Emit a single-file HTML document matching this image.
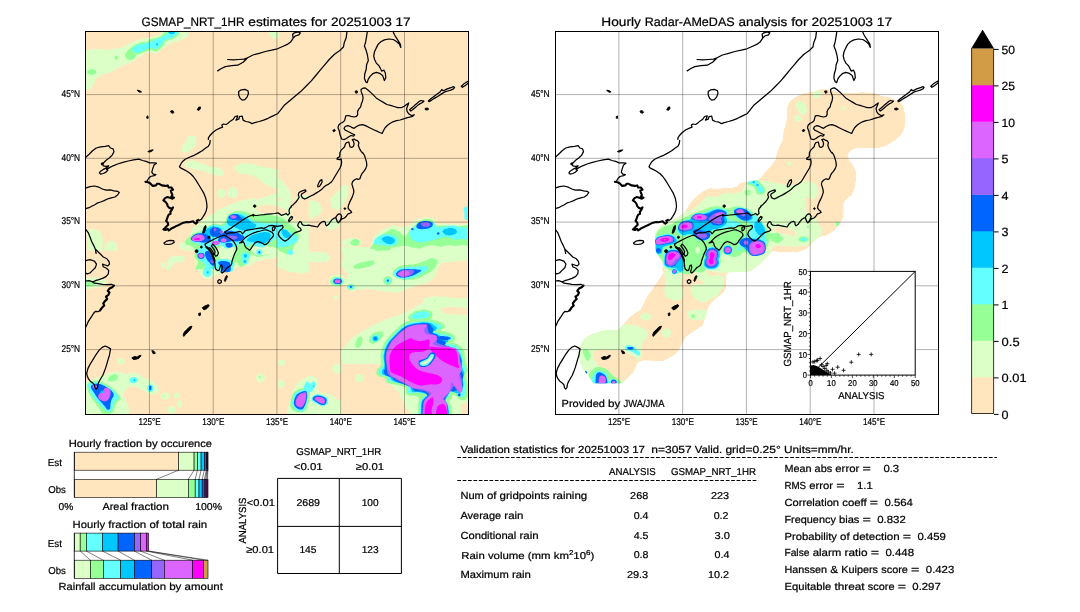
<!DOCTYPE html>
<html><head><meta charset="utf-8"><title>GSMAP validation</title>
<style>html,body{margin:0;padding:0;background:#fff;overflow:hidden}svg{display:block;will-change:transform}text{font-family:"Liberation Sans",sans-serif;fill:#000;stroke:#000;stroke-width:0.22px;text-rendering:geometricPrecision}</style></head><body>
<svg width="1080" height="612" viewBox="0 0 1080 612">
<rect width="1080" height="612" fill="#fff"/>
<defs><clipPath id="cl"><rect x="85.5" y="31.5" width="383" height="383"/></clipPath><clipPath id="cr"><rect x="555.5" y="31.5" width="383" height="383"/></clipPath></defs>
<g clip-path="url(#cl)">
<rect x="85" y="30" width="385" height="386" fill="#ffe6be"/>
<path d="M85.0,50.6C85.9,49.5 88.6,50.0 90.3,49.7C92.1,49.4 94.1,48.9 95.7,48.8C97.3,48.7 98.5,49.0 99.8,49.1C101.2,49.2 102.6,49.3 104.0,49.4C105.4,49.5 106.8,49.8 108.2,49.7C109.5,49.7 110.9,49.3 112.3,49.1C113.7,48.9 115.1,48.7 116.5,48.5C117.9,48.3 118.7,48.6 120.6,47.9C122.5,47.2 125.7,45.3 127.7,44.4C129.8,43.4 131.3,42.9 133.1,42.1C134.9,41.4 136.8,40.4 138.4,39.9C140.0,39.4 141.2,39.3 142.6,39.0C144.0,38.7 145.4,38.4 146.7,38.1C148.1,37.8 149.5,37.6 150.9,37.2C152.3,36.9 153.9,36.3 155.4,35.9C156.8,35.5 158.2,35.4 159.8,34.6C161.4,33.7 163.4,31.6 165.1,31.0C166.9,30.4 168.7,31.0 170.5,31.0C172.3,31.0 174.1,31.0 175.8,31.0C177.6,31.0 179.4,31.0 181.2,31.0C183.0,31.0 185.5,30.1 186.5,31.0C187.6,31.9 188.3,34.9 187.4,36.3C186.5,37.8 183.1,39.0 181.2,39.9C179.2,40.8 177.6,41.1 175.8,41.7C174.1,42.3 172.6,42.4 170.5,43.5C168.4,44.5 165.7,46.3 163.4,47.9C161.0,49.6 158.9,52.5 156.2,53.3C153.6,54.0 149.6,52.1 147.3,52.4C145.1,52.7 144.4,54.2 142.9,55.0C141.4,55.9 140.4,56.5 138.4,57.7C136.5,58.9 133.4,61.1 131.3,62.2C129.2,63.3 127.7,63.7 126.0,64.4C124.2,65.1 122.3,65.8 120.6,66.6C119.0,67.4 117.7,68.4 116.2,69.3C114.7,70.2 113.2,71.3 111.7,72.0C110.2,72.6 108.7,72.9 107.3,73.3C105.8,73.7 104.7,73.7 102.8,74.6C100.9,75.6 97.2,77.5 95.7,79.1C94.2,80.7 95.1,82.7 93.9,84.4C92.7,86.2 90.0,88.9 88.6,89.8C87.1,90.7 85.6,90.7 85.0,89.8C84.4,88.8 85.0,86.0 85.0,84.2C85.0,82.3 85.0,80.4 85.0,78.6C85.0,76.7 85.0,74.8 85.0,73.0C85.0,71.1 85.0,69.3 85.0,67.4C85.0,65.5 85.0,63.7 85.0,61.8C85.0,59.9 85.0,58.1 85.0,56.2C85.0,54.3 84.1,51.7 85.0,50.6Z" fill="#dcffc8"/>
<path d="M270.2,31.0C271.6,30.3 276.9,29.8 278.2,31.0C279.6,32.2 279.1,36.9 278.2,38.1C277.4,39.4 274.3,38.9 272.9,38.5C271.5,38.0 270.3,36.7 269.9,35.5C269.4,34.2 268.8,31.7 270.2,31.0Z" fill="#dcffc8"/>
<path d="M182.1,150.7C181.5,149.5 182.2,147.0 183.0,145.3C183.7,143.7 185.6,142.4 186.5,140.9C187.4,139.4 186.8,137.2 188.3,136.4C189.8,135.7 194.2,135.1 195.4,136.4C196.7,137.8 196.4,142.4 195.8,144.5C195.2,146.5 193.4,147.6 191.9,148.9C190.3,150.2 188.2,152.2 186.5,152.5C184.9,152.8 182.7,151.9 182.1,150.7Z" fill="#dcffc8"/>
<path d="M184.7,163.2C185.8,162.1 189.9,160.7 191.9,160.5C193.8,160.3 194.8,161.4 196.3,161.8C197.8,162.3 199.3,162.6 200.8,163.2C202.3,163.7 203.7,164.3 205.2,164.9C206.7,165.5 207.7,166.3 209.7,166.7C211.6,167.2 214.4,166.9 216.8,167.6C219.2,168.3 223.0,169.8 223.9,171.2C224.8,172.5 223.6,175.0 222.1,175.6C220.7,176.2 217.4,175.2 215.0,174.7C212.6,174.3 210.3,173.7 207.9,172.9C205.5,172.2 202.7,170.9 200.8,170.3C198.8,169.7 197.8,169.7 196.3,169.4C194.8,169.1 193.6,168.9 191.9,168.5C190.1,168.1 186.8,167.6 185.6,166.7C184.4,165.8 183.7,164.2 184.7,163.2Z" fill="#dcffc8"/>
<path d="M234.6,166.7C235.5,165.4 239.7,163.7 241.7,163.2C243.8,162.6 245.3,163.5 247.1,163.6C248.9,163.7 250.6,163.7 252.4,164.0C254.2,164.3 256.0,164.9 257.8,165.4C259.5,165.8 261.4,166.3 263.1,166.7C264.8,167.1 266.5,167.5 268.2,167.9C269.8,168.3 271.5,168.7 273.2,169.1C274.9,169.5 277.4,169.3 278.2,170.3C279.1,171.3 278.2,173.4 278.2,175.0C278.2,176.5 278.2,178.1 278.2,179.6C278.2,181.2 278.2,182.7 278.2,184.3C278.2,185.9 279.6,188.6 278.2,189.0C276.9,189.4 272.8,187.7 270.2,186.7C267.7,185.6 265.5,184.3 263.1,182.7C260.7,181.2 258.4,178.7 256.0,177.4C253.6,176.1 251.2,175.3 248.9,174.7C246.5,174.1 243.8,174.4 241.7,173.8C239.7,173.2 237.6,172.4 236.4,171.2C235.2,170.0 233.7,168.1 234.6,166.7Z" fill="#dcffc8"/>
<ellipse cx="221.3" cy="193.4" rx="4.5" ry="4.5" fill="#dcffc8" transform="rotate(0 221.3 193.4)"/>
<ellipse cx="232.8" cy="192.5" rx="5.3" ry="5.3" fill="#dcffc8" transform="rotate(0 232.8 192.5)"/>
<path d="M184.7,250.4C183.9,248.9 184.7,243.9 185.6,241.5C186.5,239.1 189.0,238.3 190.1,236.2C191.1,234.1 190.4,231.1 191.9,229.1C193.3,227.0 197.1,225.2 199.0,223.7C200.9,222.2 202.0,221.3 203.4,220.1C204.9,219.0 206.4,217.6 207.9,216.6C209.4,215.5 210.9,214.8 212.3,213.9C213.8,213.0 214.9,212.3 216.8,211.2C218.7,210.2 222.0,208.4 223.9,207.7C225.9,206.9 226.9,207.1 228.4,206.8C229.9,206.5 230.6,206.2 232.8,205.9C235.1,205.6 239.5,205.4 241.7,205.0C244.0,204.6 244.7,204.1 246.2,203.7C247.7,203.2 249.2,202.9 250.6,202.3C252.1,201.8 253.6,201.2 255.1,200.6C256.6,200.0 257.9,199.4 259.5,198.8C261.2,198.2 263.1,197.6 264.9,197.0C266.7,196.4 268.0,195.8 270.2,195.2C272.5,194.6 276.9,192.8 278.2,193.4C279.6,194.1 278.2,197.2 278.2,199.1C278.2,201.0 278.2,202.9 278.2,204.8C278.2,206.7 278.2,208.6 278.2,210.5C278.2,212.4 278.2,214.3 278.2,216.2C278.2,218.1 278.2,220.0 278.2,221.9C278.2,223.8 278.2,225.7 278.2,227.6C278.2,229.5 278.2,231.4 278.2,233.3C278.2,235.2 278.2,237.1 278.2,239.0C278.2,240.9 278.2,242.8 278.2,244.7C278.2,246.6 279.2,249.5 278.2,250.4C277.3,251.4 274.4,250.4 272.4,250.4C270.5,250.4 268.5,250.4 266.6,250.4C264.6,250.4 262.7,250.4 260.7,250.4C258.8,250.4 256.8,250.4 254.9,250.4C252.9,250.4 251.0,250.4 249.0,250.4C247.1,250.4 245.1,250.4 243.2,250.4C241.2,250.4 239.3,250.4 237.3,250.4C235.4,250.4 233.4,250.4 231.5,250.4C229.5,250.4 227.6,250.4 225.6,250.4C223.7,250.4 221.8,250.4 219.8,250.4C217.9,250.4 215.9,250.4 214.0,250.4C212.0,250.4 210.1,250.4 208.1,250.4C206.2,250.4 204.2,250.4 202.3,250.4C200.3,250.4 198.4,250.4 196.4,250.4C194.5,250.4 192.5,250.4 190.6,250.4C188.6,250.4 185.6,251.9 184.7,250.4Z" fill="#dcffc8"/>
<path d="M86.8,232.6C87.6,231.0 90.2,229.4 92.1,229.1C94.1,228.8 96.7,229.6 98.4,230.8C100.0,232.0 101.2,234.1 101.9,236.2C102.7,238.3 103.0,240.9 102.8,243.3C102.7,245.7 102.0,249.2 101.0,250.4C100.0,251.6 98.3,250.4 96.9,250.4C95.5,250.4 94.1,250.4 92.7,250.4C91.3,250.4 89.4,251.4 88.6,250.4C87.8,249.4 88.2,246.5 88.0,244.5C87.8,242.5 87.6,240.5 87.4,238.6C87.2,236.6 86.0,234.2 86.8,232.6Z" fill="#dcffc8"/>
<path d="M104.6,246.9C105.3,245.4 107.3,242.3 109.0,241.5C110.8,240.8 113.9,240.9 115.3,242.4C116.6,243.9 117.5,249.1 117.1,250.4C116.7,251.8 114.3,250.4 112.9,250.4C111.5,250.4 110.1,250.4 108.7,250.4C107.4,250.4 105.3,251.0 104.6,250.4C103.9,249.8 103.8,248.3 104.6,246.9Z" fill="#dcffc8"/>
<path d="M213.4,222.4C214.4,220.6 213.6,216.3 214.6,214.1C215.6,211.9 217.9,210.4 219.4,209.3C220.9,208.2 222.1,208.1 223.5,207.5C224.9,206.9 226.3,206.3 227.7,205.7C229.1,205.1 230.5,204.5 231.9,203.9C233.3,203.4 234.0,202.9 236.1,202.2C238.2,201.5 241.8,200.4 244.4,199.8C247.0,199.2 249.6,198.7 251.6,198.6C253.6,198.5 254.8,199.0 256.3,199.2C257.9,199.4 259.1,199.3 261.1,199.8C263.1,200.3 265.9,201.8 268.3,202.2C270.7,202.6 272.8,202.6 275.4,202.2C278.0,201.8 281.0,200.4 283.8,199.8C286.6,199.2 289.5,199.2 292.1,198.6C294.7,198.0 297.3,196.7 299.3,196.2C301.3,195.7 302.5,195.8 304.1,195.6C305.7,195.4 308.0,194.1 308.8,195.0C309.6,195.9 308.8,199.0 308.8,200.9C308.8,202.9 308.8,204.9 308.8,206.9C308.8,208.8 308.8,210.8 308.8,212.8C308.8,214.8 308.8,216.7 308.8,218.7C308.8,220.7 308.8,222.7 308.8,224.6C308.8,226.6 308.8,228.6 308.8,230.6C308.8,232.5 308.8,234.5 308.8,236.5C308.8,238.5 308.8,240.5 308.8,242.4C308.8,244.4 308.8,246.4 308.8,248.4C308.8,250.3 309.6,253.2 308.8,254.3C308.0,255.4 305.7,254.7 304.1,254.9C302.5,255.1 301.3,255.2 299.3,255.5C297.3,255.8 294.1,256.3 292.1,256.7C290.1,257.1 289.2,258.1 287.4,257.9C285.6,257.7 283.4,255.5 281.4,255.5C279.4,255.5 277.6,257.3 275.4,257.9C273.2,258.5 270.7,258.7 268.3,259.1C265.9,259.5 263.5,259.7 261.1,260.3C258.7,260.8 255.9,261.7 254.0,262.6C252.0,263.5 251.2,265.0 249.2,265.6C247.2,266.2 244.2,265.9 242.0,266.2C239.8,266.5 237.9,266.8 236.1,267.4C234.3,268.0 233.1,269.0 231.3,269.8C229.5,270.6 227.3,271.6 225.3,272.2C223.3,272.8 221.2,272.8 219.4,273.4C217.6,274.0 216.2,274.8 214.6,275.8C213.0,276.8 211.6,278.9 209.8,279.3C208.0,279.7 205.3,278.9 203.9,278.1C202.5,277.4 202.5,276.0 201.5,274.6C200.5,273.2 198.8,271.1 197.9,269.8C197.0,268.5 196.6,267.9 196.1,266.6C195.6,265.2 195.0,263.8 194.9,261.8C194.8,259.8 195.8,256.6 195.5,254.6C195.2,252.7 194.5,251.0 193.1,249.9C191.7,248.8 189.3,248.2 187.2,248.1C185.0,248.0 181.2,250.2 180.0,249.3C178.8,248.4 179.4,243.8 180.0,242.7C180.6,241.6 182.4,243.1 183.6,242.7C184.8,242.3 185.8,241.5 187.2,240.3C188.5,239.1 190.1,237.1 191.9,235.6C193.7,234.0 195.9,232.5 197.9,230.8C199.9,229.1 202.1,226.4 203.9,225.4C205.6,224.4 207.0,225.3 208.6,224.8C210.2,224.3 212.4,224.2 213.4,222.4Z" fill="#dcffc8"/>
<path d="M282.6,262.7C282.3,264.1 284.7,264.4 285.8,265.3C286.8,266.1 287.9,267.0 289.0,267.8C290.0,268.7 290.4,269.5 292.1,270.4C293.9,271.3 297.3,273.0 299.3,273.4C301.3,273.8 302.5,273.0 304.1,272.8C305.7,272.6 308.0,273.1 308.8,272.2C309.6,271.3 308.8,269.0 308.8,267.4C308.8,265.8 308.8,264.3 308.8,262.7C308.8,261.1 308.8,259.5 308.8,257.9C308.8,256.3 309.7,253.8 308.8,253.1C307.9,252.5 305.3,253.7 303.5,254.0C301.7,254.3 299.9,254.6 298.1,254.9C296.3,255.2 294.5,255.5 292.7,255.8C290.9,256.1 289.1,255.6 287.4,256.7C285.7,257.8 282.9,261.2 282.6,262.7Z" fill="#dcffc8"/>
<path d="M277.0,177.4C277.9,177.2 280.6,179.2 282.3,181.0C284.1,182.7 286.2,185.7 287.7,188.1C289.2,190.5 291.2,193.1 291.2,195.2C291.2,197.3 289.5,200.0 287.7,200.6C285.9,201.2 282.3,199.4 280.6,198.8C278.8,198.2 277.6,198.1 277.0,197.0C276.4,195.9 277.0,193.7 277.0,192.1C277.0,190.5 277.0,188.8 277.0,187.2C277.0,185.6 277.0,183.9 277.0,182.3C277.0,180.7 276.1,177.6 277.0,177.4Z" fill="#dcffc8"/>
<path d="M301.0,207.7C301.5,205.6 303.6,203.5 305.5,202.3C307.4,201.2 310.2,200.3 312.6,200.6C315.0,200.9 318.3,202.3 319.7,204.1C321.2,205.9 322.1,209.2 321.5,211.2C320.9,213.3 318.3,215.4 316.2,216.6C314.1,217.8 311.3,218.7 309.1,218.4C306.8,218.1 304.2,216.6 302.8,214.8C301.5,213.0 300.6,209.8 301.0,207.7Z" fill="#dcffc8"/>
<path d="M330.4,198.8C331.2,197.1 334.4,194.9 335.8,193.4C337.2,191.9 337.9,191.1 338.9,189.9C339.9,188.7 340.6,187.1 342.0,186.3C343.4,185.6 346.3,184.2 347.4,185.4C348.4,186.6 348.4,191.4 348.2,193.4C348.1,195.5 347.1,196.4 346.5,197.9C345.9,199.4 345.9,200.4 344.7,202.3C343.5,204.3 341.4,208.6 339.3,209.5C337.3,210.4 333.5,208.7 332.2,207.7C330.9,206.6 331.6,204.7 331.3,203.2C331.0,201.7 329.7,200.4 330.4,198.8Z" fill="#dcffc8"/>
<path d="M325.1,223.7C325.5,222.2 328.4,219.9 330.4,219.3C332.5,218.7 336.1,219.1 337.6,220.1C339.0,221.2 339.9,224.0 339.3,225.5C338.7,227.0 335.9,228.6 334.0,229.1C332.1,229.5 329.2,229.1 327.8,228.2C326.3,227.3 324.6,225.2 325.1,223.7Z" fill="#dcffc8"/>
<path d="M277.0,218.4C277.7,217.6 280.0,219.0 281.5,219.3C282.9,219.6 284.7,219.5 285.9,220.1C287.1,220.8 287.9,222.1 288.9,223.1C289.9,224.1 290.9,225.1 291.8,226.1C292.8,227.1 293.7,228.0 294.8,229.1C295.9,230.1 297.2,231.4 298.4,232.6C299.6,233.8 300.2,235.1 301.9,236.2C303.7,237.2 308.2,237.7 309.1,238.8C309.9,240.0 308.3,242.4 307.3,243.3C306.2,244.2 304.3,243.9 302.8,244.2C301.3,244.5 300.3,244.0 298.4,245.1C296.4,246.1 293.2,249.5 291.2,250.4C289.3,251.3 288.1,250.4 286.5,250.4C284.9,250.4 283.3,250.4 281.7,250.4C280.2,250.4 277.8,251.3 277.0,250.4C276.2,249.5 277.0,246.9 277.0,245.1C277.0,243.3 277.0,241.5 277.0,239.7C277.0,238.0 277.0,236.2 277.0,234.4C277.0,232.6 277.0,230.8 277.0,229.1C277.0,227.3 277.0,225.5 277.0,223.7C277.0,221.9 276.3,219.1 277.0,218.4Z" fill="#dcffc8"/>
<path d="M342.0,241.5C342.6,240.5 344.5,239.4 346.5,238.8C348.4,238.3 351.4,237.8 353.6,238.0C355.8,238.1 358.6,238.7 359.8,239.7C361.0,240.8 361.5,243.1 360.7,244.2C360.0,245.3 357.4,246.1 355.4,246.5C353.3,246.9 350.3,246.7 348.2,246.5C346.2,246.3 343.9,245.9 342.9,245.1C341.9,244.3 341.4,242.6 342.0,241.5Z" fill="#dcffc8"/>
<path d="M371.4,250.4C370.6,248.9 371.4,244.2 372.3,241.5C373.2,238.8 374.8,236.5 376.7,234.4C378.7,232.3 381.9,230.2 383.9,229.1C385.8,227.9 386.8,227.9 388.3,227.3C389.8,226.7 391.3,225.6 392.8,225.5C394.3,225.3 395.7,226.1 397.2,226.4C398.7,226.7 399.7,227.4 401.7,227.3C403.6,227.1 406.4,226.7 408.8,225.5C411.2,224.3 414.0,221.3 415.9,220.1C417.9,219.0 418.9,219.3 420.4,218.8C421.9,218.4 422.6,217.6 424.8,217.5C427.1,217.4 431.7,217.3 433.7,218.4C435.8,219.4 435.8,222.8 437.3,223.7C438.8,224.6 440.9,223.7 442.6,223.7C444.4,223.7 446.2,223.6 448.0,223.7C449.8,223.8 451.5,224.0 453.3,224.2C455.1,224.3 456.8,224.6 458.7,224.6C460.5,224.6 462.5,224.3 464.5,224.2C466.4,224.0 469.3,222.9 470.2,223.7C471.2,224.5 470.2,227.3 470.2,229.1C470.2,230.8 470.2,232.6 470.2,234.4C470.2,236.2 470.2,238.0 470.2,239.7C470.2,241.5 470.2,243.3 470.2,245.1C470.2,246.9 471.2,249.5 470.2,250.4C469.3,251.3 466.4,250.4 464.4,250.4C462.5,250.4 460.6,250.4 458.6,250.4C456.7,250.4 454.7,250.4 452.8,250.4C450.9,250.4 448.9,250.4 447.0,250.4C445.0,250.4 443.1,250.4 441.2,250.4C439.2,250.4 437.3,250.4 435.4,250.4C433.4,250.4 431.5,250.4 429.5,250.4C427.6,250.4 425.7,250.4 423.7,250.4C421.8,250.4 419.9,250.4 417.9,250.4C416.0,250.4 414.0,250.4 412.1,250.4C410.2,250.4 408.2,250.4 406.3,250.4C404.3,250.4 402.4,250.4 400.5,250.4C398.5,250.4 396.6,250.4 394.7,250.4C392.7,250.4 390.8,250.4 388.8,250.4C386.9,250.4 385.0,250.4 383.0,250.4C381.1,250.4 379.1,250.4 377.2,250.4C375.3,250.4 372.2,251.9 371.4,250.4Z" fill="#dcffc8"/>
<path d="M85.0,279.3C86.2,278.2 89.5,277.6 92.1,277.5C94.8,277.3 98.7,277.6 101.0,278.4C103.4,279.1 106.1,280.6 106.4,281.9C106.7,283.3 104.1,285.5 102.8,286.4C101.5,287.3 99.8,287.0 98.4,287.3C96.9,287.6 96.1,287.9 93.9,288.2C91.7,288.5 86.5,289.7 85.0,289.1C83.5,288.4 85.0,285.8 85.0,284.2C85.0,282.5 83.8,280.4 85.0,279.3Z" fill="#dcffc8"/>
<ellipse cx="163.4" cy="265.0" rx="2.7" ry="2.7" fill="#dcffc8" transform="rotate(0 163.4 265.0)"/>
<path d="M168.7,258.8C170.1,257.5 173.2,256.4 175.8,256.1C178.5,255.8 183.6,256.1 184.7,257.0C185.9,257.9 184.0,260.6 183.0,261.5C181.9,262.4 180.0,262.1 178.5,262.4C177.0,262.7 175.5,262.1 174.1,263.2C172.6,264.4 170.9,268.6 169.6,269.5C168.3,270.4 166.4,269.6 166.0,268.6C165.7,267.6 166.9,265.3 167.4,263.7C167.8,262.1 167.3,260.1 168.7,258.8Z" fill="#dcffc8"/>
<path d="M277.0,249.0C277.8,248.0 280.3,249.0 281.9,249.0C283.5,249.0 285.2,249.0 286.8,249.0C288.4,249.0 290.1,249.0 291.7,249.0C293.3,249.0 294.9,248.1 296.6,249.0C298.3,249.9 300.7,252.3 301.9,254.3C303.1,256.4 304.0,259.1 303.7,261.5C303.4,263.8 301.9,266.8 300.2,268.6C298.4,270.4 295.4,271.9 293.0,272.2C290.7,272.5 287.8,271.0 285.9,270.4C284.0,269.8 282.9,269.2 281.5,268.6C280.0,268.0 277.7,268.1 277.0,266.8C276.3,265.5 277.0,262.9 277.0,260.9C277.0,258.9 277.0,256.9 277.0,254.9C277.0,253.0 276.2,250.0 277.0,249.0Z" fill="#dcffc8"/>
<path d="M303.7,254.3C304.2,253.1 306.7,253.5 308.2,253.0C309.7,252.6 311.2,251.8 312.6,251.7C314.1,251.5 315.4,251.9 316.8,252.0C318.2,252.1 319.5,252.2 320.9,252.3C322.3,252.4 323.5,251.8 325.1,252.6C326.7,253.4 330.1,255.5 330.4,257.0C330.7,258.5 328.4,260.7 326.9,261.5C325.4,262.3 323.3,261.8 321.5,261.9C319.7,262.1 318.0,262.4 316.2,262.4C314.4,262.3 312.6,261.8 310.8,261.5C309.1,261.2 306.7,261.8 305.5,260.6C304.3,259.4 303.3,255.6 303.7,254.3Z" fill="#dcffc8"/>
<path d="M341.1,247.2C341.9,246.3 345.0,247.2 347.0,247.2C348.9,247.2 350.9,247.2 352.9,247.2C354.8,247.2 356.8,247.2 358.7,247.2C360.7,247.2 362.6,247.2 364.6,247.2C366.6,247.2 368.5,247.2 370.5,247.2C372.4,247.2 374.4,247.2 376.3,247.2C378.3,247.2 380.2,247.2 382.2,247.2C384.2,247.2 386.1,247.2 388.1,247.2C390.0,247.2 392.0,247.2 393.9,247.2C395.9,247.2 397.9,247.2 399.8,247.2C401.8,247.2 403.7,247.2 405.7,247.2C407.6,247.2 409.6,247.2 411.6,247.2C413.5,247.2 415.5,247.2 417.4,247.2C419.4,247.2 421.3,247.2 423.3,247.2C425.2,247.2 427.2,247.2 429.2,247.2C431.1,247.2 433.1,247.2 435.0,247.2C437.0,247.2 438.9,247.2 440.9,247.2C442.9,247.2 444.8,247.2 446.8,247.2C448.7,247.2 450.7,247.2 452.6,247.2C454.6,247.2 456.6,247.2 458.5,247.2C460.5,247.2 462.4,247.2 464.4,247.2C466.3,247.2 469.3,246.5 470.2,247.2C471.2,247.9 470.2,250.0 470.2,251.4C470.2,252.8 470.2,254.1 470.2,255.5C470.2,256.9 471.1,258.9 470.2,259.7C469.4,260.5 466.9,260.1 465.2,260.3C463.5,260.5 461.8,260.7 460.2,260.9C458.5,261.1 456.7,261.3 455.1,261.5C453.5,261.7 451.9,261.9 450.4,262.1C448.8,262.3 447.2,262.5 445.6,262.7C444.0,262.9 442.2,262.0 440.9,263.2C439.5,264.5 438.5,268.0 437.3,270.4C436.1,272.7 435.5,275.4 433.7,277.5C432.0,279.6 429.0,281.7 426.6,282.8C424.2,284.0 421.9,283.9 419.5,284.6C417.1,285.4 414.7,286.4 412.4,287.3C410.0,288.2 407.6,289.1 405.2,290.0C402.9,290.9 400.2,292.3 398.1,292.6C396.0,293.0 394.6,292.3 392.8,292.2C391.0,292.0 389.2,292.0 387.4,291.7C385.6,291.5 383.9,291.2 382.1,290.9C380.3,290.6 378.5,290.2 376.7,290.0C375.0,289.7 373.2,289.7 371.4,289.5C369.6,289.4 368.1,289.0 366.1,289.1C364.0,289.1 361.3,289.7 358.9,290.0C356.6,290.3 353.9,291.3 351.8,290.9C349.7,290.4 347.6,288.9 346.5,287.3C345.3,285.7 344.4,283.0 344.7,281.1C345.0,279.1 348.2,277.5 348.2,275.7C348.2,273.9 345.9,272.2 344.7,270.4C343.5,268.6 341.4,267.1 341.1,265.0C340.8,263.0 342.8,260.0 342.9,257.9C343.0,255.8 342.3,254.3 342.0,252.6C341.7,250.8 340.3,248.1 341.1,247.2Z" fill="#dcffc8"/>
<path d="M328.7,281.1C328.9,279.4 330.3,276.8 332.2,275.7C334.1,274.7 338.0,274.2 340.2,274.8C342.5,275.4 345.0,277.5 345.6,279.3C346.2,281.1 345.4,284.2 343.8,285.5C342.2,286.8 338.0,287.3 335.8,287.3C333.5,287.3 331.6,286.6 330.4,285.5C329.2,284.5 328.4,282.7 328.7,281.1Z" fill="#dcffc8"/>
<path d="M423.0,298.9C423.9,298.1 426.6,298.0 428.4,297.5C430.2,297.1 432.1,296.4 433.7,296.2C435.4,296.0 436.9,296.4 438.5,296.5C440.1,296.6 441.7,296.7 443.2,296.8C444.8,296.9 446.4,296.8 448.0,297.1C449.6,297.3 451.1,297.9 452.7,298.3C454.3,298.7 455.9,299.1 457.5,299.5C459.1,299.9 460.1,300.2 462.2,300.7C464.4,301.1 468.9,301.1 470.2,302.4C471.6,303.7 470.2,306.4 470.2,308.4C470.2,310.3 470.2,312.3 470.2,314.3C470.2,316.3 471.6,319.8 470.2,320.2C468.9,320.6 464.8,318.2 462.2,316.7C459.7,315.2 457.0,312.4 455.1,311.3C453.2,310.3 452.1,310.7 450.7,310.4C449.2,310.2 447.7,309.9 446.2,309.6C444.7,309.3 443.2,309.0 441.7,308.7C440.3,308.4 438.8,308.1 437.3,307.8C435.8,307.5 434.3,307.2 432.8,306.9C431.4,306.6 430.0,306.7 428.4,306.0C426.8,305.3 423.9,303.6 423.0,302.4C422.2,301.2 422.2,299.7 423.0,298.9Z" fill="#dcffc8"/>
<path d="M348.2,359.4C347.4,358.5 348.8,355.9 349.1,354.1C349.4,352.3 349.4,350.4 350.0,348.7C350.6,347.1 351.8,345.8 352.7,344.3C353.6,342.8 354.3,341.2 355.4,339.8C356.4,338.5 357.7,337.5 358.9,336.3C360.1,335.1 361.3,333.7 362.5,332.7C363.7,331.7 364.9,331.1 366.1,330.3C367.2,329.5 368.4,328.8 369.6,328.0C370.8,327.2 371.7,326.4 373.2,325.6C374.7,324.7 376.7,323.8 378.5,322.9C380.3,322.0 382.1,321.0 383.9,320.2C385.6,319.5 387.4,319.1 389.2,318.5C391.0,317.9 392.8,317.3 394.6,316.7C396.3,316.1 398.1,315.5 399.9,314.9C401.7,314.3 403.5,313.7 405.2,313.1C407.0,312.5 408.8,311.9 410.6,311.3C412.4,310.7 414.1,309.9 415.9,309.6C417.7,309.3 419.5,309.6 421.3,309.6C423.0,309.6 424.8,309.4 426.6,309.6C428.4,309.7 430.2,310.2 432.0,310.4C433.7,310.7 435.5,310.9 437.3,311.3C439.1,311.8 440.9,312.5 442.6,313.1C444.4,313.7 446.2,314.2 448.0,314.9C449.8,315.6 451.5,316.7 453.3,317.6C455.1,318.5 457.1,319.6 458.7,320.2C460.2,320.9 461.2,321.0 462.5,321.4C463.8,321.8 465.1,322.2 466.4,322.6C467.7,323.0 469.6,322.6 470.2,323.8C470.9,325.0 470.2,327.8 470.2,329.7C470.2,331.7 470.2,333.7 470.2,335.7C470.2,337.7 470.2,339.6 470.2,341.6C470.2,343.6 470.2,345.6 470.2,347.6C470.2,349.5 470.2,351.5 470.2,353.5C470.2,355.5 471.2,358.4 470.2,359.4C469.3,360.4 466.4,359.4 464.4,359.4C462.5,359.4 460.6,359.4 458.6,359.4C456.7,359.4 454.8,359.4 452.8,359.4C450.9,359.4 448.9,359.4 447.0,359.4C445.1,359.4 443.1,359.4 441.2,359.4C439.3,359.4 437.3,359.4 435.4,359.4C433.5,359.4 431.5,359.4 429.6,359.4C427.6,359.4 425.7,359.4 423.8,359.4C421.8,359.4 419.9,359.4 418.0,359.4C416.0,359.4 414.1,359.4 412.1,359.4C410.2,359.4 408.3,359.4 406.3,359.4C404.4,359.4 402.5,359.4 400.5,359.4C398.6,359.4 396.7,359.4 394.7,359.4C392.8,359.4 390.8,359.4 388.9,359.4C387.0,359.4 385.0,359.4 383.1,359.4C381.2,359.4 379.2,359.4 377.3,359.4C375.4,359.4 373.4,359.4 371.5,359.4C369.5,359.4 367.6,359.4 365.7,359.4C363.7,359.4 361.8,359.4 359.9,359.4C357.9,359.4 356.0,359.4 354.1,359.4C352.1,359.4 349.1,360.3 348.2,359.4Z" fill="#dcffc8"/>
<ellipse cx="335.8" cy="297.1" rx="2.1" ry="2.1" fill="#dcffc8" transform="rotate(0 335.8 297.1)"/>
<path d="M341.0,350.5C341.8,348.9 344.2,347.1 345.8,345.3C347.4,343.5 348.9,341.3 350.6,339.5C352.4,337.8 354.7,335.9 356.4,334.7C358.1,333.5 359.3,333.1 360.8,332.3C362.2,331.5 363.6,330.7 365.1,329.9C366.6,329.1 368.3,328.3 369.9,327.5C371.5,326.7 373.1,325.9 374.7,325.1C376.3,324.3 377.9,323.5 379.6,322.7C381.2,321.8 382.8,320.9 384.4,320.2C386.0,319.6 387.6,319.1 389.2,318.6C390.8,318.1 392.4,317.6 394.0,317.0C395.6,316.4 397.2,315.7 398.8,315.0C400.4,314.4 402.1,313.8 403.7,313.1C405.2,312.4 406.5,311.6 408.0,310.9C409.4,310.2 410.8,309.5 412.3,308.7C413.9,307.9 415.5,306.9 417.1,306.1C418.8,305.2 420.5,304.4 422.0,303.5C423.4,302.6 424.5,301.7 425.8,300.8C427.1,299.9 428.1,298.5 429.7,298.1C431.3,297.6 433.5,298.1 435.5,298.1C437.4,298.1 439.3,298.1 441.2,298.1C443.2,298.1 445.1,298.1 447.0,298.1C449.0,298.1 450.9,298.1 452.8,298.1C454.7,298.1 456.7,298.1 458.6,298.1C460.5,298.1 462.4,298.1 464.4,298.1C466.3,298.1 468.2,298.1 470.2,298.1C472.1,298.1 475.0,297.1 475.9,298.1C476.9,299.1 475.9,302.1 475.9,304.0C475.9,306.0 475.9,308.0 475.9,310.0C475.9,312.0 475.9,314.0 475.9,316.0C475.9,318.0 475.9,320.0 475.9,321.9C475.9,323.9 475.9,325.9 475.9,327.9C475.9,329.9 475.9,331.9 475.9,333.9C475.9,335.9 475.9,337.9 475.9,339.8C475.9,341.8 475.9,343.8 475.9,345.8C475.9,347.8 475.9,349.8 475.9,351.8C475.9,353.8 475.9,355.8 475.9,357.7C475.9,359.7 475.9,361.7 475.9,363.7C475.9,365.7 475.9,367.7 475.9,369.7C475.9,371.7 475.9,373.7 475.9,375.6C475.9,377.6 475.9,379.6 475.9,381.6C475.9,383.6 475.9,385.6 475.9,387.6C475.9,389.6 475.9,391.6 475.9,393.5C475.9,395.5 475.9,397.5 475.9,399.5C475.9,401.5 475.9,403.5 475.9,405.5C475.9,407.5 475.9,409.5 475.9,411.4C475.9,413.4 475.9,415.4 475.9,417.4C475.9,419.4 476.9,422.4 475.9,423.4C475.0,424.4 472.1,423.4 470.2,423.4C468.2,423.4 466.3,423.4 464.4,423.4C462.4,423.4 460.5,423.4 458.6,423.4C456.7,423.4 454.7,423.4 452.8,423.4C450.9,423.4 449.0,423.4 447.0,423.4C445.1,423.4 443.2,423.4 441.2,423.4C439.3,423.4 437.4,423.4 435.5,423.4C433.5,423.4 431.6,423.4 429.7,423.4C427.7,423.4 425.8,423.4 423.9,423.4C422.0,423.4 419.6,424.0 418.1,423.4C416.7,422.7 416.2,420.8 415.2,419.5C414.3,418.2 413.3,416.9 412.3,415.7C411.4,414.4 410.4,413.1 409.4,411.8C408.5,410.5 407.5,409.5 406.5,408.0C405.6,406.5 404.8,404.5 404.0,402.8C403.1,401.1 402.3,399.4 401.4,397.7C400.5,396.0 399.8,393.9 398.8,392.5C397.9,391.1 396.7,390.4 395.6,389.3C394.5,388.2 393.5,387.2 392.4,386.1C391.3,385.0 390.0,384.2 389.2,382.9C388.4,381.6 388.1,379.8 387.5,378.3C386.9,376.8 386.4,375.3 385.8,373.7C385.3,372.2 384.7,370.7 384.1,369.2C383.6,367.6 383.4,365.4 382.4,364.6C381.5,363.8 379.7,364.4 378.3,364.3C376.9,364.1 375.5,364.0 374.1,363.9C372.7,363.8 371.4,363.6 369.9,363.6C368.5,363.6 366.9,363.7 365.4,363.7C363.9,363.8 362.4,363.8 360.9,363.9C359.4,363.9 358.0,364.0 356.4,364.0C354.8,364.0 353.0,363.9 351.3,363.9C349.6,363.8 347.9,363.8 346.1,363.7C344.4,363.7 341.9,364.4 341.0,363.6C340.1,362.9 341.0,360.7 341.0,359.2C341.0,357.8 341.0,356.3 341.0,354.9C341.0,353.4 340.2,352.1 341.0,350.5Z" fill="#dcffc8"/>
<ellipse cx="359.3" cy="378.1" rx="3.9" ry="3.9" fill="#dcffc8" transform="rotate(0 359.3 378.1)"/>
<ellipse cx="376.7" cy="360.7" rx="6.7" ry="3.1" fill="#dcffc8" transform="rotate(0 376.7 360.7)"/>
<path d="M86.2,381.8C87.2,380.5 90.0,380.2 92.2,379.4C94.3,378.6 96.9,377.9 99.3,377.0C101.7,376.1 104.1,374.9 106.5,374.0C108.9,373.1 111.2,371.9 113.6,371.6C116.0,371.3 118.6,371.8 120.8,372.2C123.0,372.6 124.8,374.0 126.8,374.0C128.7,374.0 130.7,372.1 132.7,372.2C134.7,372.3 136.7,373.6 138.7,374.6C140.7,375.6 142.5,377.2 144.6,378.2C146.8,379.2 149.8,379.4 151.8,380.6C153.8,381.8 155.4,383.7 156.6,385.3C157.8,386.9 159.0,388.7 159.0,390.1C159.0,391.5 157.8,392.9 156.6,393.7C155.4,394.5 153.4,395.1 151.8,394.9C150.2,394.7 148.6,393.3 147.0,392.5C145.4,391.7 143.9,390.9 142.3,390.1C140.7,389.3 139.1,388.3 137.5,387.7C135.9,387.1 134.3,386.5 132.7,386.5C131.1,386.5 129.3,386.9 127.9,387.7C126.6,388.5 125.2,389.9 124.4,391.3C123.6,392.7 123.0,394.5 123.2,396.1C123.4,397.7 124.8,399.2 125.6,400.8C126.4,402.4 127.3,404.0 127.9,405.6C128.5,407.2 129.1,409.0 129.1,410.4C129.1,411.8 129.1,413.4 127.9,414.0C126.8,414.6 124.0,414.0 122.0,414.0C120.0,414.0 118.0,414.0 116.0,414.0C114.0,414.0 112.0,414.0 110.1,414.0C108.1,414.0 106.1,414.0 104.1,414.0C102.1,414.0 100.1,414.0 98.1,414.0C96.1,414.0 94.1,414.0 92.2,414.0C90.2,414.0 87.2,414.9 86.2,414.0C85.2,413.1 86.2,410.4 86.2,408.6C86.2,406.8 86.2,405.0 86.2,403.2C86.2,401.4 86.2,399.6 86.2,397.9C86.2,396.1 86.2,394.3 86.2,392.5C86.2,390.7 86.2,388.9 86.2,387.1C86.2,385.3 85.2,383.0 86.2,381.8Z" fill="#dcffc8"/>
<ellipse cx="120.8" cy="361.2" rx="3.6" ry="3.2" fill="#dcffc8" transform="rotate(0 120.8 361.2)"/>
<ellipse cx="165.2" cy="396.1" rx="4.5" ry="3.3" fill="#dcffc8" transform="rotate(0 165.2 396.1)"/>
<ellipse cx="176.6" cy="395.5" rx="2.6" ry="3.0" fill="#dcffc8" transform="rotate(0 176.6 395.5)"/>
<ellipse cx="179.5" cy="404.1" rx="2.6" ry="3.8" fill="#dcffc8" transform="rotate(0 179.5 404.1)"/>
<ellipse cx="171.5" cy="409.8" rx="4.2" ry="3.6" fill="#dcffc8" transform="rotate(0 171.5 409.8)"/>
<path d="M287.0,414.0C286.2,412.8 287.6,409.2 288.2,406.8C288.8,404.4 289.7,402.0 290.5,399.6C291.3,397.3 292.1,394.7 292.9,392.5C293.7,390.3 294.3,388.3 295.3,386.5C296.3,384.7 297.3,383.1 298.9,381.8C300.5,380.4 302.7,379.2 304.9,378.2C307.0,377.2 310.0,375.6 312.0,375.8C314.0,376.0 315.7,378.0 316.8,379.4C317.9,380.8 318.6,382.5 318.6,384.1C318.6,385.7 316.5,387.5 316.8,388.9C317.1,390.3 318.8,391.7 320.4,392.5C322.0,393.3 324.3,393.1 326.3,393.7C328.3,394.3 330.5,395.1 332.3,396.1C334.1,397.1 335.5,398.7 337.1,399.6C338.7,400.6 341.0,400.6 341.8,402.0C342.6,403.4 341.8,406.0 341.8,408.0C341.8,410.0 342.7,413.0 341.8,414.0C340.9,415.0 338.2,414.0 336.3,414.0C334.5,414.0 332.7,414.0 330.9,414.0C329.0,414.0 327.2,414.0 325.4,414.0C323.5,414.0 321.7,414.0 319.9,414.0C318.1,414.0 316.2,414.0 314.4,414.0C312.6,414.0 310.7,414.0 308.9,414.0C307.1,414.0 305.3,414.0 303.4,414.0C301.6,414.0 299.8,414.0 297.9,414.0C296.1,414.0 294.3,414.0 292.4,414.0C290.6,414.0 287.7,415.2 287.0,414.0Z" fill="#dcffc8"/>
<ellipse cx="281.6" cy="362.9" rx="3.3" ry="3.3" fill="#dcffc8" transform="rotate(0 281.6 362.9)"/>
<ellipse cx="260.5" cy="377.9" rx="4.5" ry="4.5" fill="#dcffc8" transform="rotate(0 260.5 377.9)"/>
<ellipse cx="281.2" cy="383.9" rx="3.6" ry="3.6" fill="#dcffc8" transform="rotate(0 281.2 383.9)"/>
<ellipse cx="337.1" cy="368.6" rx="4.8" ry="4.8" fill="#dcffc8" transform="rotate(0 337.1 368.6)"/>
<path d="M257.5,206.9C258.9,205.7 263.7,204.8 265.9,204.5C268.1,204.2 269.1,204.9 270.7,205.1C272.3,205.3 273.4,205.2 275.4,205.7C277.4,206.2 280.6,207.1 282.6,208.1C284.6,209.1 287.6,210.7 287.4,211.7C287.2,212.7 283.8,213.9 281.4,214.1C279.0,214.3 275.2,213.1 273.0,212.9C270.9,212.7 269.9,212.9 268.3,212.9C266.7,212.9 265.3,213.1 263.5,212.9C261.7,212.7 258.5,212.7 257.5,211.7C256.5,210.7 256.1,208.1 257.5,206.9Z" fill="#ffe6be"/>
<path d="M291.5,199.8C292.7,198.9 295.4,199.5 297.3,199.4C299.2,199.2 301.1,199.1 303.1,199.0C305.0,198.8 307.9,197.7 308.8,198.6C309.8,199.5 308.8,202.5 308.8,204.4C308.8,206.3 308.8,208.3 308.8,210.2C308.8,212.1 308.8,214.1 308.8,216.0C308.8,218.0 309.7,220.9 308.8,221.8C307.9,222.8 305.3,221.8 303.5,221.8C301.7,221.8 299.9,222.0 298.1,221.8C296.3,221.6 294.0,221.7 292.7,220.6C291.4,219.6 290.4,217.2 290.3,215.3C290.2,213.4 292.1,211.1 292.1,209.3C292.1,207.5 290.4,206.1 290.3,204.5C290.2,203.0 290.4,200.6 291.5,199.8Z" fill="#ffe6be"/>
<path d="M441.2,308.7C442.4,307.7 446.9,307.0 449.0,306.7C451.0,306.5 452.2,306.9 453.8,307.0C455.4,307.1 456.8,307.2 458.6,307.3C460.4,307.5 462.4,307.8 464.4,308.0C466.3,308.2 469.2,307.5 470.2,308.7C471.1,309.8 471.1,314.0 470.2,315.0C469.2,316.0 466.3,314.8 464.4,314.7C462.4,314.7 460.4,314.6 458.6,314.5C456.8,314.4 455.4,314.3 453.8,314.2C452.2,314.1 450.9,314.2 449.0,313.9C447.0,313.6 443.5,313.4 442.2,312.5C440.9,311.7 440.1,309.6 441.2,308.7Z" fill="#ffe6be"/>
<path d="M125.1,55.9C125.1,54.5 126.4,52.2 127.7,50.6C129.1,49.0 131.0,47.5 133.1,46.1C135.2,44.8 137.8,43.3 140.2,42.6C142.6,41.8 145.6,42.3 147.3,41.7C149.1,41.1 149.4,39.6 150.9,39.0C152.4,38.4 154.5,38.7 156.2,38.1C158.0,37.5 160.1,36.6 161.6,35.5C163.1,34.3 163.9,31.7 165.1,31.0C166.4,30.3 167.9,31.0 169.3,31.0C170.7,31.0 172.1,31.0 173.5,31.0C174.8,31.0 176.6,30.4 177.6,31.0C178.6,31.6 180.3,33.2 179.4,34.6C178.5,35.9 174.6,37.8 172.3,39.0C169.9,40.2 166.6,40.5 165.1,41.7C163.7,42.9 164.9,44.5 163.4,46.1C161.9,47.8 158.3,50.9 156.2,51.5C154.2,52.1 152.7,49.7 150.9,49.7C149.1,49.7 147.2,50.9 145.6,51.5C143.9,52.1 142.6,52.7 141.1,53.3C139.6,53.9 138.0,54.0 136.7,55.0C135.3,56.1 134.6,58.8 133.1,59.5C131.6,60.2 129.1,60.1 127.7,59.5C126.4,58.9 125.1,57.4 125.1,55.9Z" fill="#96ff96"/>
<ellipse cx="116.2" cy="57.7" rx="2.0" ry="2.0" fill="#96ff96" transform="rotate(0 116.2 57.7)"/>
<ellipse cx="91.8" cy="72.0" rx="4.5" ry="2.7" fill="#96ff96" transform="rotate(0 91.8 72.0)"/>
<path d="M184.8,241.5C185.2,240.1 188.0,238.1 189.5,236.8C191.1,235.4 192.3,234.2 194.3,233.2C196.3,232.2 199.5,231.8 201.5,230.8C203.5,229.8 204.7,228.2 206.2,227.2C207.8,226.2 209.4,225.4 211.0,224.8C212.6,224.2 214.2,223.6 215.8,223.6C217.4,223.6 219.0,225.2 220.6,224.8C222.1,224.4 224.1,222.8 225.3,221.2C226.5,219.7 226.3,216.9 227.7,215.3C229.1,213.7 231.3,212.4 233.7,211.7C236.1,211.0 239.6,210.9 242.0,211.1C244.4,211.3 246.0,212.3 248.0,212.9C250.0,213.5 252.2,214.4 254.0,214.7C255.8,214.9 257.1,214.5 258.7,214.4C260.3,214.3 261.5,213.9 263.5,214.1C265.5,214.2 268.3,214.9 270.7,215.3C273.0,215.7 275.6,215.9 277.8,216.5C280.0,217.1 282.2,217.9 283.8,218.9C285.4,219.9 286.0,221.2 287.4,222.4C288.8,223.6 290.5,224.6 292.1,226.0C293.7,227.4 295.7,229.2 296.9,230.8C298.1,232.4 299.1,234.0 299.3,235.6C299.5,237.1 298.9,238.7 298.1,240.3C297.3,241.9 295.5,243.3 294.5,245.1C293.5,246.9 293.3,249.5 292.1,251.1C290.9,252.7 289.0,254.4 287.4,254.6C285.8,254.8 284.2,252.9 282.6,252.3C281.0,251.7 279.4,251.1 277.8,251.1C276.2,251.1 274.6,251.7 273.0,252.3C271.5,252.9 269.9,254.0 268.3,254.6C266.7,255.2 265.3,255.4 263.5,255.8C261.7,256.2 259.5,257.2 257.5,257.0C255.6,256.8 253.0,254.2 251.6,254.6C250.2,255.0 250.4,257.6 249.2,259.4C248.0,261.2 246.0,264.2 244.4,265.4C242.8,266.6 241.0,267.2 239.6,266.6C238.3,266.0 237.3,261.4 236.1,261.8C234.9,262.2 234.0,267.8 232.5,269.0C231.0,270.2 229.0,269.0 227.2,269.0C225.4,269.0 223.7,269.0 221.9,269.0C220.2,269.0 218.4,269.0 216.6,269.0C214.9,269.0 213.1,269.0 211.4,269.0C209.6,269.0 207.8,269.0 206.1,269.0C204.3,269.0 202.6,269.0 200.8,269.0C199.0,269.0 196.0,270.2 195.5,269.0C195.0,267.8 198.1,263.8 197.9,261.8C197.7,259.8 194.7,258.8 194.3,257.0C193.9,255.2 195.9,252.9 195.5,251.1C195.1,249.3 193.3,247.3 191.9,246.3C190.5,245.3 188.4,245.9 187.2,245.1C186.0,244.3 184.4,242.9 184.8,241.5Z" fill="#96ff96"/>
<path d="M219.4,247.5C220.6,246.7 221.2,245.6 222.9,245.1C224.7,244.6 228.2,244.1 230.1,244.5C232.0,244.9 233.5,246.0 234.3,247.5C235.1,249.0 235.1,251.5 234.9,253.5C234.7,255.4 233.9,257.8 233.1,259.4C232.3,261.0 231.4,262.6 230.1,263.0C228.8,263.4 226.9,262.4 225.3,261.8C223.7,261.2 222.0,260.6 220.6,259.4C219.2,258.2 217.8,256.2 217.0,254.6C216.2,253.1 215.4,251.1 215.8,249.9C216.2,248.7 218.2,248.3 219.4,247.5Z" fill="#dcffc8"/>
<path d="M251.6,247.5C252.6,246.4 256.7,245.9 258.7,245.7C260.7,245.5 261.9,245.9 263.5,246.0C265.1,246.1 266.3,246.0 268.3,246.3C270.3,246.5 273.6,246.7 275.4,247.5C277.2,248.3 279.4,250.1 279.0,251.1C278.6,252.1 275.2,252.9 273.0,253.5C270.9,254.0 268.5,254.3 265.9,254.6C263.3,254.9 259.7,255.6 257.5,255.2C255.4,254.8 253.8,253.6 252.8,252.3C251.8,251.0 250.6,248.6 251.6,247.5Z" fill="#dcffc8"/>
<path d="M350.4,242.4C350.5,241.4 352.3,239.8 353.6,239.4C354.9,238.9 357.0,239.1 358.0,239.7C359.1,240.3 360.0,242.0 359.8,242.9C359.7,243.9 358.3,245.0 357.1,245.4C356.0,245.9 353.8,245.9 352.7,245.4C351.6,244.9 350.2,243.4 350.4,242.4Z" fill="#96ff96"/>
<path d="M370.5,248.5C370.1,247.3 372.7,244.3 374.1,242.4C375.4,240.5 376.6,238.7 378.5,237.1C380.5,235.4 383.3,234.0 385.6,232.6C388.0,231.3 390.4,229.1 392.8,229.1C395.1,229.1 397.8,231.4 399.9,232.6C402.0,233.8 403.5,236.8 405.2,236.2C407.0,235.6 409.1,230.8 410.6,229.1C412.1,227.3 413.0,227.0 414.1,225.9C415.3,224.9 415.9,223.9 417.7,222.8C419.5,221.7 422.5,219.7 424.8,219.3C427.2,218.8 430.2,219.1 432.0,220.1C433.7,221.2 433.4,224.6 435.5,225.5C437.6,226.4 442.0,225.4 444.4,225.5C446.8,225.6 448.0,225.8 449.8,225.9C451.5,226.1 452.7,226.5 455.1,226.4C457.5,226.3 461.5,225.6 464.0,225.5C466.5,225.3 469.2,224.6 470.2,225.5C471.3,226.3 470.2,228.9 470.2,230.6C470.2,232.3 470.2,234.0 470.2,235.6C470.2,237.3 470.2,239.0 470.2,240.7C470.2,242.4 471.6,245.1 470.2,245.8C468.9,246.5 464.8,244.9 462.2,244.9C459.7,244.9 457.5,245.8 455.1,245.8C452.7,245.8 450.4,244.8 448.0,244.9C445.6,245.1 442.8,246.5 440.9,246.7C438.9,246.8 437.9,246.1 436.4,245.8C434.9,245.5 433.9,244.8 432.0,244.9C430.0,245.1 426.9,246.1 424.8,246.7C422.8,247.3 421.6,248.3 419.5,248.5C417.4,248.6 414.7,248.0 412.4,247.6C410.0,247.1 407.6,245.9 405.2,245.8C402.9,245.6 400.2,246.4 398.1,246.7C396.0,247.0 394.6,247.3 392.8,247.6C391.0,247.9 389.2,248.2 387.4,248.5C385.6,248.7 383.9,248.8 382.1,248.9C380.3,249.1 378.7,249.4 376.7,249.4C374.8,249.3 371.0,249.6 370.5,248.5Z" fill="#96ff96"/>
<path d="M85.0,282.8C86.2,281.9 90.0,281.1 92.1,281.1C94.2,281.1 97.5,282.1 97.5,282.8C97.5,283.6 94.2,284.9 92.1,285.5C90.0,286.1 86.2,286.8 85.0,286.4C83.8,286.0 83.8,283.7 85.0,282.8Z" fill="#96ff96"/>
<path d="M353.6,265.9C354.2,265.0 356.9,264.0 358.9,263.2C361.0,262.5 363.7,261.9 366.1,261.5C368.4,261.0 371.8,260.1 373.2,260.6C374.5,261.0 375.0,263.1 374.1,264.1C373.2,265.2 370.1,266.1 367.8,266.8C365.6,267.6 362.8,268.3 360.7,268.6C358.6,268.9 356.6,269.0 355.4,268.6C354.2,268.1 353.0,266.8 353.6,265.9Z" fill="#96ff96"/>
<path d="M373.2,248.1C373.6,247.7 377.1,248.1 379.1,248.1C381.1,248.1 383.1,248.1 385.1,248.1C387.0,248.1 390.3,247.7 391.0,248.1C391.7,248.5 390.2,250.0 389.2,250.4C388.2,250.8 386.4,250.5 385.1,250.5C383.7,250.6 382.3,250.6 380.9,250.7C379.5,250.7 378.0,251.2 376.7,250.8C375.5,250.4 372.8,248.6 373.2,248.1Z" fill="#96ff96"/>
<path d="M392.8,272.2C393.5,270.7 396.0,268.0 398.1,266.8C400.2,265.6 403.2,265.4 405.2,265.0C407.3,264.7 408.8,264.7 410.6,264.6C412.4,264.4 413.8,264.7 415.9,264.1C418.0,263.6 421.1,262.2 423.0,261.5C425.0,260.7 426.0,260.3 427.5,259.7C429.0,259.1 430.3,257.8 432.0,257.9C433.6,258.1 436.7,259.1 437.3,260.6C437.9,262.1 436.7,264.9 435.5,266.8C434.3,268.7 432.3,270.7 430.2,272.2C428.1,273.6 425.4,274.5 423.0,275.7C420.7,276.9 418.0,278.6 415.9,279.3C413.8,279.9 412.4,279.6 410.6,279.7C408.8,279.9 407.3,280.4 405.2,280.2C403.2,279.9 400.0,279.1 398.1,278.4C396.2,277.6 394.6,276.8 393.7,275.7C392.8,274.7 392.0,273.6 392.8,272.2Z" fill="#96ff96"/>
<ellipse cx="387.8" cy="280.7" rx="4.5" ry="4.5" fill="#96ff96" transform="rotate(0 387.8 280.7)"/>
<path d="M330.4,281.1C330.9,280.0 332.4,277.7 334.0,277.1C335.6,276.5 338.6,276.8 340.2,277.5C341.9,278.2 343.6,279.8 343.8,281.1C343.9,282.3 342.6,284.4 341.1,285.2C339.6,285.9 336.5,285.7 334.9,285.5C333.3,285.3 332.1,284.5 331.3,283.7C330.6,283.0 330.0,282.2 330.4,281.1Z" fill="#96ff96"/>
<ellipse cx="350.9" cy="286.9" rx="3.7" ry="3.0" fill="#96ff96" transform="rotate(0 350.9 286.9)"/>
<path d="M407.9,317.6C408.2,316.1 412.3,312.9 414.1,311.7C416.0,310.5 417.4,311.0 419.0,310.6C420.7,310.3 421.8,309.3 423.9,309.6C426.1,309.8 430.8,310.7 432.0,312.2C433.1,313.7 432.0,317.2 431.1,318.5C430.2,319.7 428.1,319.2 426.6,319.5C425.1,319.9 423.7,320.4 422.2,320.6C420.6,320.8 418.9,320.6 417.3,320.6C415.6,320.6 413.9,321.1 412.4,320.6C410.8,320.1 407.6,319.1 407.9,317.6Z" fill="#96ff96"/>
<ellipse cx="434.8" cy="301.0" rx="0.7" ry="0.7" fill="#96ff96" transform="rotate(0 434.8 301.0)"/>
<path d="M418.1,415.7C417.2,414.8 418.1,412.1 418.1,410.4C418.1,408.6 417.9,406.7 418.1,405.1C418.3,403.4 419.2,401.7 419.1,400.2C418.9,398.8 418.9,397.2 417.1,396.4C415.4,395.6 410.4,396.1 408.5,395.4C406.5,394.7 406.1,393.4 405.6,392.1C405.1,390.9 406.7,388.9 405.6,387.7C404.5,386.6 401.2,385.8 398.8,385.2C396.5,384.6 393.6,384.6 391.5,384.0C389.4,383.5 387.4,382.9 386.3,381.9C385.2,380.9 385.9,378.9 385.0,378.1C384.0,377.3 382.0,377.8 380.5,377.1C379.1,376.5 376.8,375.7 376.3,374.2C375.8,372.8 376.9,369.8 377.6,368.4C378.3,367.1 380.0,367.1 380.5,365.9C381.1,364.8 380.9,363.4 380.9,361.7C380.9,360.0 380.4,357.9 380.5,355.9C380.6,353.9 381.0,351.6 381.5,349.7C382.0,347.9 382.6,346.4 383.4,344.7C384.2,343.0 385.3,341.1 386.5,339.5C387.7,337.9 388.9,336.6 390.3,335.1C391.8,333.5 393.9,331.7 395.4,330.3C396.8,328.8 397.8,327.6 399.2,326.4C400.6,325.2 402.0,324.1 403.7,323.1C405.3,322.2 407.9,321.6 408.9,320.8C409.8,320.0 408.7,319.3 409.4,318.3C410.2,317.3 411.7,315.9 413.3,315.0C414.9,314.2 417.1,313.7 419.1,313.1C421.0,312.5 423.2,311.7 424.9,311.6C426.5,311.5 427.7,311.9 428.7,312.5C429.7,313.2 430.2,314.3 430.6,315.4C431.1,316.5 430.3,318.3 431.6,319.3C432.9,320.2 436.4,320.4 438.3,321.2C440.3,322.0 442.0,323.1 443.2,324.1C444.3,325.1 445.4,325.9 445.1,327.0C444.8,328.0 441.1,329.7 441.2,330.5C441.4,331.3 444.1,331.2 446.1,331.8C448.0,332.4 451.3,333.3 452.8,334.3C454.3,335.3 455.0,336.4 455.1,337.6C455.3,338.8 454.8,340.6 453.8,341.4C452.7,342.3 448.6,342.5 449.0,342.8C449.3,343.1 453.8,342.8 455.7,343.4C457.6,344.0 459.2,345.1 460.5,346.3C461.8,347.5 462.9,348.9 463.6,350.5C464.3,352.1 464.4,354.0 464.8,355.9C465.1,357.8 465.1,359.9 465.5,361.7C465.9,363.5 466.8,365.2 467.3,366.5C467.7,367.9 468.4,368.5 468.2,369.8C468.1,371.1 466.6,372.4 466.3,374.2C466.0,376.1 466.4,378.9 466.7,381.0C467.0,383.1 468.0,384.8 468.2,386.7C468.5,388.7 468.4,390.8 468.2,392.5C468.1,394.3 467.9,396.1 467.3,397.3C466.6,398.6 465.7,399.9 464.4,400.2C463.1,400.6 460.8,399.9 459.6,399.3C458.3,398.6 457.8,397.2 456.7,396.4C455.5,395.6 453.6,394.1 452.8,394.5C452.0,394.8 452.5,397.2 451.8,398.3C451.2,399.4 449.1,400.1 449.0,401.2C448.8,402.3 450.5,403.5 450.9,405.1C451.3,406.6 451.2,408.6 451.4,410.4C451.5,412.1 452.7,414.8 451.8,415.7C451.0,416.5 448.1,415.7 446.2,415.7C444.3,415.7 442.5,415.7 440.6,415.7C438.7,415.7 436.9,415.7 435.0,415.7C433.1,415.7 431.2,415.7 429.4,415.7C427.5,415.7 425.6,415.7 423.7,415.7C421.9,415.7 419.0,416.5 418.1,415.7Z" fill="#96ff96"/>
<path d="M369.0,339.5C369.1,338.2 370.2,336.0 371.5,334.7C372.7,333.4 374.9,332.4 376.7,331.8C378.4,331.3 381.0,330.8 382.1,331.4C383.1,332.1 383.3,334.2 382.8,335.7C382.3,337.2 380.6,339.2 379.2,340.5C377.8,341.8 375.8,343.2 374.3,343.6C372.9,344.0 371.2,343.5 370.3,342.8C369.4,342.1 368.8,340.9 369.0,339.5Z" fill="#96ff96"/>
<path d="M355.5,344.3C355.7,343.0 356.3,340.2 357.2,338.9C358.1,337.7 359.8,336.5 360.7,336.6C361.6,336.7 362.5,338.2 362.6,339.5C362.7,340.9 361.9,343.3 361.2,344.7C360.5,346.1 359.2,347.4 358.3,347.8C357.5,348.2 356.5,347.8 356.0,347.2C355.6,346.7 355.3,345.7 355.5,344.3Z" fill="#96ff96"/>
<path d="M107.7,380.0C107.5,379.1 108.5,377.3 109.5,376.4C110.4,375.4 112.3,374.6 113.6,374.4C114.9,374.2 116.5,374.6 117.2,375.2C117.9,375.8 118.1,377.3 117.8,378.2C117.5,379.1 116.6,380.0 115.4,380.6C114.2,381.1 111.9,381.6 110.6,381.5C109.4,381.4 107.9,380.8 107.7,380.0Z" fill="#96ff96"/>
<path d="M87.4,384.1C88.2,382.8 90.2,381.7 92.2,381.2C94.1,380.7 97.1,380.8 99.3,381.2C101.5,381.6 103.3,382.5 105.3,383.5C107.3,384.5 109.5,385.8 111.2,387.1C113.0,388.4 114.6,389.8 116.0,391.3C117.4,392.8 118.8,394.7 119.6,396.1C120.4,397.5 121.2,398.7 120.8,399.6C120.4,400.6 118.2,400.8 117.2,402.0C116.2,403.2 115.4,405.2 114.8,406.8C114.2,408.4 114.6,410.4 113.6,411.6C112.6,412.8 110.6,413.6 108.9,414.0C107.1,414.4 104.7,415.2 102.9,414.0C101.1,412.8 99.7,409.0 98.1,406.8C96.5,404.6 94.7,402.8 93.4,400.8C92.0,398.9 90.8,396.9 89.8,394.9C88.8,392.9 87.8,390.7 87.4,388.9C87.0,387.1 86.6,385.4 87.4,384.1Z" fill="#96ff96"/>
<ellipse cx="259.5" cy="376.7" rx="1.0" ry="1.0" fill="#96ff96" transform="rotate(0 259.5 376.7)"/>
<path d="M290.5,406.8C289.8,404.6 290.5,400.9 291.1,398.5C291.7,396.0 292.6,393.5 294.1,391.9C295.6,390.3 297.9,389.5 300.1,388.9C302.3,388.3 305.6,387.7 307.2,388.3C308.8,388.9 309.3,390.6 309.6,392.5C310.0,394.4 309.8,397.3 309.4,399.6C309.0,402.0 308.1,404.8 307.2,406.8C306.4,408.8 306.2,410.8 304.3,411.6C302.3,412.4 297.6,412.4 295.3,411.6C293.0,410.8 291.2,409.0 290.5,406.8Z" fill="#96ff96"/>
<path d="M132.2,48.8C132.6,47.6 134.7,46.1 136.7,45.2C138.6,44.4 141.4,44.1 143.8,43.5C146.2,42.9 148.8,42.4 150.9,41.7C153.0,40.9 154.5,39.8 156.2,39.0C158.0,38.3 159.8,38.1 161.6,37.2C163.4,36.3 164.9,34.6 166.9,33.7C169.0,32.8 172.3,32.0 174.1,31.9C175.8,31.7 177.9,31.7 177.6,32.8C177.3,33.8 174.4,36.9 172.3,38.1C170.2,39.3 166.9,38.9 165.1,39.9C163.4,40.9 163.1,42.9 161.6,44.4C160.1,45.8 158.0,48.2 156.2,48.8C154.5,49.4 152.7,47.8 150.9,47.9C149.1,48.1 147.6,49.0 145.6,49.7C143.5,50.4 140.4,51.9 138.4,52.4C136.5,52.8 135.0,53.0 134.0,52.4C132.9,51.8 131.8,50.0 132.2,48.8Z" fill="#64ffff"/>
<path d="M190.7,240.3C190.7,239.1 191.9,236.8 193.1,235.6C194.3,234.4 196.1,234.2 197.9,233.2C199.7,232.2 201.9,230.8 203.9,229.6C205.8,228.4 207.8,226.8 209.8,226.0C211.8,225.2 213.8,224.8 215.8,224.8C217.8,224.8 220.1,226.2 221.8,226.0C223.4,225.8 224.9,225.0 225.9,223.6C226.9,222.2 226.8,219.3 227.7,217.7C228.6,216.1 229.7,214.9 231.3,214.1C232.9,213.3 235.1,212.9 237.3,212.9C239.4,212.9 242.5,213.4 244.4,214.1C246.3,214.8 247.4,216.1 248.6,217.1C249.8,218.1 250.3,219.3 251.6,220.1C252.9,220.8 254.4,221.3 256.3,221.8C258.3,222.3 261.1,222.7 263.5,223.0C265.9,223.3 268.3,223.6 270.7,223.6C273.0,223.6 275.8,222.8 277.8,223.0C279.8,223.2 281.4,223.7 282.6,224.8C283.8,225.9 283.8,228.4 285.0,229.6C286.2,230.8 288.2,231.2 289.7,232.0C291.3,232.8 293.1,233.4 294.5,234.4C295.9,235.4 297.9,236.6 298.1,237.9C298.3,239.3 296.9,242.1 295.7,242.7C294.5,243.3 292.5,241.5 290.9,241.5C289.4,241.5 287.8,242.7 286.2,242.7C284.6,242.7 283.0,242.1 281.4,241.5C279.8,240.9 278.0,239.3 276.6,239.1C275.2,238.9 274.2,239.7 273.0,240.3C271.9,240.9 270.7,241.9 269.5,242.7C268.3,243.5 267.1,244.3 265.9,245.1C264.7,245.9 263.9,247.3 262.3,247.5C260.7,247.7 258.1,246.9 256.3,246.3C254.6,245.7 253.0,243.9 251.6,243.9C250.2,243.9 249.2,246.1 248.0,246.3C246.8,246.5 245.6,245.7 244.4,245.1C243.2,244.5 242.0,242.7 240.8,242.7C239.6,242.7 238.5,244.3 237.3,245.1C236.1,245.9 234.9,247.3 233.7,247.5C232.5,247.7 231.1,246.1 230.1,246.3C229.1,246.5 228.7,248.5 227.7,248.7C226.7,248.9 225.3,248.1 224.1,247.5C222.9,246.9 222.0,245.3 220.6,245.1C219.2,244.9 217.4,245.9 215.8,246.3C214.2,246.7 212.4,246.9 211.0,247.5C209.6,248.1 207.8,248.7 207.4,249.9C207.0,251.1 208.0,253.1 208.6,254.6C209.2,256.2 210.0,257.8 211.0,259.4C212.0,261.0 213.8,262.6 214.6,264.2C215.4,265.8 216.4,268.2 215.8,269.0C215.2,269.8 212.6,269.0 211.0,269.0C209.4,269.0 207.4,270.0 206.2,269.0C205.1,268.0 205.1,264.6 203.9,263.0C202.7,261.4 200.3,260.8 199.1,259.4C197.9,258.0 196.9,256.2 196.7,254.6C196.5,253.1 197.1,251.3 197.9,249.9C198.7,248.5 201.5,247.3 201.5,246.3C201.5,245.3 199.3,244.5 197.9,243.9C196.5,243.3 194.3,243.3 193.1,242.7C191.9,242.1 190.7,241.5 190.7,240.3Z" fill="#64ffff"/>
<ellipse cx="259.3" cy="252.3" rx="3.0" ry="3.0" fill="#64ffff" transform="rotate(0 259.3 252.3)"/>
<path d="M242.0,254.6C242.4,253.3 243.3,252.5 244.4,252.3C245.5,252.1 247.8,252.7 248.6,253.5C249.4,254.2 249.5,255.9 249.2,257.0C248.9,258.1 247.1,258.9 246.8,260.0C246.5,261.1 247.8,262.9 247.4,263.6C247.0,264.3 245.3,264.7 244.4,264.2C243.5,263.7 242.4,262.2 242.0,260.6C241.6,259.0 241.6,256.0 242.0,254.6Z" fill="#64ffff"/>
<ellipse cx="290.3" cy="252.3" rx="2.6" ry="2.6" fill="#64ffff" transform="rotate(0 290.3 252.3)"/>
<path d="M219.4,261.8C220.4,260.7 223.3,260.2 225.3,260.0C227.3,259.8 230.0,259.7 231.3,260.6C232.6,261.5 232.9,263.6 233.1,265.4C233.3,267.2 233.3,270.4 232.5,271.3C231.7,272.3 229.6,271.3 228.1,271.3C226.7,271.3 225.2,271.3 223.7,271.3C222.3,271.3 220.1,272.1 219.4,271.3C218.6,270.6 219.4,268.2 219.4,266.6C219.4,265.0 218.4,262.9 219.4,261.8Z" fill="#64ffff"/>
<ellipse cx="207.2" cy="272.4" rx="4.5" ry="4.5" fill="#64ffff" transform="rotate(0 207.2 272.4)"/>
<path d="M214.6,263.9C214.6,262.5 215.6,261.1 217.0,260.3C218.4,259.5 220.8,259.1 222.9,259.1C225.1,259.1 228.3,259.5 230.1,260.3C231.9,261.1 233.3,262.7 233.7,263.9C234.1,265.1 233.5,266.4 232.5,267.4C231.5,268.4 229.5,269.3 227.7,269.8C225.9,270.3 223.5,270.6 221.8,270.4C220.0,270.2 218.2,269.7 217.0,268.6C215.8,267.5 214.6,265.3 214.6,263.9Z" fill="#64ffff"/>
<path d="M374.1,240.6C374.7,239.3 376.6,237.3 378.5,236.2C380.5,235.1 383.3,234.2 385.6,234.0C388.0,233.9 390.7,234.5 392.8,235.3C394.8,236.1 397.5,237.4 398.1,238.8C398.7,240.3 397.8,243.0 396.3,244.2C394.8,245.4 391.9,245.8 389.2,246.0C386.5,246.1 382.7,245.4 380.3,245.1C377.9,244.8 376.0,244.9 375.0,244.2C373.9,243.5 373.5,242.0 374.1,240.6Z" fill="#64ffff"/>
<path d="M408.8,232.6C409.1,230.5 412.4,228.9 414.1,227.3C415.9,225.6 417.4,223.9 419.5,222.8C421.6,221.8 424.2,221.0 426.6,221.0C429.0,221.0 432.0,221.8 433.7,222.8C435.5,223.9 435.5,226.7 437.3,227.3C439.1,227.9 441.7,226.7 444.4,226.4C447.1,226.1 451.1,225.5 453.3,225.5C455.6,225.5 456.3,226.1 457.8,226.4C459.3,226.7 460.2,226.8 462.2,227.3C464.3,227.7 468.9,227.9 470.2,229.1C471.6,230.2 470.2,232.6 470.2,234.4C470.2,236.2 471.6,239.0 470.2,239.7C468.9,240.5 464.8,238.8 462.2,238.8C459.7,238.8 457.5,240.0 455.1,239.7C452.7,239.4 450.4,237.4 448.0,237.1C445.6,236.8 443.2,237.5 440.9,238.0C438.5,238.4 436.1,239.1 433.7,239.7C431.4,240.3 429.0,241.1 426.6,241.5C424.2,242.0 421.9,242.7 419.5,242.4C417.1,242.1 414.1,241.4 412.4,239.7C410.6,238.1 408.5,234.7 408.8,232.6Z" fill="#64ffff"/>
<path d="M464.0,207.7C465.0,206.6 469.2,206.2 470.2,206.8C471.3,207.4 470.2,209.8 470.2,211.2C470.2,212.7 470.2,214.2 470.2,215.7C470.2,217.2 471.1,219.6 470.2,220.1C469.4,220.7 465.9,220.4 464.9,219.3C463.9,218.1 464.6,215.4 464.5,213.5C464.3,211.5 463.0,208.8 464.0,207.7Z" fill="#64ffff"/>
<path d="M277.0,227.3C278.2,226.8 281.7,227.9 284.1,229.1C286.5,230.2 289.5,232.6 291.2,234.4C293.0,236.2 294.8,238.0 294.8,239.7C294.8,241.5 293.0,243.9 291.2,245.1C289.5,246.3 286.5,246.6 284.1,246.9C281.7,247.2 278.2,247.7 277.0,246.9C275.8,246.0 277.0,243.6 277.0,242.0C277.0,240.3 277.0,238.7 277.0,237.1C277.0,235.4 277.0,233.8 277.0,232.2C277.0,230.5 275.8,227.8 277.0,227.3Z" fill="#64ffff"/>
<ellipse cx="289.8" cy="251.7" rx="2.5" ry="2.5" fill="#64ffff" transform="rotate(0 289.8 251.7)"/>
<path d="M393.7,273.0C394.3,271.7 396.6,269.5 398.1,268.6C399.6,267.7 401.1,268.0 402.6,267.7C404.1,267.4 405.4,267.0 407.0,266.8C408.7,266.7 410.6,266.8 412.4,266.8C414.1,266.8 415.6,267.0 417.7,266.8C419.8,266.7 423.0,265.6 424.8,265.9C426.6,266.2 428.7,267.4 428.4,268.6C428.1,269.8 425.1,271.7 423.0,273.0C421.0,274.4 417.9,275.8 415.9,276.6C414.0,277.4 413.0,277.5 411.5,277.9C410.0,278.4 408.9,279.2 407.0,279.3C405.1,279.4 402.0,278.8 399.9,278.4C397.8,277.9 395.6,277.5 394.6,276.6C393.5,275.7 393.1,274.4 393.7,273.0Z" fill="#64ffff"/>
<ellipse cx="387.8" cy="280.7" rx="2.8" ry="2.8" fill="#64ffff" transform="rotate(0 387.8 280.7)"/>
<ellipse cx="337.6" cy="281.2" rx="5.3" ry="3.6" fill="#64ffff" transform="rotate(0 337.6 281.2)"/>
<ellipse cx="350.9" cy="286.9" rx="3.2" ry="2.1" fill="#64ffff" transform="rotate(0 350.9 286.9)"/>
<path d="M410.6,316.7C410.9,315.7 413.8,314.0 415.9,313.1C418.0,312.2 420.8,311.3 423.0,311.3C425.3,311.3 428.4,312.2 429.3,313.1C430.2,314.0 429.7,315.8 428.4,316.7C427.1,317.6 423.6,318.1 421.3,318.5C418.9,318.8 415.9,319.1 414.1,318.8C412.4,318.5 410.3,317.6 410.6,316.7Z" fill="#64ffff"/>
<path d="M413.9,317.3C414.2,316.7 416.4,315.7 418.1,315.0C419.8,314.4 422.3,313.7 423.9,313.5C425.5,313.3 427.3,313.3 427.7,313.9C428.2,314.5 427.7,316.2 426.8,317.0C425.8,317.7 423.7,318.0 422.0,318.3C420.2,318.6 417.5,319.1 416.2,318.9C414.8,318.7 413.5,318.0 413.9,317.3Z" fill="#64ffff"/>
<ellipse cx="375.7" cy="338.2" rx="4.2" ry="3.3" fill="#64ffff" transform="rotate(-30 375.7 338.2)"/>
<path d="M420.0,415.7C419.1,414.8 420.0,412.1 420.0,410.4C420.0,408.6 419.9,406.7 420.0,405.1C420.2,403.4 420.4,401.5 421.0,400.2C421.6,399.0 422.9,398.3 423.9,397.3C424.9,396.4 427.1,395.1 426.8,394.5C426.5,393.8 423.9,393.8 422.0,393.5C420.0,393.2 417.3,392.5 415.2,392.5C413.1,392.5 410.7,393.8 409.4,393.5C408.1,393.2 407.7,391.7 407.5,390.6C407.3,389.5 408.8,387.7 408.5,386.7C408.1,385.8 407.2,385.5 405.6,384.8C404.0,384.2 401.1,383.4 398.8,382.9C396.6,382.4 393.9,382.4 392.1,381.9C390.3,381.4 389.0,381.0 388.2,380.0C387.4,379.0 388.2,376.9 387.3,376.1C386.3,375.3 383.9,375.7 382.4,375.2C381.0,374.7 379.1,374.2 378.6,373.3C378.1,372.3 378.9,370.4 379.6,369.4C380.2,368.4 381.9,368.8 382.4,367.5C383.0,366.2 383.0,363.6 383.0,361.7C383.0,359.8 382.4,357.8 382.4,355.9C382.5,354.0 382.9,351.9 383.4,350.1C383.9,348.4 384.5,346.9 385.3,345.3C386.1,343.7 387.1,341.9 388.2,340.5C389.4,339.0 390.6,338.1 392.1,336.6C393.5,335.2 395.5,333.3 396.9,331.8C398.3,330.4 399.5,329.1 400.8,328.0C402.0,326.8 403.2,325.9 404.6,325.1C406.1,324.3 407.7,323.6 409.4,323.1C411.2,322.7 413.3,322.4 415.2,322.2C417.1,321.9 419.1,321.8 421.0,321.6C422.9,321.4 424.9,321.1 426.8,321.2C428.7,321.3 430.6,321.7 432.6,322.2C434.5,322.7 436.7,323.5 438.3,324.1C440.0,324.7 442.0,325.2 442.2,326.0C442.4,326.8 440.4,328.4 439.3,328.9C438.2,329.5 436.7,329.0 435.5,329.3C434.2,329.6 431.4,329.9 431.6,330.5C431.8,331.0 434.7,331.8 436.4,332.4C438.2,332.9 440.3,333.3 442.2,333.7C444.1,334.2 446.3,334.5 448.0,335.1C449.7,335.6 451.9,336.2 452.4,337.0C452.9,337.8 451.9,339.4 450.9,340.1C449.8,340.8 447.8,340.7 446.1,341.1C444.3,341.4 441.9,341.7 440.3,342.0C438.7,342.3 436.1,342.5 436.4,342.8C436.7,343.1 440.3,343.7 442.2,344.0C444.1,344.2 446.1,344.2 448.0,344.3C449.9,344.5 452.1,344.4 453.8,344.9C455.5,345.4 457.0,346.2 458.2,347.2C459.4,348.3 460.3,349.6 460.9,351.1C461.5,352.5 461.7,354.3 462.1,355.9C462.4,357.5 462.5,359.1 462.8,360.7C463.2,362.3 463.5,364.2 464.0,365.5C464.5,366.9 465.9,368.0 465.9,369.0C466.0,370.0 464.9,370.8 464.4,371.7C463.9,372.6 462.9,373.0 462.8,374.2C462.8,375.4 463.6,377.3 464.0,379.0C464.4,380.8 465.1,382.9 465.3,384.8C465.6,386.7 465.5,388.8 465.3,390.6C465.2,392.4 465.0,394.3 464.4,395.4C463.7,396.5 462.5,397.3 461.5,397.3C460.5,397.3 459.3,396.3 458.2,395.4C457.1,394.6 455.8,393.2 454.7,392.1C453.7,391.1 452.6,389.0 451.8,389.1C451.1,389.1 451.0,391.3 450.5,392.5C449.9,393.8 449.5,395.2 448.6,396.4C447.7,397.6 445.3,398.7 445.1,399.9C444.9,401.0 446.8,401.8 447.4,403.1C448.1,404.5 448.7,405.9 449.0,408.0C449.2,410.0 449.9,414.4 449.0,415.7C448.0,416.9 445.1,415.7 443.2,415.7C441.2,415.7 439.3,415.7 437.4,415.7C435.5,415.7 433.5,415.7 431.6,415.7C429.7,415.7 427.7,415.7 425.8,415.7C423.9,415.7 421.0,416.5 420.0,415.7Z" fill="#64ffff"/>
<path d="M129.1,380.0C129.3,379.2 130.5,378.0 131.5,377.6C132.5,377.1 134.1,376.9 135.1,377.2C136.1,377.5 137.3,378.5 137.5,379.4C137.7,380.2 137.0,381.7 136.3,382.3C135.6,383.0 134.3,383.5 133.3,383.5C132.3,383.5 131.0,382.9 130.3,382.3C129.6,381.8 128.9,380.8 129.1,380.0Z" fill="#64ffff"/>
<path d="M88.0,384.7C88.5,383.5 90.5,382.7 92.2,382.3C93.8,382.0 96.1,382.0 98.1,382.3C100.1,382.7 102.1,383.8 104.1,384.7C106.1,385.6 108.4,386.6 110.1,387.7C111.7,388.8 112.9,390.0 114.2,391.3C115.5,392.6 117.1,394.2 117.8,395.5C118.5,396.8 118.8,398.2 118.4,399.0C118.0,399.9 116.3,399.8 115.4,400.8C114.5,401.8 113.6,403.4 113.0,405.0C112.4,406.6 112.7,409.3 111.8,410.4C110.9,411.5 109.0,411.9 107.7,411.6C106.4,411.3 105.5,409.8 104.1,408.6C102.7,407.4 100.8,405.9 99.3,404.4C97.8,402.9 96.4,401.3 95.1,399.6C93.8,398.0 92.6,396.0 91.6,394.3C90.6,392.6 89.8,391.1 89.2,389.5C88.6,387.9 87.5,385.9 88.0,384.7Z" fill="#64ffff"/>
<ellipse cx="150.4" cy="388.3" rx="3.0" ry="3.8" fill="#64ffff" transform="rotate(0 150.4 388.3)"/>
<path d="M303.7,390.1C303.1,388.7 304.3,385.6 304.9,384.1C305.5,382.6 306.3,381.3 307.2,381.2C308.1,381.1 309.2,383.5 310.2,383.5C311.2,383.5 312.3,381.1 313.2,381.2C314.1,381.3 315.4,383.0 315.6,384.1C315.8,385.2 315.0,386.5 314.4,387.7C313.8,388.9 313.0,390.5 312.0,391.3C311.0,392.1 309.8,392.7 308.4,392.5C307.0,392.3 304.3,391.5 303.7,390.1Z" fill="#64ffff"/>
<path d="M292.3,404.4C291.8,402.5 292.4,400.3 292.9,398.5C293.4,396.6 294.1,394.4 295.3,393.1C296.5,391.8 298.3,391.2 300.1,390.7C301.9,390.2 304.7,389.6 306.0,390.1C307.4,390.6 308.1,392.1 308.4,393.7C308.7,395.3 308.2,397.7 307.8,399.6C307.4,401.6 306.7,403.8 306.0,405.6C305.4,407.4 304.7,409.4 303.7,410.4C302.7,411.4 301.4,411.7 300.1,411.6C298.8,411.5 297.2,411.0 295.9,409.8C294.6,408.6 292.8,406.3 292.3,404.4Z" fill="#64ffff"/>
<path d="M311.4,399.0C311.5,398.0 312.7,396.3 313.8,395.5C314.9,394.7 316.3,394.2 318.0,394.3C319.7,394.4 322.4,395.4 323.9,396.1C325.5,396.8 326.8,397.5 327.5,398.5C328.2,399.4 328.4,400.8 328.1,402.0C327.8,403.2 326.8,404.9 325.7,405.6C324.6,406.3 323.0,406.5 321.6,406.2C320.1,405.9 318.2,404.5 316.8,403.8C315.4,403.1 314.1,402.8 313.2,402.0C312.3,401.2 311.3,400.1 311.4,399.0Z" fill="#64ffff"/>
<ellipse cx="157.1" cy="44.4" rx="1.1" ry="1.1" fill="#00c8ff" transform="rotate(0 157.1 44.4)"/>
<path d="M168.4,31.0C169.2,30.5 174.0,30.6 174.9,31.0C175.9,31.4 174.9,33.0 174.1,33.5C173.2,34.0 170.6,34.3 169.6,33.8C168.7,33.4 167.5,31.5 168.4,31.0Z" fill="#00c8ff"/>
<path d="M243.8,254.6C244.2,254.1 246.3,254.2 246.8,254.6C247.3,255.0 247.2,256.5 246.8,257.0C246.4,257.5 244.9,258.0 244.4,257.6C243.9,257.2 243.4,255.1 243.8,254.6Z" fill="#00c8ff"/>
<path d="M243.8,260.0C244.2,259.7 245.9,260.1 246.2,260.6C246.5,261.1 246.0,262.7 245.6,263.0C245.2,263.3 244.1,262.9 243.8,262.4C243.5,261.9 243.4,260.3 243.8,260.0Z" fill="#00c8ff"/>
<path d="M202.7,234.4C202.9,233.2 204.7,230.9 206.2,229.6C207.8,228.3 210.2,227.0 212.2,226.6C214.2,226.2 216.6,226.7 218.2,227.2C219.8,227.7 221.4,228.4 221.8,229.6C222.1,230.8 221.6,233.2 220.6,234.4C219.6,235.6 217.6,236.4 215.8,236.8C214.0,237.1 211.6,236.8 209.8,236.8C208.0,236.8 206.2,237.1 205.1,236.8C203.9,236.4 202.5,235.6 202.7,234.4Z" fill="#00c8ff"/>
<path d="M227.7,218.3C228.4,216.9 229.7,215.4 231.3,214.7C232.9,214.0 235.3,213.9 237.3,214.1C239.2,214.3 241.4,215.1 243.2,215.9C245.0,216.7 246.6,217.8 248.0,218.9C249.4,220.0 250.2,221.4 251.6,222.4C253.0,223.4 255.9,223.8 256.3,224.8C256.7,225.8 255.2,227.6 254.0,228.4C252.8,229.2 250.8,229.2 249.2,229.6C247.6,230.0 246.0,230.8 244.4,230.8C242.8,230.8 241.2,230.2 239.6,229.6C238.1,229.0 236.5,227.8 234.9,227.2C233.3,226.6 231.4,226.7 230.1,226.0C228.8,225.3 227.5,224.3 227.1,223.0C226.7,221.7 227.0,219.7 227.7,218.3Z" fill="#00c8ff"/>
<path d="M246.8,240.3C246.8,239.2 249.6,236.8 251.6,235.6C253.6,234.4 256.3,233.8 258.7,233.2C261.1,232.6 263.9,231.8 265.9,232.0C267.9,232.2 270.1,233.2 270.7,234.4C271.3,235.6 270.3,237.7 269.5,239.1C268.7,240.5 267.3,241.9 265.9,242.7C264.5,243.5 262.7,243.9 261.1,243.9C259.5,243.9 257.9,243.0 256.3,242.7C254.8,242.4 253.2,242.5 251.6,242.1C250.0,241.7 246.8,241.4 246.8,240.3Z" fill="#00c8ff"/>
<path d="M281.4,230.8C281.6,229.6 283.8,229.4 285.0,229.6C286.2,229.8 287.6,231.0 288.6,232.0C289.5,233.0 291.1,234.6 290.9,235.6C290.7,236.6 288.6,237.7 287.4,237.9C286.2,238.1 284.8,237.9 283.8,236.8C282.8,235.6 281.2,232.0 281.4,230.8Z" fill="#00c8ff"/>
<ellipse cx="207.7" cy="272.4" rx="1.1" ry="1.1" fill="#00c8ff" transform="rotate(0 207.7 272.4)"/>
<path d="M381.7,238.8C382.0,237.8 384.7,236.4 386.5,236.2C388.4,236.0 391.4,236.8 392.8,237.6C394.2,238.4 395.2,240.1 394.9,241.2C394.6,242.3 392.7,244.0 391.0,244.2C389.3,244.4 386.3,243.3 384.8,242.4C383.2,241.5 381.4,239.9 381.7,238.8Z" fill="#00c8ff"/>
<path d="M442.6,230.8C443.1,229.8 445.9,228.5 448.0,228.2C450.1,227.9 453.6,228.3 455.1,229.1C456.6,229.8 457.5,231.6 456.9,232.6C456.3,233.7 453.5,235.0 451.5,235.3C449.6,235.6 446.8,235.1 445.3,234.4C443.8,233.7 442.2,231.9 442.6,230.8Z" fill="#00c8ff"/>
<ellipse cx="375.3" cy="338.6" rx="2.7" ry="2.7" fill="#00c8ff" transform="rotate(0 375.3 338.6)"/>
<path d="M420.9,415.7C420.0,414.8 421.0,412.3 421.0,410.6C421.0,408.9 420.9,407.2 421.1,405.5C421.2,403.9 421.4,402.2 421.9,400.9C422.5,399.7 423.5,398.9 424.4,398.0C425.3,397.0 427.1,396.0 427.1,395.2C427.2,394.5 425.9,394.2 424.5,393.6C423.1,393.1 420.5,392.2 418.7,391.9C416.8,391.7 414.5,392.5 413.2,392.2C411.9,391.9 411.4,390.9 411.0,390.1C410.5,389.3 411.2,388.0 410.6,387.3C410.1,386.6 409.3,386.4 407.7,385.8C406.2,385.1 403.6,384.2 401.5,383.5C399.4,382.9 396.9,382.5 395.3,381.9C393.6,381.4 392.5,380.9 391.6,380.1C390.7,379.3 391.0,377.7 390.0,376.9C389.0,376.2 386.9,376.2 385.6,375.7C384.2,375.1 382.6,374.5 382.1,373.6C381.5,372.6 382.0,370.9 382.4,369.9C382.7,369.0 383.8,369.0 384.1,367.7C384.4,366.5 384.3,364.1 384.2,362.2C384.1,360.4 383.6,358.6 383.6,356.7C383.7,354.9 384.0,352.9 384.4,351.2C384.8,349.5 385.4,348.1 386.1,346.6C386.8,345.0 387.7,343.3 388.7,341.9C389.7,340.4 390.8,339.4 392.1,338.0C393.5,336.6 395.3,334.7 396.7,333.4C398.1,332.0 399.2,330.8 400.4,329.7C401.6,328.6 402.7,327.7 404.0,326.9C405.4,326.1 406.8,325.3 408.5,324.7C410.1,324.2 412.0,323.8 413.8,323.4C415.6,323.1 417.5,322.9 419.3,322.7C421.2,322.5 423.0,322.3 424.9,322.4C426.7,322.4 428.8,322.5 430.4,323.0C431.9,323.5 433.2,324.7 434.3,325.5C435.4,326.3 436.7,326.9 436.9,327.8C437.1,328.6 436.1,330.0 435.6,330.5C435.1,331.1 434.5,330.7 433.9,331.0C433.3,331.2 431.7,331.5 432.2,331.9C432.7,332.4 435.3,333.2 436.7,333.8C438.0,334.5 438.9,335.3 440.1,336.0C441.3,336.7 442.5,337.3 443.8,337.9C445.1,338.5 447.4,339.0 448.0,339.7C448.7,340.4 448.2,341.5 447.8,342.0C447.4,342.5 446.5,342.5 445.7,342.8C444.9,343.0 443.8,343.3 443.1,343.6C442.4,343.8 440.8,343.9 441.4,344.3C442.0,344.6 445.0,345.3 446.7,345.8C448.3,346.3 449.8,346.8 451.3,347.4C452.8,348.0 454.4,348.5 455.6,349.3C456.9,350.1 457.9,351.0 458.8,352.2C459.7,353.3 460.6,354.6 461.1,356.0C461.6,357.4 461.7,359.0 461.8,360.5C461.9,362.0 461.5,363.4 461.7,364.9C461.8,366.4 462.4,368.2 462.8,369.5C463.3,370.9 464.3,371.9 464.4,373.0C464.5,374.0 463.8,374.8 463.5,375.6C463.2,376.5 462.6,376.9 462.6,378.1C462.5,379.3 463.2,381.2 463.3,382.7C463.4,384.1 463.4,385.5 463.2,386.7C463.0,387.9 462.7,388.7 462.3,389.6C461.9,390.5 461.5,391.3 460.9,391.9C460.3,392.6 459.3,393.1 458.5,393.3C457.7,393.4 456.9,393.1 456.0,392.9C455.1,392.6 454.1,392.1 453.2,391.7C452.3,391.3 451.3,390.2 450.6,390.5C449.9,390.8 449.6,392.5 449.0,393.6C448.4,394.7 447.5,396.0 446.9,397.1C446.3,398.3 445.2,399.3 445.2,400.4C445.3,401.5 446.6,402.3 447.2,403.6C447.7,405.0 448.2,406.3 448.4,408.3C448.6,410.3 449.3,414.4 448.4,415.7C447.5,416.9 444.7,415.7 442.9,415.7C441.0,415.7 439.2,415.7 437.4,415.7C435.6,415.7 433.7,415.7 431.9,415.7C430.1,415.7 428.2,415.7 426.4,415.7C424.6,415.7 421.8,416.5 420.9,415.7Z" fill="#00c8ff"/>
<ellipse cx="134.5" cy="380.3" rx="1.0" ry="1.0" fill="#00c8ff" transform="rotate(0 134.5 380.3)"/>
<ellipse cx="313.4" cy="386.3" rx="0.7" ry="0.7" fill="#00c8ff" transform="rotate(0 313.4 386.3)"/>
<ellipse cx="259.3" cy="252.3" rx="1.1" ry="1.1" fill="#0064ff" transform="rotate(0 259.3 252.3)"/>
<path d="M221.8,263.6C222.5,262.1 225.1,262.3 226.5,262.4C227.9,262.5 229.5,262.7 230.1,264.2C230.7,265.7 231.5,270.2 230.1,271.3C228.8,272.5 223.4,272.6 222.0,271.3C220.6,270.1 221.0,265.1 221.8,263.6Z" fill="#0064ff"/>
<path d="M190.7,239.1C190.6,238.0 192.3,236.0 193.7,235.0C195.1,234.0 197.2,233.4 199.1,233.2C201.0,233.0 203.5,233.3 205.1,233.8C206.6,234.3 207.6,235.3 208.6,236.2C209.6,237.1 211.0,238.1 211.0,239.1C211.0,240.1 209.8,241.5 208.6,242.1C207.4,242.7 205.4,242.7 203.9,242.7C202.3,242.7 200.7,242.3 199.1,242.1C197.5,241.9 195.7,242.0 194.3,241.5C192.9,241.0 190.8,240.2 190.7,239.1Z" fill="#0064ff"/>
<path d="M209.8,230.8C210.1,229.6 211.6,228.3 212.8,227.8C214.0,227.3 215.7,227.5 217.0,227.8C218.3,228.1 219.8,228.7 220.6,229.6C221.4,230.5 222.0,232.1 221.8,233.2C221.6,234.3 220.6,235.6 219.4,236.2C218.2,236.8 216.0,237.0 214.6,236.8C213.2,236.6 211.8,236.0 211.0,235.0C210.2,234.0 209.5,232.0 209.8,230.8Z" fill="#0064ff"/>
<path d="M219.4,236.8C220.4,235.2 222.3,233.0 224.1,232.0C225.9,231.0 228.1,230.8 230.1,230.8C232.1,230.8 234.3,231.4 236.1,232.0C237.9,232.6 239.4,233.6 240.8,234.4C242.2,235.2 244.2,235.8 244.4,236.8C244.6,237.7 243.2,239.5 242.0,240.3C240.8,241.1 238.9,241.4 237.3,241.5C235.7,241.6 234.1,240.8 232.5,240.9C230.9,241.0 229.3,241.8 227.7,242.1C226.1,242.4 224.5,242.8 222.9,242.7C221.4,242.6 218.8,242.5 218.2,241.5C217.6,240.5 218.4,238.3 219.4,236.8Z" fill="#0064ff"/>
<path d="M228.3,217.1C228.4,216.3 230.0,215.2 231.3,214.7C232.6,214.2 234.7,213.9 236.1,214.1C237.5,214.3 238.7,215.1 239.6,215.9C240.6,216.7 242.0,218.1 242.0,218.9C242.0,219.7 240.8,220.4 239.6,220.6C238.5,220.8 236.4,220.3 234.9,220.1C233.4,219.9 231.8,220.0 230.7,219.5C229.6,219.0 228.2,217.9 228.3,217.1Z" fill="#0064ff"/>
<path d="M205.1,252.3C205.5,251.3 207.6,250.7 208.6,251.1C209.6,251.5 210.2,253.3 211.0,254.6C211.8,256.0 212.8,257.8 213.4,259.4C214.0,261.0 214.8,263.2 214.6,264.2C214.4,265.2 213.2,265.8 212.2,265.4C211.2,265.0 209.7,263.2 208.6,261.8C207.5,260.4 206.2,258.6 205.6,257.0C205.1,255.4 204.6,253.3 205.1,252.3Z" fill="#0064ff"/>
<ellipse cx="201.0" cy="255.8" rx="3.6" ry="3.1" fill="#0064ff" transform="rotate(0 201.0 255.8)"/>
<path d="M225.3,243.9C225.5,243.1 227.7,242.7 228.9,242.7C230.1,242.7 232.0,243.2 232.5,243.9C233.0,244.6 232.7,246.3 231.9,246.9C231.1,247.5 228.8,248.0 227.7,247.5C226.6,247.0 225.1,244.7 225.3,243.9Z" fill="#0064ff"/>
<path d="M218.2,262.1C218.6,261.2 221.2,260.9 222.9,260.9C224.7,260.9 227.7,261.4 228.9,262.1C230.1,262.8 230.7,264.3 230.1,265.1C229.5,265.8 226.9,266.6 225.3,266.8C223.7,267.0 221.8,267.0 220.6,266.2C219.4,265.4 217.8,263.0 218.2,262.1Z" fill="#0064ff"/>
<path d="M416.3,226.4C416.3,225.3 417.8,223.2 419.5,222.3C421.2,221.4 424.5,220.9 426.6,221.0C428.7,221.1 431.4,221.9 432.3,222.8C433.2,223.7 432.9,225.4 432.0,226.4C431.0,227.4 428.7,228.3 426.6,228.7C424.5,229.1 421.2,229.4 419.5,229.1C417.8,228.7 416.3,227.5 416.3,226.4Z" fill="#0064ff"/>
<ellipse cx="412.4" cy="229.1" rx="1.2" ry="1.2" fill="#0064ff" transform="rotate(0 412.4 229.1)"/>
<ellipse cx="438.2" cy="233.5" rx="1.2" ry="1.2" fill="#0064ff" transform="rotate(0 438.2 233.5)"/>
<ellipse cx="387.8" cy="280.7" rx="1.1" ry="1.1" fill="#0064ff" transform="rotate(0 387.8 280.7)"/>
<ellipse cx="350.9" cy="286.9" rx="1.2" ry="0.9" fill="#0064ff" transform="rotate(0 350.9 286.9)"/>
<path d="M396.0,273.9C396.1,272.7 398.1,270.8 399.9,270.0C401.7,269.2 404.9,269.1 407.0,268.9C409.1,268.8 410.6,269.1 412.4,269.2C414.1,269.3 416.2,269.3 417.7,269.5C419.2,269.7 421.3,269.8 421.3,270.4C421.3,271.0 419.2,272.2 417.7,273.0C416.2,273.9 414.4,275.0 412.4,275.7C410.3,276.5 407.5,277.3 405.2,277.5C403.0,277.7 400.5,277.7 399.0,277.1C397.5,276.5 395.8,275.1 396.0,273.9Z" fill="#0064ff"/>
<ellipse cx="337.6" cy="281.2" rx="4.3" ry="2.8" fill="#0064ff" transform="rotate(0 337.6 281.2)"/>
<ellipse cx="375.3" cy="338.6" rx="1.3" ry="1.3" fill="#0064ff" transform="rotate(0 375.3 338.6)"/>
<path d="M421.5,415.7C420.6,414.8 421.6,412.4 421.6,410.8C421.7,409.1 421.6,407.4 421.8,405.9C421.9,404.3 422.0,402.6 422.5,401.4C423.0,400.1 423.9,399.4 424.7,398.4C425.5,397.5 427.1,396.5 427.4,395.7C427.6,395.0 427.2,394.4 426.2,393.7C425.1,393.0 422.7,392.0 421.0,391.6C419.2,391.2 417.0,391.6 415.7,391.3C414.4,391.0 413.9,390.3 413.3,389.7C412.7,389.1 412.7,388.2 412.1,387.7C411.4,387.1 410.6,387.0 409.2,386.4C407.7,385.8 405.2,384.7 403.3,383.9C401.3,383.2 399.0,382.6 397.4,382.0C395.9,381.3 394.8,380.9 393.9,380.1C393.0,379.4 392.9,378.1 391.9,377.5C390.8,376.8 388.9,376.6 387.6,376.0C386.4,375.4 385.0,374.7 384.4,373.8C383.8,372.8 384.1,371.3 384.2,370.3C384.4,369.3 385.1,369.2 385.2,367.9C385.3,366.6 385.1,364.4 384.9,362.6C384.8,360.8 384.4,359.1 384.4,357.3C384.4,355.5 384.7,353.5 385.1,351.9C385.4,350.3 386.0,348.9 386.6,347.4C387.3,345.9 388.1,344.2 389.0,342.8C390.0,341.4 390.9,340.3 392.2,338.9C393.4,337.5 395.2,335.7 396.5,334.4C397.9,333.0 399.0,331.9 400.1,330.9C401.3,329.8 402.4,329.0 403.7,328.1C405.0,327.3 406.3,326.4 407.8,325.8C409.4,325.2 411.2,324.7 412.9,324.3C414.6,323.9 416.4,323.7 418.2,323.5C420.0,323.3 421.8,323.1 423.6,323.1C425.3,323.1 427.6,323.0 428.9,323.6C430.2,324.1 430.8,325.5 431.6,326.4C432.3,327.3 433.1,328.1 433.4,329.0C433.6,329.8 433.2,331.1 433.1,331.6C433.0,332.1 432.9,331.9 432.8,332.1C432.7,332.3 431.9,332.5 432.6,332.9C433.3,333.4 435.8,334.0 436.8,334.8C437.8,335.5 438.1,336.6 438.8,337.5C439.5,338.3 440.0,339.1 441.0,339.7C442.1,340.4 444.3,340.9 445.1,341.5C445.9,342.1 445.7,342.8 445.8,343.2C445.8,343.6 445.6,343.7 445.4,343.9C445.3,344.1 445.2,344.4 445.0,344.6C444.9,344.8 444.0,344.8 444.8,345.2C445.5,345.6 448.2,346.3 449.6,347.0C451.1,347.8 452.3,348.6 453.5,349.4C454.7,350.3 455.9,351.2 456.8,352.2C457.8,353.2 458.5,354.3 459.2,355.4C460.0,356.6 460.8,357.9 461.2,359.2C461.6,360.6 461.7,362.2 461.6,363.6C461.6,365.1 460.8,366.3 460.9,367.8C461.0,369.2 461.6,370.9 462.0,372.2C462.5,373.5 463.2,374.6 463.4,375.6C463.5,376.6 463.1,377.4 462.9,378.2C462.8,379.1 462.4,379.6 462.4,380.7C462.4,381.8 462.9,383.9 462.8,385.1C462.7,386.3 462.2,387.3 461.8,387.9C461.3,388.6 460.8,388.7 460.2,388.9C459.7,389.2 459.2,389.4 458.6,389.6C457.9,389.9 457.2,390.3 456.5,390.6C455.8,390.8 455.2,391.0 454.5,391.2C453.7,391.3 452.9,391.4 452.1,391.5C451.3,391.5 450.4,391.0 449.7,391.5C449.0,391.9 448.6,393.3 447.9,394.3C447.3,395.3 446.2,396.6 445.8,397.6C445.4,398.7 445.1,399.7 445.3,400.8C445.5,401.8 446.6,402.7 447.0,404.0C447.4,405.3 447.8,406.6 448.0,408.5C448.2,410.5 448.9,414.5 448.0,415.7C447.1,416.9 444.5,415.7 442.7,415.7C440.9,415.7 439.2,415.7 437.4,415.7C435.6,415.7 433.9,415.7 432.1,415.7C430.3,415.7 428.6,415.7 426.8,415.7C425.0,415.7 422.3,416.5 421.5,415.7Z" fill="#0064ff"/>
<ellipse cx="150.4" cy="388.0" rx="1.2" ry="2.4" fill="#0064ff" transform="rotate(0 150.4 388.0)"/>
<path d="M91.0,385.9C91.5,385.1 93.2,384.2 94.5,383.9C95.9,383.6 97.6,383.6 99.3,383.9C101.0,384.2 103.0,385.1 104.7,385.9C106.4,386.8 108.1,387.8 109.5,388.9C110.8,390.0 112.3,391.3 113.0,392.5C113.7,393.7 113.8,395.0 113.6,396.1C113.4,397.2 112.3,397.9 111.8,399.0C111.3,400.2 110.9,401.6 110.6,403.2C110.3,404.8 110.5,407.5 110.1,408.6C109.6,409.7 108.6,410.2 107.7,409.8C106.8,409.4 105.8,407.5 104.7,406.2C103.6,404.9 102.4,403.5 101.1,402.0C99.8,400.5 98.1,398.9 96.9,397.3C95.7,395.7 94.8,393.9 93.9,392.5C93.1,391.1 92.1,390.0 91.6,388.9C91.1,387.8 90.5,386.8 91.0,385.9Z" fill="#0064ff"/>
<path d="M293.9,403.8C293.7,402.3 294.2,400.0 294.7,398.5C295.3,396.9 296.0,395.4 297.1,394.3C298.2,393.2 299.8,392.4 301.3,391.9C302.8,391.4 305.1,390.8 306.0,391.3C307.0,391.8 307.1,393.4 307.2,394.9C307.3,396.4 307.0,398.5 306.6,400.2C306.2,402.0 305.6,404.1 304.9,405.6C304.2,407.1 303.5,408.6 302.5,409.2C301.5,409.8 300.0,409.5 298.9,409.2C297.8,408.9 296.7,408.3 295.9,407.4C295.1,406.5 294.1,405.3 293.9,403.8Z" fill="#0064ff"/>
<path d="M312.6,399.0C312.4,398.1 314.0,396.7 315.0,396.1C316.0,395.5 317.1,395.3 318.6,395.5C320.1,395.6 322.6,396.4 323.9,397.0C325.2,397.6 325.9,398.1 326.3,399.0C326.7,400.0 326.7,401.6 326.3,402.6C325.9,403.6 324.9,404.7 323.9,405.0C322.9,405.3 321.7,404.9 320.4,404.4C319.1,403.9 317.5,402.9 316.2,402.0C314.9,401.1 312.8,400.0 312.6,399.0Z" fill="#0064ff"/>
<ellipse cx="214.8" cy="229.6" rx="1.8" ry="1.8" fill="#9664ff" transform="rotate(0 214.8 229.6)"/>
<ellipse cx="221.2" cy="232.0" rx="1.8" ry="1.8" fill="#9664ff" transform="rotate(0 221.2 232.0)"/>
<path d="M230.1,215.9C230.4,215.3 232.6,214.9 233.7,215.0C234.8,215.1 236.4,215.9 236.7,216.5C237.0,217.0 236.3,217.9 235.5,218.3C234.7,218.6 232.8,219.0 231.9,218.6C231.0,218.2 229.8,216.5 230.1,215.9Z" fill="#9664ff"/>
<path d="M227.1,236.2C227.9,235.7 230.8,235.5 232.5,235.6C234.2,235.7 236.7,236.2 237.3,236.8C237.9,237.3 237.1,238.6 236.1,239.1C235.1,239.6 232.7,239.8 231.3,239.7C229.9,239.6 228.4,239.1 227.7,238.5C227.0,237.9 226.3,236.7 227.1,236.2Z" fill="#9664ff"/>
<ellipse cx="212.2" cy="261.5" rx="1.8" ry="1.8" fill="#9664ff" transform="rotate(0 212.2 261.5)"/>
<path d="M420.9,222.8C421.5,222.1 425.1,221.8 426.6,221.9C428.2,222.1 429.9,223.0 430.2,223.7C430.5,224.5 429.6,225.9 428.4,226.4C427.2,226.8 424.3,227.0 423.0,226.4C421.8,225.8 420.3,223.6 420.9,222.8Z" fill="#9664ff"/>
<path d="M397.2,273.9C397.2,273.0 399.2,271.4 400.8,270.7C402.4,270.1 404.8,270.0 407.0,270.0C409.2,270.0 413.3,270.1 414.1,270.7C415.0,271.4 413.5,273.0 412.4,273.9C411.2,274.9 408.9,276.2 407.0,276.6C405.1,277.1 402.4,277.1 400.8,276.6C399.2,276.2 397.2,274.9 397.2,273.9Z" fill="#9664ff"/>
<path d="M422.3,415.7C421.6,414.9 422.5,412.6 422.6,411.0C422.6,409.5 422.6,407.8 422.8,406.3C422.9,404.9 423.0,403.3 423.5,402.1C423.9,400.9 424.5,400.0 425.2,399.1C425.9,398.2 427.2,397.4 427.7,396.5C428.3,395.6 429.2,394.8 428.7,393.8C428.1,392.9 426.0,391.6 424.4,391.0C422.9,390.3 420.7,390.2 419.5,389.9C418.2,389.7 417.6,389.5 416.7,389.2C415.8,388.9 415.1,388.5 414.2,388.2C413.3,387.9 412.7,388.0 411.3,387.4C409.9,386.8 407.7,385.5 405.9,384.6C404.2,383.7 402.1,382.7 400.6,382.0C399.2,381.2 398.3,380.8 397.3,380.2C396.3,379.6 395.7,378.9 394.7,378.2C393.6,377.6 391.9,377.2 390.7,376.5C389.6,375.8 388.5,375.0 387.9,374.1C387.3,373.1 387.2,371.8 387.1,370.8C386.9,369.8 387.0,369.5 386.9,368.2C386.7,366.9 386.3,364.9 386.1,363.2C385.9,361.5 385.6,359.8 385.6,358.1C385.6,356.4 385.8,354.5 386.1,353.0C386.4,351.4 386.8,350.1 387.4,348.6C388.0,347.2 388.7,345.6 389.5,344.2C390.3,342.8 391.1,341.6 392.2,340.3C393.3,338.9 395.1,337.2 396.3,335.9C397.6,334.6 398.6,333.6 399.8,332.6C400.9,331.6 401.9,330.8 403.1,330.0C404.3,329.1 405.4,328.1 406.8,327.4C408.2,326.7 409.9,326.0 411.5,325.5C413.1,325.1 414.9,324.8 416.5,324.6C418.2,324.4 419.9,324.3 421.6,324.3C423.3,324.2 425.7,323.8 426.7,324.4C427.7,325.0 427.3,326.7 427.5,327.7C427.7,328.8 427.7,329.8 428.1,330.7C428.4,331.6 428.9,332.8 429.4,333.3C430.0,333.8 430.6,333.6 431.3,333.7C431.9,333.9 432.2,334.0 433.2,334.4C434.2,334.8 436.5,335.3 437.0,336.2C437.6,337.1 436.7,338.7 436.7,339.7C436.7,340.8 436.2,341.8 436.9,342.5C437.5,343.3 439.7,343.8 440.7,344.2C441.7,344.7 442.0,344.9 442.7,345.1C443.4,345.3 444.2,345.5 445.1,345.6C445.9,345.8 447.1,345.9 447.9,346.1C448.7,346.3 448.7,346.2 449.8,346.7C450.8,347.2 452.9,347.9 454.1,348.9C455.2,349.9 456.1,351.2 456.8,352.5C457.6,353.8 458.2,355.2 458.7,356.5C459.2,357.8 459.4,359.1 459.8,360.4C460.3,361.6 461.2,362.8 461.4,364.1C461.7,365.4 461.6,367.0 461.4,368.3C461.1,369.6 459.8,370.7 459.7,372.0C459.7,373.3 460.5,374.9 460.9,376.2C461.2,377.5 461.7,378.5 461.9,379.5C462.1,380.5 462.0,381.3 462.0,382.1C462.1,383.0 462.1,383.5 462.1,384.6C462.1,385.7 462.5,387.8 462.1,388.7C461.6,389.6 460.5,389.9 459.6,389.8C458.8,389.7 457.9,388.5 457.2,387.9C456.4,387.3 455.7,386.4 455.1,386.1C454.5,385.9 454.0,386.1 453.5,386.5C453.0,386.9 452.7,387.9 452.2,388.7C451.8,389.4 451.2,390.3 450.5,391.1C449.9,391.8 449.2,392.2 448.5,392.9C447.8,393.6 447.1,394.5 446.4,395.4C445.7,396.3 444.3,397.4 444.2,398.4C444.0,399.4 445.0,400.3 445.5,401.3C445.9,402.4 446.4,403.2 446.8,404.5C447.1,405.8 447.3,407.0 447.4,408.9C447.5,410.7 448.2,414.5 447.4,415.7C446.6,416.8 444.1,415.7 442.4,415.7C440.7,415.7 439.1,415.7 437.4,415.7C435.7,415.7 434.0,415.7 432.4,415.7C430.7,415.7 429.0,415.7 427.4,415.7C425.7,415.7 423.1,416.4 422.3,415.7Z" fill="#9664ff"/>
<path d="M191.9,238.5C192.2,237.6 193.6,236.2 194.9,235.6C196.2,234.9 198.2,234.5 199.7,234.6C201.2,234.7 203.1,235.4 203.9,236.2C204.7,236.9 204.9,238.3 204.5,239.1C204.1,239.9 202.8,240.5 201.5,240.9C200.2,241.3 198.1,241.5 196.7,241.5C195.3,241.5 193.9,241.4 193.1,240.9C192.3,240.4 191.6,239.4 191.9,238.5Z" fill="#dc64ff"/>
<path d="M211.6,242.7C211.7,242.0 213.5,241.2 214.6,240.9C215.7,240.6 217.3,240.6 218.2,240.9C219.1,241.2 220.0,242.1 220.0,242.7C220.0,243.3 219.2,244.1 218.2,244.5C217.2,244.9 215.1,245.4 214.0,245.1C212.9,244.8 211.5,243.4 211.6,242.7Z" fill="#dc64ff"/>
<path d="M220.6,239.7C220.9,239.0 222.5,237.9 223.5,237.9C224.5,237.9 226.2,239.0 226.5,239.7C226.8,240.4 226.1,241.7 225.3,242.1C224.5,242.5 222.5,242.5 221.8,242.1C221.0,241.7 220.3,240.4 220.6,239.7Z" fill="#dc64ff"/>
<path d="M231.3,216.5C231.6,216.1 233.6,215.7 234.3,215.9C235.0,216.0 235.8,217.0 235.5,217.4C235.2,217.8 233.2,218.4 232.5,218.3C231.8,218.1 231.0,216.9 231.3,216.5Z" fill="#dc64ff"/>
<path d="M198.5,254.6C198.8,254.0 200.1,253.5 200.9,253.5C201.7,253.5 202.9,254.0 203.3,254.6C203.7,255.2 203.7,256.4 203.3,257.0C202.9,257.6 201.6,258.2 200.9,258.2C200.1,258.2 199.2,257.6 198.8,257.0C198.5,256.4 198.2,255.2 198.5,254.6Z" fill="#dc64ff"/>
<path d="M398.1,273.9C398.1,273.0 400.3,271.8 401.7,271.3C403.0,270.7 404.8,270.4 406.1,270.7C407.5,271.0 409.5,272.2 409.7,273.0C409.8,273.9 408.4,275.5 407.0,276.1C405.7,276.7 403.2,277.0 401.7,276.6C400.2,276.3 398.1,274.8 398.1,273.9Z" fill="#dc64ff"/>
<ellipse cx="337.6" cy="281.2" rx="3.0" ry="2.0" fill="#dc64ff" transform="rotate(0 337.6 281.2)"/>
<path d="M422.9,415.7C422.2,414.9 423.1,412.4 423.2,410.8C423.3,409.2 423.3,407.6 423.5,406.0C423.7,404.4 423.7,402.6 424.3,401.2C424.8,399.9 425.8,398.9 426.8,397.9C427.7,397.0 429.4,396.3 430.1,395.4C430.7,394.5 431.2,393.3 430.6,392.5C430.1,391.7 428.2,391.2 426.8,390.6C425.3,390.0 423.7,389.4 422.0,389.1C420.2,388.7 417.9,388.9 416.2,388.7C414.4,388.4 412.8,388.4 411.4,387.7C409.9,387.1 409.0,385.8 407.5,384.8C406.1,383.9 404.3,382.8 402.7,381.9C401.1,381.0 399.5,380.2 397.9,379.4C396.3,378.6 394.3,378.0 393.0,377.1C391.8,376.2 391.0,375.5 390.2,374.2C389.4,372.9 388.8,371.2 388.2,369.4C387.7,367.6 387.2,365.5 386.9,363.6C386.6,361.7 386.3,359.8 386.3,357.8C386.3,355.9 386.5,353.8 386.9,352.0C387.3,350.3 388.1,348.8 388.8,347.2C389.5,345.6 390.1,343.9 391.1,342.4C392.1,340.9 393.7,339.5 395.0,338.2C396.3,336.8 397.4,335.6 398.8,334.3C400.3,333.0 402.1,331.7 403.7,330.5C405.2,329.2 406.3,327.8 408.1,327.0C409.9,326.2 412.3,325.8 414.3,325.4C416.2,325.1 418.3,325.2 420.0,325.1C421.8,324.9 423.7,324.5 424.9,324.7C426.0,324.8 426.8,325.4 426.8,326.0C426.8,326.7 425.3,327.7 424.9,328.5C424.4,329.4 423.6,330.3 423.9,331.2C424.2,332.2 425.5,333.7 426.8,334.3C428.1,335.0 430.0,334.8 431.6,335.1C433.2,335.3 435.4,335.3 436.4,335.9C437.4,336.4 437.9,337.3 437.8,338.2C437.6,339.0 436.3,340.2 435.5,341.1C434.6,342.0 432.6,342.8 432.8,343.6C432.9,344.4 434.7,345.4 436.4,345.9C438.2,346.4 440.8,346.4 443.2,346.7C445.6,346.9 448.8,347.0 450.9,347.2C453.0,347.5 454.4,347.3 455.7,348.2C457.0,349.1 457.9,350.8 458.6,352.4C459.3,354.0 459.5,355.8 459.7,357.8C460.0,359.9 459.9,362.8 460.3,364.6C460.7,366.3 462.0,367.1 462.1,368.4C462.2,369.7 461.4,371.2 460.9,372.3C460.4,373.3 459.1,373.7 459.0,374.8C458.8,375.9 459.7,377.4 460.1,379.0C460.6,380.7 461.1,383.1 461.5,384.8C461.9,386.6 462.6,388.3 462.4,389.6C462.3,391.0 461.3,392.8 460.5,392.9C459.7,393.1 458.6,391.6 457.6,390.6C456.7,389.6 455.7,388.1 454.7,386.7C453.8,385.4 452.6,382.0 451.8,382.5C451.1,383.0 450.8,387.8 450.1,389.6C449.5,391.5 449.0,392.2 448.0,393.5C447.0,394.8 445.0,396.4 444.1,397.3C443.3,398.3 442.5,398.5 442.8,399.3C443.1,400.1 445.4,400.9 446.1,402.2C446.8,403.5 446.9,404.7 447.0,407.0C447.2,409.2 447.8,414.2 447.0,415.7C446.2,417.1 443.8,415.7 442.2,415.7C440.6,415.7 439.0,415.7 437.4,415.7C435.8,415.7 434.2,415.7 432.6,415.7C431.0,415.7 429.4,415.7 427.7,415.7C426.1,415.7 423.7,416.5 422.9,415.7Z" fill="#dc64ff"/>
<path d="M98.1,396.1C98.3,395.2 99.1,393.9 99.9,393.1C100.7,392.3 102.1,392.1 102.9,391.3C103.7,390.5 103.9,388.9 104.7,388.3C105.5,387.7 106.8,387.4 107.7,387.7C108.6,388.0 109.6,389.1 110.1,390.1C110.5,391.1 110.7,392.5 110.6,393.7C110.5,394.9 110.0,396.2 109.5,397.3C109.0,398.4 108.5,399.5 107.7,400.2C106.9,400.9 105.8,401.4 104.7,401.4C103.6,401.4 102.1,400.7 101.1,400.2C100.1,399.7 99.2,399.1 98.7,398.5C98.2,397.8 97.9,397.0 98.1,396.1Z" fill="#dc64ff"/>
<path d="M92.4,386.8C92.6,386.3 93.8,385.4 94.5,385.3C95.3,385.3 96.6,385.8 96.9,386.3C97.2,386.8 96.9,388.0 96.3,388.3C95.8,388.7 94.2,388.6 93.6,388.3C92.9,388.1 92.2,387.3 92.4,386.8Z" fill="#dc64ff"/>
<path d="M295.5,403.2C295.5,402.1 295.9,399.8 296.5,398.5C297.1,397.1 297.9,395.8 298.9,394.9C299.9,394.0 301.3,393.5 302.5,393.1C303.6,392.7 305.2,392.0 305.8,392.5C306.4,393.0 306.3,394.7 306.3,396.1C306.2,397.5 305.9,399.3 305.5,400.8C305.0,402.3 304.4,403.9 303.7,405.0C303.0,406.1 302.2,407.1 301.3,407.4C300.4,407.7 299.1,407.1 298.3,406.8C297.5,406.5 297.0,406.0 296.5,405.4C296.0,404.8 295.5,404.4 295.5,403.2Z" fill="#dc64ff"/>
<path d="M314.4,399.0C314.2,398.3 315.3,397.4 316.2,397.0C317.1,396.7 318.5,396.8 319.8,397.0C321.1,397.3 323.1,397.8 323.9,398.5C324.8,399.1 324.9,399.9 324.9,400.8C324.9,401.7 324.6,403.4 323.9,403.8C323.3,404.2 322.1,403.6 321.0,403.2C319.9,402.8 318.5,402.1 317.4,401.4C316.3,400.7 314.6,399.8 314.4,399.0Z" fill="#dc64ff"/>
<path d="M194.3,238.5C195.0,238.2 198.2,237.8 199.1,237.9C200.0,238.1 200.4,239.0 199.7,239.4C199.0,239.7 195.8,240.2 194.9,240.1C194.0,240.0 193.6,238.9 194.3,238.5Z" fill="#ff00ff"/>
<path d="M390.7,371.7C389.7,370.2 390.0,367.5 389.8,365.5C389.5,363.6 389.3,361.7 389.4,359.8C389.5,357.8 389.7,355.7 390.3,354.0C391.0,352.2 392.0,350.6 393.0,349.2C394.1,347.7 395.5,346.4 396.9,345.3C398.3,344.2 400.1,343.3 401.7,342.4C403.3,341.5 405.1,340.8 406.5,340.1C408.0,339.4 409.0,338.2 410.4,338.2C411.8,338.2 413.6,339.6 415.2,340.1C416.8,340.6 418.4,341.2 420.0,341.3C421.6,341.3 423.5,340.8 424.9,340.5C426.2,340.2 427.3,339.2 428.1,339.3C429.0,339.5 429.7,340.3 429.9,341.3C430.1,342.2 429.3,344.1 429.3,345.3C429.3,346.5 430.6,347.3 430.1,348.2C429.5,349.1 427.3,349.9 425.8,350.5C424.3,351.1 422.8,351.8 421.0,352.0C419.2,352.3 416.9,351.8 415.2,352.0C413.5,352.3 411.8,352.7 410.8,353.6C409.8,354.5 409.0,355.8 409.0,357.3C409.0,358.7 409.9,360.5 410.8,362.1C411.7,363.6 413.0,365.2 414.3,366.5C415.5,367.8 416.7,368.9 418.1,369.8C419.6,370.7 421.2,371.2 422.9,371.7C424.7,372.2 426.8,372.4 428.7,372.9C430.6,373.3 432.7,373.7 434.5,374.2C436.3,374.8 438.0,375.3 439.3,376.1C440.6,376.9 441.9,378.0 442.2,379.0C442.5,380.1 441.7,381.6 440.9,382.5C440.0,383.4 438.5,384.1 437.0,384.4C435.5,384.7 433.3,384.2 431.6,384.2C429.9,384.3 428.6,384.6 426.8,384.8C425.0,385.0 422.9,385.5 421.0,385.4C419.1,385.3 417.0,384.7 415.2,384.0C413.4,383.4 411.6,382.3 410.0,381.5C408.4,380.7 407.1,380.1 405.6,379.2C404.0,378.4 402.4,377.1 400.8,376.3C399.2,375.5 397.6,375.2 395.9,374.4C394.3,373.6 391.8,373.2 390.7,371.7Z" fill="#ff00ff"/>
<path d="M430.1,348.2C430.1,347.6 430.5,347.0 431.6,346.8C432.7,346.7 434.7,347.1 436.4,347.2C438.2,347.4 440.2,347.5 442.2,347.6C444.2,347.7 446.4,347.6 448.4,347.8C450.3,348.0 452.4,348.2 453.8,349.0C455.2,349.7 456.0,350.9 456.7,352.4C457.3,354.0 457.5,356.4 457.8,358.4C458.1,360.4 458.2,363.0 458.4,364.6C458.6,366.2 459.6,367.5 459.0,367.9C458.4,368.2 456.4,367.2 454.7,366.7C453.1,366.2 450.7,365.3 449.0,364.6C447.2,363.8 445.6,362.9 444.1,362.1C442.7,361.2 441.5,360.3 440.3,359.4C439.1,358.4 438.1,357.3 437.0,356.3C435.9,355.2 434.5,354.0 433.5,353.0C432.6,352.0 431.8,351.3 431.2,350.5C430.6,349.7 430.0,348.8 430.1,348.2Z" fill="#ff00ff"/>
<path d="M425.2,415.7C424.2,414.2 425.0,409.2 425.2,407.0C425.5,404.7 426.0,403.5 426.8,402.2C427.5,400.9 428.7,400.1 429.7,399.3C430.6,398.5 431.9,397.2 432.6,397.3C433.2,397.5 433.5,399.0 433.5,400.2C433.6,401.5 433.1,403.5 432.8,405.1C432.4,406.7 431.9,408.1 431.6,409.9C431.3,411.6 432.3,414.7 431.2,415.7C430.2,416.6 426.2,417.1 425.2,415.7Z" fill="#ff00ff"/>
<path d="M436.4,415.7C435.7,414.4 436.5,409.7 437.0,408.0C437.5,406.2 438.3,405.8 439.3,405.1C440.3,404.4 441.8,403.6 442.8,403.7C443.7,403.8 444.5,404.6 445.1,405.6C445.7,406.7 446.4,408.2 446.6,409.9C446.9,411.6 447.5,414.7 446.6,415.7C445.8,416.6 443.2,415.7 441.5,415.7C439.8,415.7 437.2,416.9 436.4,415.7Z" fill="#ff00ff"/>
<path d="M460.9,405.1C461.8,403.9 464.8,403.3 466.3,403.1C467.8,403.0 469.5,403.0 470.2,404.1C470.8,405.2 470.2,408.0 470.2,409.9C470.2,411.8 471.6,414.7 470.2,415.7C468.7,416.6 463.0,416.5 461.5,415.7C460.0,414.8 461.3,412.1 461.2,410.4C461.1,408.6 460.1,406.3 460.9,405.1Z" fill="#ffe6be"/>
<path d="M418.5,362.7C418.6,361.7 419.3,360.7 420.0,360.1C420.8,359.6 421.8,359.8 422.9,359.4C424.1,359.0 425.8,358.6 426.8,357.8C427.7,357.1 428.1,355.7 428.7,354.9C429.4,354.1 429.8,353.4 430.6,353.0C431.4,352.6 432.7,352.1 433.5,352.4C434.3,352.8 435.2,354.0 435.5,354.9C435.7,355.8 435.6,356.8 435.1,357.8C434.6,358.9 433.4,360.2 432.6,361.3C431.7,362.4 431.0,363.7 430.1,364.6C429.1,365.4 428.1,366.1 426.8,366.5C425.5,366.9 423.5,367.2 422.3,367.1C421.2,367.0 420.3,366.7 419.7,365.9C419.0,365.2 418.4,363.6 418.5,362.7Z" fill="#0064ff"/>
<path d="M419.7,362.7C420.1,361.9 421.6,361.4 422.9,360.7C424.2,360.1 426.2,359.7 427.4,358.8C428.5,357.9 429.0,356.3 429.7,355.5C430.4,354.7 430.9,354.1 431.6,354.0C432.3,353.9 433.7,354.2 433.9,354.9C434.2,355.6 433.7,357.1 433.1,358.2C432.6,359.3 431.6,360.5 430.6,361.7C429.7,362.8 428.6,364.4 427.4,365.2C426.1,365.9 424.1,366.0 422.9,365.9C421.8,365.9 421.0,365.5 420.4,365.0C419.9,364.4 419.2,363.4 419.7,362.7Z" fill="#64ffff"/>
<path d="M421.0,362.8C421.6,362.2 424.3,361.8 425.8,360.9C427.3,360.1 429.0,358.7 430.1,357.8C431.1,356.9 431.5,355.7 432.0,355.5C432.4,355.4 433.1,355.9 432.8,356.9C432.4,357.8 431.2,360.1 430.1,361.3C428.9,362.5 427.2,363.5 425.8,364.0C424.5,364.5 422.8,364.8 422.0,364.6C421.2,364.4 420.4,363.5 421.0,362.8Z" fill="#dcffc8"/>
<path d="M436.4,337.6C436.4,336.9 439.5,336.2 441.2,336.0C443.0,335.9 445.4,336.3 447.0,336.6C448.6,337.0 450.9,337.6 450.9,338.2C450.9,338.7 448.6,339.8 447.0,340.1C445.4,340.4 443.0,340.3 441.2,339.9C439.5,339.5 436.4,338.2 436.4,337.6Z" fill="#0064ff"/>
<ellipse cx="459.2" cy="394.8" rx="1.5" ry="1.5" fill="#0064ff" transform="rotate(0 459.2 394.8)"/>
<ellipse cx="101.7" cy="391.9" rx="1.3" ry="1.3" fill="#00c8ff" transform="rotate(0 101.7 391.9)"/>
<line x1="149.4" y1="31.5" x2="149.4" y2="415" stroke="#000" stroke-opacity="0.31" stroke-width="1"/>
<line x1="213.2" y1="31.5" x2="213.2" y2="415" stroke="#000" stroke-opacity="0.31" stroke-width="1"/>
<line x1="276.9" y1="31.5" x2="276.9" y2="415" stroke="#000" stroke-opacity="0.31" stroke-width="1"/>
<line x1="340.7" y1="31.5" x2="340.7" y2="415" stroke="#000" stroke-opacity="0.31" stroke-width="1"/>
<line x1="404.5" y1="31.5" x2="404.5" y2="415" stroke="#000" stroke-opacity="0.31" stroke-width="1"/>
<line x1="85.6" y1="349.6" x2="468.6" y2="349.6" stroke="#000" stroke-opacity="0.31" stroke-width="1"/>
<line x1="85.6" y1="285.8" x2="468.6" y2="285.8" stroke="#000" stroke-opacity="0.31" stroke-width="1"/>
<line x1="85.6" y1="222.1" x2="468.6" y2="222.1" stroke="#000" stroke-opacity="0.31" stroke-width="1"/>
<line x1="85.6" y1="158.3" x2="468.6" y2="158.3" stroke="#000" stroke-opacity="0.31" stroke-width="1"/>
<line x1="85.6" y1="94.6" x2="468.6" y2="94.6" stroke="#000" stroke-opacity="0.31" stroke-width="1"/>
<path d="M145.4,181.7L148.0,182.2L150.1,183.3L152.8,185.9L156.0,185.4L157.0,183.8L159.2,183.8L161.8,185.4L165.5,185.9L167.7,185.4L168.7,187.5L171.4,187.5L173.0,189.6L170.8,190.7L171.4,192.8L172.4,194.9L171.4,196.5L174.0,197.6L172.4,198.7L169.8,197.8L167.1,197.1L165.0,198.1L163.4,200.3L165.5,201.8L167.1,204.0L167.7,206.1L169.2,207.7L171.4,208.7L173.0,207.4L171.9,209.8L170.3,211.9L170.6,213.7L168.7,214.6L167.7,216.7L167.1,218.8L166.1,221.0L167.7,222.5L168.2,224.7L166.6,226.3L165.0,227.9L163.4,229.4L165.5,230.0L167.7,228.9L168.7,230.5L170.3,229.4L171.9,228.2L174.0,227.3L176.1,226.1L178.3,225.2L180.4,224.1L182.5,223.1L184.6,222.5L186.8,222.0L188.9,222.2L191.0,221.8L193.1,221.2L194.2,222.5L195.8,223.6L197.4,222.5L196.8,220.7L198.4,219.9M114.0,285.5L112.2,287.3L109.5,288.5L107.8,290.9L109.5,292.6L108.3,295.0L106.0,296.7L107.2,298.9L105.1,301.0L103.3,303.3L104.2,305.6L101.9,307.8L100.1,310.4M206.5,247.1L208.2,248.6L209.7,250.3L210.9,252.2L212.1,254.2L212.9,256.3L213.9,258.4L214.5,260.8" fill="none" stroke="#000" stroke-width="2.1" stroke-linejoin="round" stroke-linecap="round"/>
<path d="M217.3,71.1L220.9,68.8L225.3,66.6L231.5,65.7L237.8,65.2L243.1,62.2L247.6,57.7L252.9,55.0L259.2,53.3L265.4,51.5L271.6,50.2L277.5,48.8M227.1,59.5L233.3,59.9L238.7,59.5L244.0,59.1L246.7,58.1M238.7,91.6L241.3,89.8L244.9,89.4L247.9,90.7L248.5,93.3L247.2,96.9L244.9,99.6L242.2,100.1L240.1,98.3L238.7,95.1ZM208.4,140.0L208.4,137.9L210.2,135.2L212.8,132.5L216.4,129.8L220.0,128.1L222.6,127.2L221.8,125.0L223.5,124.0L226.2,124.5L228.0,123.3L230.7,120.9L233.3,119.2L235.1,116.5L237.8,115.8L236.9,118.3L236.0,120.1L238.7,119.2L239.6,116.5L242.2,116.1L243.1,120.1L245.8,121.5L249.4,122.2L252.0,123.6L254.7,122.7L259.2,121.5L263.6,120.1L268.1,118.3L272.5,116.1L277.5,113.8M277.5,48.8L282.0,46.7L287.3,44.4L290.9,41.7L293.2,38.1L295.3,36.0L298.9,34.9L300.3,32.8L298.0,31.9L294.4,32.8L292.6,34.2L293.2,38.1M277.5,113.8L281.1,109.4L284.6,104.9L290.0,100.5L295.3,96.0L300.7,91.6L306.0,86.2L311.3,80.9L315.8,75.5L320.2,70.2L324.7,64.8L329.2,59.5L334.5,54.2L339.8,50.6L343.4,47.0L344.3,42.6L346.1,38.1L346.6,34.6L347.0,31.0M367.4,31.0L366.6,36.3L365.7,41.7L364.4,46.1L366.2,50.6L367.4,55.0L368.3,60.4L366.6,64.8L366.2,69.3L364.8,73.7L364.4,78.2L365.7,81.8L367.1,82.7L368.3,79.1L370.1,76.4L372.8,73.7L376.3,72.3L379.9,73.4L382.6,75.5L384.4,80.5L385.8,77.7L385.3,72.9L384.0,70.2L381.7,71.1L380.4,68.4L379.0,65.7L376.3,63.1L374.6,59.5L373.7,55.9L374.6,51.5L376.3,47.9L378.1,44.4L380.8,41.7L384.4,39.9L388.8,39.0L393.3,39.5L396.8,41.7L399.5,44.4L400.8,47.4L400.4,44.4L398.3,40.8L395.9,37.2L394.2,34.2L392.9,31.0M461.3,86.2L463.6,84.1L466.3,82.3L469.0,80.9L469.9,81.8L467.2,84.1L464.5,85.9L462.4,87.3ZM85.5,157.5L89.1,154.2L92.6,150.7L96.2,148.0L100.6,146.8L105.1,146.4L108.7,145.7L110.4,148.0L113.1,148.9L114.0,151.6L112.2,155.1L109.5,157.8L106.5,159.9L104.2,162.3L102.4,164.0L103.3,165.8L106.0,166.4L108.7,165.8L106.9,167.6L103.3,169.4L100.6,171.2L99.4,172.9L100.6,174.2L103.3,173.5L106.0,172.1L107.8,170.3L106.5,169.4L109.5,167.6L113.1,165.8L117.6,164.0L122.9,162.3L128.2,161.0L133.6,159.9L138.9,159.2L142.5,160.5L146.1,161.4L149.6,162.8L154.1,162.8L156.4,163.2L154.1,164.9L152.8,168.5L151.8,172.1L153.2,174.2L155.9,174.7L154.1,175.6L150.5,176.5L148.7,178.3L146.9,181.3L145.2,182.4M198.6,221.0L201.3,219.3L203.1,216.6L204.8,213.9L206.3,210.4L207.0,206.8L206.6,202.3L205.7,197.9L203.9,193.4L201.3,189.0L198.6,184.5L195.9,180.1L193.3,176.5L190.6,173.8L187.0,171.2L183.5,169.4L180.8,168.1L179.5,166.7L180.8,164.0L182.6,161.4L185.2,159.2L188.8,157.5L193.3,155.7L197.7,153.4L202.2,150.7L205.7,148.0L208.4,146.2L209.8,143.6L210.2,140.0M85.5,188.1L90.0,186.7L94.4,186.0L98.9,187.2L102.4,189.0L106.0,190.2L110.4,189.9L114.0,190.8L117.6,191.3L119.3,192.5L117.6,194.9L114.9,197.0L111.3,197.9L107.8,198.8L104.2,200.6L100.6,202.0L97.1,203.2L94.4,205.0L91.7,206.3L89.1,207.7L85.5,208.6M85.5,229.1L88.2,232.6L90.0,237.1L91.7,241.5L93.5,245.1L95.3,249.0L96.2,254.0M163.9,242.9L166.5,241.2L170.1,240.3L173.7,240.6L174.2,242.4L171.9,243.8L168.3,244.5L164.8,244.2ZM95.3,249.0L98.0,251.7L100.6,254.3L103.3,257.0L106.9,258.8L109.0,261.5L109.5,264.1L107.8,265.9L105.1,265.0L102.4,264.1L103.3,266.8L106.5,268.2L108.7,270.4L108.3,273.9L106.0,276.6L102.4,278.4L98.9,279.6L95.3,280.7L92.6,281.9L94.4,283.2L98.0,283.7L102.4,284.3L106.9,284.6L111.3,284.3L114.0,285.5L112.2,287.3L109.5,288.5L107.8,290.9L109.5,292.6L108.3,295.0L106.0,296.7L107.2,298.9L105.1,301.0L103.3,303.3L104.2,305.6L101.9,307.8L100.1,310.4L98.0,311.7L95.3,311.3L93.5,313.5L91.7,316.3L90.0,318.8L88.2,321.7L86.9,324.7L85.5,327.4M85.5,260.6L90.0,259.7L94.4,261.1L96.5,264.1L95.3,267.7L92.6,270.4L90.0,273.0L87.3,273.9L85.5,273.0M85.5,281.1L89.1,280.7L92.6,281.9M219.4,279.6L221.2,280.5L221.4,282.3L219.8,283.6L218.0,282.7L217.7,280.9ZM86.7,373.4L87.9,368.6L90.3,363.9L93.3,359.1L96.2,354.3L99.2,350.1L102.2,347.4L105.2,346.0L108.2,347.4L110.6,348.9L110.0,351.9L109.4,355.5L108.2,359.1L107.0,363.3L105.8,367.4L104.3,371.6L102.8,375.2L101.0,378.2L99.2,381.2L98.0,384.1L97.4,387.7L96.2,389.1L95.0,387.7L94.4,384.7L92.7,382.9L90.3,381.2L88.5,378.8L87.3,376.4ZM364.9,87.8L367.3,89.5L370.2,91.9L373.2,94.9L376.2,97.9L379.8,100.3L383.4,102.4L386.9,104.5L390.5,105.3L394.1,106.5L397.7,107.7L401.3,107.7L404.2,106.2L406.6,104.5L408.8,102.9L407.8,105.6L406.6,108.6L407.2,111.6L409.0,114.0L411.4,115.5L414.4,114.8L412.6,116.4L409.6,117.2L406.6,117.9L403.6,118.8L400.1,120.0L396.5,120.6L392.9,121.8L389.9,123.5L387.5,125.3L385.1,127.7L383.4,130.7L382.2,133.4L379.8,132.5L376.8,131.1L373.2,129.5L369.6,127.7L366.1,125.9L362.5,124.7L359.5,125.1L356.5,126.5L354.1,128.3L352.3,127.7L350.0,126.3L347.6,125.6L345.2,126.5L344.0,128.3L345.2,130.1L347.6,131.3L350.0,132.5L352.3,133.7L354.7,134.9L353.5,136.1L351.1,135.5L348.8,136.7L346.4,138.5L344.0,139.6L341.6,139.0L340.8,136.7L339.8,133.7L339.2,130.7L338.0,127.7L338.6,125.3L340.4,123.5L342.8,122.3L344.6,120.6L345.2,118.2L345.8,115.8L348.2,115.5L351.1,116.4L354.1,117.0L356.5,116.4L357.7,114.6L357.5,111.6L358.7,109.2L360.7,106.8L361.3,103.9L362.5,100.9L363.1,97.9L362.5,94.9L361.3,91.9L361.0,89.5L362.5,88.4ZM339.8,153.0L341.0,150.4L342.8,148.6L344.6,146.8L345.2,144.4L346.4,142.6L348.8,142.0L349.4,144.4L350.0,146.8L351.7,147.4L353.5,146.2L354.1,143.8L353.5,141.4L352.3,139.6L354.1,139.0L355.9,140.2L357.7,140.8L358.9,142.6L358.3,145.6L359.5,148.6L361.3,151.6L362.5,153.0L362.7,152.5L364.5,155.5L365.7,159.1L366.6,162.7L366.8,165.6L365.7,168.6L363.9,171.3L362.1,173.4L360.9,175.8L359.9,178.8L358.5,179.4L356.7,178.8L354.3,180.0L352.5,181.8L351.9,184.1L352.8,187.1L353.7,190.1L353.8,192.4L352.8,195.4L351.6,198.4L349.8,201.9L348.6,204.9L348.0,207.9L349.2,209.7L350.7,210.9L351.6,212.4L349.8,213.3L348.0,213.9L346.3,216.2L344.5,218.0L342.7,218.6L340.9,219.8L339.7,221.6L338.3,222.8L337.3,221.3L336.3,219.2L335.9,217.2L337.1,215.3L338.7,213.9L340.6,214.2L341.7,216.2L340.9,218.9L339.7,221.3L338.3,222.8L337.1,221.3L335.9,217.7L333.7,218.4L331.9,219.8L330.1,222.2L328.4,224.6L326.6,225.8L325.6,224.6L325.4,222.2L323.9,221.3L321.8,222.0L320.0,223.4L318.8,225.2L317.6,227.0L314.6,226.4L311.7,225.8L308.7,225.2L305.7,225.5L303.3,225.2L301.8,224.0L301.3,222.2L299.7,221.6L298.5,223.2L297.7,225.2L298.5,227.0L300.3,228.2L301.3,230.0L299.7,231.2L297.3,231.8L295.0,232.7L293.2,234.1L291.4,235.9L289.6,237.7L287.8,239.5L285.4,241.1L283.1,240.1L281.3,238.5L279.5,236.8L278.3,234.4L278.9,232.0L280.1,230.2L281.9,229.0L283.1,227.2L282.5,225.4L280.1,225.8L277.1,226.3L274.7,225.8L271.8,225.4L268.8,225.8L266.4,227.2L264.0,228.4L261.6,227.8L258.0,228.4L254.5,229.0L250.9,229.6L247.3,230.2L244.9,230.8L243.7,232.6L242.5,233.8L241.3,232.0L239.5,231.4L236.6,232.2L233.6,232.9L230.6,232.6L228.2,233.2L226.4,233.8L224.6,232.0L227.6,230.2L230.6,228.4L233.6,226.3L236.6,224.2L239.5,222.2L242.5,220.1L245.5,218.3L248.5,216.5L251.5,215.3L253.9,215.3L256.8,215.5L260.4,215.0L264.0,214.7L267.6,214.1L271.2,213.8L274.7,213.5L278.3,212.9L279.8,214.1L281.3,215.3L283.7,214.7L286.1,213.5L287.8,215.1L289.6,213.3L289.0,210.9L289.6,208.5L291.4,206.7L291.1,206.2L293.5,204.4L295.9,202.0L297.7,199.6L299.1,197.3L298.3,194.9L298.9,192.7L300.6,191.5L303.0,190.7L305.4,189.9L306.0,191.1L304.2,192.5L301.8,193.7L301.2,195.5L302.4,197.9L304.8,199.0L307.2,197.9L310.2,196.3L313.2,194.9L316.1,193.1L319.1,191.3L321.5,189.5L323.9,187.1L326.3,185.3L328.7,184.1L331.1,182.3L332.8,180.0L334.6,177.0L336.4,174.0L338.2,171.0L340.0,168.0L341.2,165.1L341.6,162.1L341.2,159.1L339.4,159.7L337.0,159.1L337.6,157.9L339.6,156.7L340.0,153.7ZM239.5,242.9L241.3,241.7L243.1,239.9L244.9,238.1L247.3,236.3L250.3,234.5L253.3,233.1L256.8,231.9L260.4,231.0L264.0,230.0L266.4,229.8L269.4,231.0L271.8,232.2L273.3,233.9L273.5,235.7L272.1,237.5L270.6,239.1L269.4,240.7L268.2,242.7L266.6,244.1L264.6,244.7L262.8,243.5L260.4,242.3L258.0,241.5L255.9,242.3L254.2,243.8L253.0,245.5L251.8,247.4L250.6,249.1L249.5,250.3L247.9,248.9L246.1,247.7L244.9,245.9L244.3,243.5L243.1,241.7L241.3,242.7ZM205.0,244.1L207.3,242.7L210.3,241.1L213.9,239.3L217.5,237.5L221.1,236.0L224.0,235.1L226.4,236.3L228.2,237.5L230.6,239.1L232.7,240.5L234.2,242.3L235.6,244.7L236.6,247.1L236.8,249.5L235.6,251.8L234.4,254.2L233.6,256.6L232.7,259.0L232.0,261.4L231.6,263.8L230.6,265.6L228.8,266.8L227.0,267.9L225.6,269.7L224.0,271.5L222.3,273.0L221.1,272.1L221.7,269.7L222.3,267.3L221.7,265.0L220.5,265.6L219.9,267.7L219.3,270.1L217.5,270.6L215.7,269.1L215.1,266.8L214.9,263.8L214.5,260.8L213.9,258.4L212.9,256.3L212.1,254.2L210.9,252.2L209.7,250.3L208.2,248.6L206.5,247.1L205.3,245.5ZM212.7,244.1L214.5,245.9L216.3,248.3L217.5,250.6L218.4,253.0L217.5,255.4L215.7,256.3L214.5,254.2L215.1,251.8L214.1,249.5L212.7,247.7L211.3,245.9ZM208.2,248.6L209.7,247.7L210.9,248.9L212.1,250.6L213.3,252.7L213.9,254.8M288.5,220.6L289.7,218.3L291.4,216.5L292.6,217.1L292.0,218.9L290.2,220.6L289.1,221.8ZM272.4,227.8L274.1,226.6L275.3,227.8L274.1,230.2L272.6,230.8ZM317.7,185.9L318.5,183.5L320.1,180.6L321.8,179.6L322.1,181.8L320.9,184.4L319.4,186.5L317.9,186.8ZM409.6,109.8L412.0,107.7L414.4,105.6L416.8,103.6L419.1,101.5L420.9,100.5L423.9,101.2L422.1,102.7L419.7,103.9L417.4,105.6L415.0,107.7L412.6,109.8L410.8,111.0ZM428.3,100.9L430.5,99.1L432.9,97.3L435.2,95.5L437.6,93.7L440.0,91.9L441.8,89.5L443.0,90.7L444.8,90.1L447.2,88.9L450.2,87.8L453.7,86.7L454.6,87.4L453.5,88.9L450.8,90.1L447.8,91.0L444.8,91.9L442.4,93.4L440.0,94.9L437.6,96.5L435.2,97.9L432.9,99.3L430.5,100.9L429.0,101.7Z" fill="none" stroke="#000" stroke-width="1.25" stroke-linejoin="round"/>
<path d="M137.2,90.1L139.8,90.7L141.6,91.9L139.8,92.3L138.0,91.2ZM146.6,116.8L147.8,115.8L148.2,118.3L146.9,118.3ZM170.5,111.1L172.8,110.6L174.0,112.4L172.8,113.3L171.0,112.6ZM197.2,109.9L198.6,107.2L200.4,106.9L200.4,108.7L199.1,110.3ZM355.0,91.2L357.1,90.8L357.6,92.6L355.9,93.3ZM332.7,130.4L334.5,129.3L335.4,130.7L333.6,131.8ZM425.0,108.5L427.1,107.9L428.9,109.0L427.1,110.1L425.3,109.7ZM147.8,151.6L150.5,150.3L153.2,149.8L152.3,151.0L149.6,152.1ZM101.2,163.2L103.0,162.8L103.3,164.6L101.5,164.9ZM202.2,307.8L204.8,306.0L208.4,304.6L209.3,306.0L206.6,308.7L203.9,309.9ZM198.6,313.5L200.4,312.8L200.4,315.3L199.0,315.8ZM224.4,280.7L225.3,277.5L226.7,275.4L227.5,276.6L226.2,279.6L225.1,281.6ZM131.8,357.8L134.5,356.5L137.2,357.0L139.8,355.3L141.1,355.6L138.9,358.3L136.3,359.2L133.2,359.5ZM151.8,350.6L154.1,351.2L155.3,353.3L153.2,353.8ZM183.1,335.1L184.3,332.1L187.0,329.3L189.7,326.8L192.0,326.2L190.9,328.9L188.4,331.6L185.8,334.2L183.8,336.4ZM202.6,233.2L203.4,229.6L204.4,226.6L205.8,225.4L206.1,227.2L205.3,230.2L204.1,232.9ZM256.0,206.1L255.6,207.0L254.7,207.4L253.8,207.0L253.4,206.1L253.8,205.2L254.7,204.8L255.6,205.2ZM254.3,215.3L254.0,216.0L253.3,216.3L252.6,216.0L252.3,215.3L252.6,214.6L253.3,214.3L254.0,214.6ZM345.8,208.6L345.5,209.2L344.9,209.5L344.3,209.2L344.0,208.6L344.3,208.0L344.9,207.7L345.5,208.0ZM198.1,251.2L197.7,252.3L196.6,252.7L195.5,252.3L195.1,251.2L195.5,250.1L196.6,249.7L197.7,250.1ZM202.4,247.1L202.1,247.8L201.4,248.1L200.7,247.8L200.4,247.1L200.7,246.4L201.4,246.1L202.1,246.4ZM210.0,237.3L209.7,238.1L208.9,238.4L208.1,238.1L207.8,237.3L208.1,236.5L208.9,236.2L209.7,236.5Z" fill="#000" stroke="#000" stroke-width="0.9" stroke-linejoin="round"/>
</g>
<rect x="85.5" y="31.5" width="383" height="383" fill="none" stroke="#000" stroke-width="1"/>
<text x="138.4" y="424.9" font-size="9.8" textLength="22.3" lengthAdjust="spacingAndGlyphs" text-anchor="start" >125°E</text>
<text x="202.2" y="424.9" font-size="9.8" textLength="22.3" lengthAdjust="spacingAndGlyphs" text-anchor="start" >130°E</text>
<text x="265.9" y="424.9" font-size="9.8" textLength="22.3" lengthAdjust="spacingAndGlyphs" text-anchor="start" >135°E</text>
<text x="329.7" y="424.9" font-size="9.8" textLength="22.3" lengthAdjust="spacingAndGlyphs" text-anchor="start" >140°E</text>
<text x="393.5" y="424.9" font-size="9.8" textLength="22.3" lengthAdjust="spacingAndGlyphs" text-anchor="start" >145°E</text>
<text x="61.5" y="351.9" font-size="9.8" textLength="18.6" lengthAdjust="spacingAndGlyphs" text-anchor="start" >25°N</text>
<text x="61.5" y="288.1" font-size="9.8" textLength="18.6" lengthAdjust="spacingAndGlyphs" text-anchor="start" >30°N</text>
<text x="61.5" y="224.4" font-size="9.8" textLength="18.6" lengthAdjust="spacingAndGlyphs" text-anchor="start" >35°N</text>
<text x="61.5" y="160.6" font-size="9.8" textLength="18.6" lengthAdjust="spacingAndGlyphs" text-anchor="start" >40°N</text>
<text x="61.5" y="96.9" font-size="9.8" textLength="18.6" lengthAdjust="spacingAndGlyphs" text-anchor="start" >45°N</text>
<text x="141.60" y="25.8" font-size="12.36" textLength="102.89" lengthAdjust="spacingAndGlyphs" >GSMAP_NRT_1HR</text><text x="248.28" y="25.8" font-size="12.36" textLength="58.72" lengthAdjust="spacingAndGlyphs" >estimates</text><text x="310.80" y="25.8" font-size="12.36" textLength="16.41" lengthAdjust="spacingAndGlyphs" >for</text><text x="331.00" y="25.8" font-size="12.36" textLength="60.73" lengthAdjust="spacingAndGlyphs" >20251003</text><text x="395.52" y="25.8" font-size="12.36" textLength="15.18" lengthAdjust="spacingAndGlyphs" >17</text>
<g clip-path="url(#cr)">
<clipPath id="sw"><path d="M782.6,140.0L783.5,130.7L785.3,125.4L787.1,116.5L786.5,109.4L788.9,102.2L795.1,96.9L804.0,93.0L814.7,91.6L818.2,89.4L825.4,88.9L830.7,89.8L839.6,92.4L857.4,93.0L861.0,92.1L874.3,93.0L882.4,96.0L889.5,96.9L894.8,99.6L900.2,102.2L903.7,107.6L905.2,114.7L905.3,121.8L904.7,127.7L902.4,132.5L900.0,136.1L896.4,139.6L890.4,143.2L885.7,146.2L878.5,148.0L866.6,148.2L857.0,148.0L852.3,149.8L848.7,153.0L847.6,156.0L850.3,161.4L853.9,166.7L856.5,173.8L856.0,181.0L854.7,188.1L852.1,194.8L846.2,199.5L843.8,203.1L843.5,213.9L842.6,219.8L839.0,224.6L835.4,229.4L830.7,232.9L825.9,235.9L821.1,236.5L816.3,238.9L812.8,242.5L809.8,246.1L806.8,249.0L802.0,250.8L797.3,252.6L792.5,252.0L787.7,252.6L778.2,252.6L774.6,250.8L771.6,252.6L767.4,256.8L763.9,260.4L759.7,264.4L755.0,267.9L751.4,270.9L746.6,272.1L740.7,272.1L733.5,272.1L728.1,272.7L726.3,275.1L726.1,281.1L726.3,287.0L724.0,291.8L720.4,295.4L715.3,298.9L711.7,302.4L708.2,307.8L706.4,314.9L704.6,320.2L702.8,325.6L697.5,329.1L692.1,332.7L686.8,336.3L683.2,341.6L679.7,348.7L676.1,354.1L669.0,358.3L663.6,361.3L654.7,361.0L644.0,360.6L638.7,361.9L636.0,366.3L634.3,370.8L630.7,375.2L626.2,379.7L621.8,383.2L593.3,383.2L591.5,380.6L587.9,375.2L583.5,369.9L579.9,362.7L579.0,355.6L579.9,349.4L580.8,344.0L583.5,339.6L587.9,336.0L593.3,333.4L599.5,331.6L604.9,329.8L612.0,329.8L617.3,329.8L622.7,325.3L626.2,320.9L629.8,316.7L635.1,313.1L640.5,309.6L644.0,302.4L647.6,295.3L651.2,290.9L653.8,286.4L656.5,282.8L660.1,277.5L663.6,272.2L661.9,270.3L663.1,264.4L660.7,259.6L657.2,254.8L655.4,248.9L654.8,240.3L654.8,234.4L657.2,229.6L661.9,224.8L667.9,221.8L673.9,218.9L678.6,216.5L684.0,212.9L687.0,208.1L690.6,202.2L693.0,199.7L697.5,195.2L702.8,191.6L709.9,187.7L715.3,189.0L722.4,188.1L731.3,187.7L736.7,186.7L740.2,182.7L747.0,181.9L757.7,180.1L761.2,177.4L764.8,172.1L770.2,166.7L775.5,159.6L776.4,154.2L779.1,147.1Z"/></clipPath>
<g clip-path="url(#sw)">
<path d="M782.6,140.0L783.5,130.7L785.3,125.4L787.1,116.5L786.5,109.4L788.9,102.2L795.1,96.9L804.0,93.0L814.7,91.6L818.2,89.4L825.4,88.9L830.7,89.8L839.6,92.4L857.4,93.0L861.0,92.1L874.3,93.0L882.4,96.0L889.5,96.9L894.8,99.6L900.2,102.2L903.7,107.6L905.2,114.7L905.3,121.8L904.7,127.7L902.4,132.5L900.0,136.1L896.4,139.6L890.4,143.2L885.7,146.2L878.5,148.0L866.6,148.2L857.0,148.0L852.3,149.8L848.7,153.0L847.6,156.0L850.3,161.4L853.9,166.7L856.5,173.8L856.0,181.0L854.7,188.1L852.1,194.8L846.2,199.5L843.8,203.1L843.5,213.9L842.6,219.8L839.0,224.6L835.4,229.4L830.7,232.9L825.9,235.9L821.1,236.5L816.3,238.9L812.8,242.5L809.8,246.1L806.8,249.0L802.0,250.8L797.3,252.6L792.5,252.0L787.7,252.6L778.2,252.6L774.6,250.8L771.6,252.6L767.4,256.8L763.9,260.4L759.7,264.4L755.0,267.9L751.4,270.9L746.6,272.1L740.7,272.1L733.5,272.1L728.1,272.7L726.3,275.1L726.1,281.1L726.3,287.0L724.0,291.8L720.4,295.4L715.3,298.9L711.7,302.4L708.2,307.8L706.4,314.9L704.6,320.2L702.8,325.6L697.5,329.1L692.1,332.7L686.8,336.3L683.2,341.6L679.7,348.7L676.1,354.1L669.0,358.3L663.6,361.3L654.7,361.0L644.0,360.6L638.7,361.9L636.0,366.3L634.3,370.8L630.7,375.2L626.2,379.7L621.8,383.2L593.3,383.2L591.5,380.6L587.9,375.2L583.5,369.9L579.9,362.7L579.0,355.6L579.9,349.4L580.8,344.0L583.5,339.6L587.9,336.0L593.3,333.4L599.5,331.6L604.9,329.8L612.0,329.8L617.3,329.8L622.7,325.3L626.2,320.9L629.8,316.7L635.1,313.1L640.5,309.6L644.0,302.4L647.6,295.3L651.2,290.9L653.8,286.4L656.5,282.8L660.1,277.5L663.6,272.2L661.9,270.3L663.1,264.4L660.7,259.6L657.2,254.8L655.4,248.9L654.8,240.3L654.8,234.4L657.2,229.6L661.9,224.8L667.9,221.8L673.9,218.9L678.6,216.5L684.0,212.9L687.0,208.1L690.6,202.2L693.0,199.7L697.5,195.2L702.8,191.6L709.9,187.7L715.3,189.0L722.4,188.1L731.3,187.7L736.7,186.7L740.2,182.7L747.0,181.9L757.7,180.1L761.2,177.4L764.8,172.1L770.2,166.7L775.5,159.6L776.4,154.2L779.1,147.1Z" fill="#ffe6be"/>
<path d="M741.1,191.6C739.3,192.7 735.9,193.1 733.1,193.4C730.3,193.7 726.4,193.1 724.2,193.4C722.0,193.7 721.2,194.6 719.8,195.2C718.3,195.8 717.2,196.8 715.3,197.0C713.4,197.2 710.3,195.5 708.2,196.1C706.1,196.7 704.6,199.0 702.8,200.6C701.0,202.2 699.3,204.4 697.5,205.9C695.7,207.4 693.9,208.6 692.1,209.5C690.3,210.4 688.4,210.5 686.8,211.2C685.2,211.9 684.1,213.0 682.7,213.8C681.3,214.7 680.1,215.7 678.6,216.5C677.1,217.3 675.7,218.0 673.9,218.9C672.1,219.8 669.9,220.8 667.9,221.8C665.9,222.8 663.7,223.5 661.9,224.8C660.1,226.1 658.4,228.0 657.2,229.6C656.0,231.2 655.2,232.6 654.8,234.4C654.4,236.2 654.7,237.9 654.8,240.3C654.9,242.7 655.0,246.5 655.4,248.9C655.8,251.3 656.3,253.0 657.2,254.8C658.1,256.6 659.7,258.0 660.7,259.6C661.7,261.2 662.5,262.6 663.1,264.4C663.7,266.2 663.5,268.9 664.3,270.3C665.1,271.7 666.3,271.9 667.9,272.7C669.5,273.5 671.9,274.5 673.9,275.1C675.9,275.7 678.4,276.5 679.8,276.3C681.2,276.1 681.2,274.5 682.2,273.9C683.2,273.3 684.4,272.9 685.8,272.7C687.2,272.5 689.0,272.7 690.5,272.7C692.1,272.7 693.3,272.3 695.3,272.7C697.3,273.1 700.9,275.1 702.5,275.1C704.1,275.1 704.1,273.5 704.9,272.7C705.7,271.9 706.1,270.5 707.3,270.3C708.5,270.1 710.5,271.1 712.0,271.5C713.6,271.9 715.2,272.5 716.8,272.7C718.4,272.9 720.0,272.7 721.5,272.7C723.1,272.7 724.3,272.8 726.3,272.7C728.3,272.6 731.1,272.2 733.5,272.1C735.9,272.0 738.5,272.1 740.7,272.1C742.9,272.1 744.8,272.3 746.6,272.1C748.4,271.9 750.0,271.6 751.4,270.9C752.8,270.2 753.6,269.0 755.0,267.9C756.4,266.8 758.2,265.6 759.7,264.4C761.2,263.1 762.6,261.7 763.9,260.4C765.2,259.1 766.1,258.1 767.4,256.8C768.7,255.5 770.8,254.2 771.6,252.6C772.4,251.0 771.5,248.5 772.2,247.3C772.9,246.1 774.4,245.8 775.8,245.5C777.2,245.2 779.0,245.7 780.5,245.8C782.1,245.9 783.1,245.9 785.3,246.1C787.5,246.2 790.9,246.8 793.7,246.7C796.5,246.6 799.5,246.1 802.0,245.8C804.5,245.5 806.8,245.5 808.6,244.9C810.4,244.3 811.5,243.5 812.8,242.5C814.1,241.5 815.1,240.0 816.3,238.9C817.5,237.8 818.9,237.1 819.9,235.9C820.9,234.7 822.1,233.3 822.3,231.8C822.5,230.3 821.9,228.4 821.1,227.0C820.3,225.6 818.3,224.8 817.5,223.4C816.7,222.0 817.3,219.7 816.3,218.6C815.3,217.5 813.2,217.8 811.6,216.8C810.0,215.8 807.8,214.2 806.8,212.7C805.8,211.2 805.7,209.5 805.4,207.9C805.1,206.3 804.8,204.9 805.0,203.1C805.2,201.3 805.5,197.8 806.8,197.2C808.0,196.6 810.9,199.8 812.5,199.6C814.1,199.4 815.7,197.5 816.7,196.1C817.7,194.7 818.4,192.9 818.5,191.3C818.6,189.7 818.1,187.9 817.3,186.5C816.5,185.1 815.3,183.8 813.7,182.9C812.1,182.0 809.9,181.4 807.7,181.2C805.5,181.0 802.8,181.2 800.6,181.8C798.4,182.5 796.4,184.6 794.6,185.1C792.8,185.6 791.4,184.9 789.8,184.8C788.2,184.6 787.0,184.7 785.0,184.4C783.0,184.1 780.5,183.7 777.9,183.2C775.3,182.7 771.7,181.6 769.5,181.2C767.3,180.8 766.3,181.0 764.8,180.9C763.2,180.8 761.8,180.8 760.0,180.6C758.2,180.4 756.3,179.6 754.1,179.9C751.9,180.2 748.7,181.3 747.0,182.5C745.3,183.7 745.0,185.5 744.0,187.1C743.1,188.6 742.9,190.5 741.1,191.6Z" fill="#dcffc8"/>
<path d="M774.0,228.2C774.6,227.5 777.1,227.6 779.4,227.6C781.7,227.6 785.3,227.6 787.7,228.2C790.1,228.8 792.3,230.1 793.7,231.2C795.1,232.3 796.3,233.9 796.1,234.7C795.9,235.5 794.1,236.0 792.5,235.9C790.9,235.8 788.5,234.5 786.5,234.1C784.5,233.7 782.4,233.9 780.6,233.5C778.8,233.1 776.9,232.7 775.8,231.8C774.7,230.9 773.4,228.9 774.0,228.2Z" fill="#ffe6be"/>
<path d="M666.3,287.3C667.1,286.1 668.9,284.9 670.8,284.6C672.7,284.3 676.0,284.8 677.9,285.5C679.8,286.2 681.5,287.5 682.3,289.1C683.1,290.7 683.3,293.5 682.9,295.3C682.5,297.1 681.3,298.9 679.7,299.8C678.1,300.7 675.3,301.1 673.4,300.6C671.5,300.2 669.4,298.6 668.1,297.1C666.8,295.6 666.1,293.3 665.8,291.7C665.5,290.1 665.5,288.5 666.3,287.3Z" fill="#dcffc8"/>
<path d="M691.2,286.4C692.0,285.2 693.8,284.0 695.7,283.7C697.6,283.4 700.7,284.8 702.8,284.6C704.9,284.5 706.3,282.8 708.2,282.8C710.1,282.8 713.2,283.4 714.4,284.6C715.6,285.8 715.6,288.2 715.3,290.0C715.0,291.8 713.8,293.5 712.6,295.3C711.4,297.1 709.8,299.4 708.2,300.6C706.6,301.8 704.6,302.4 702.8,302.4C701.0,302.4 699.1,301.6 697.5,300.6C695.9,299.6 694.1,297.8 693.0,296.2C691.9,294.6 691.0,292.5 690.7,290.9C690.4,289.3 690.4,287.6 691.2,286.4Z" fill="#dcffc8"/>
<path d="M687.1,313.1C687.4,311.5 690.1,310.5 692.1,309.9C694.1,309.3 696.9,309.5 699.3,309.6C701.7,309.7 704.9,309.5 706.4,310.4C707.9,311.3 708.5,313.4 708.2,314.9C707.9,316.4 706.4,318.4 704.6,319.3C702.8,320.2 699.9,320.2 697.5,320.2C695.1,320.2 692.1,320.5 690.4,319.3C688.7,318.1 686.8,314.7 687.1,313.1Z" fill="#dcffc8"/>
<ellipse cx="693.0" cy="316.3" rx="2.0" ry="2.0" fill="#96ff96" transform="rotate(0 693.0 316.3)"/>
<ellipse cx="645.8" cy="316.7" rx="5.5" ry="3.6" fill="#dcffc8" transform="rotate(0 645.8 316.7)"/>
<ellipse cx="638.7" cy="334.5" rx="9.0" ry="7.0" fill="#dcffc8" transform="rotate(0 638.7 334.5)"/>
<ellipse cx="666.5" cy="333.0" rx="4.5" ry="4.5" fill="#dcffc8" transform="rotate(0 666.5 333.0)"/>
<path d="M664.3,272.7C665.0,271.9 667.5,272.7 669.1,272.7C670.7,272.7 671.7,272.5 673.9,272.7C676.0,272.9 680.9,272.5 682.2,273.9C683.5,275.3 682.0,278.5 681.6,281.1C681.2,283.7 680.6,287.4 679.8,289.4C679.0,291.4 677.8,291.8 676.8,293.0C675.8,294.2 675.5,295.7 673.9,296.6C672.2,297.4 668.3,298.8 666.7,298.0C665.1,297.2 664.6,293.6 664.3,291.8C664.0,290.0 664.7,288.6 664.9,287.0C665.1,285.4 665.5,283.9 665.5,282.3C665.5,280.7 665.1,279.1 664.9,277.5C664.7,275.9 663.6,273.5 664.3,272.7Z" fill="#dcffc8"/>
<path d="M695.3,270.9C696.1,269.5 700.5,270.1 702.5,270.3C704.5,270.5 706.1,271.1 707.3,272.1C708.5,273.1 708.1,275.8 709.6,276.3C711.2,276.8 714.4,274.9 716.8,275.1C719.2,275.3 722.9,276.3 724.0,277.5C725.1,278.7 723.6,280.7 723.4,282.3C723.2,283.9 723.4,285.4 722.8,287.0C722.2,288.6 720.8,290.2 719.8,291.8C718.8,293.4 718.5,295.5 716.8,296.6C715.1,297.6 711.1,298.5 709.6,298.0C708.2,297.5 708.5,295.1 707.9,293.7C707.3,292.3 706.7,290.8 706.1,289.4C705.5,288.0 704.9,286.6 704.3,285.2C703.7,283.9 703.6,282.2 702.5,281.1C701.4,280.0 698.9,280.4 697.7,278.7C696.5,277.0 694.5,272.3 695.3,270.9Z" fill="#dcffc8"/>
<path d="M622.7,325.3C624.8,324.5 627.9,324.5 629.8,324.5C631.7,324.5 632.8,325.0 634.3,325.3C635.7,325.6 636.9,325.5 638.7,326.2C640.5,327.0 643.8,328.2 644.9,329.8C646.1,331.4 646.2,333.8 645.8,336.0C645.4,338.3 643.5,341.1 642.6,343.2C641.8,345.2 640.9,346.6 640.8,348.5C640.8,350.4 642.6,352.7 642.3,354.7C641.9,356.7 639.7,358.7 638.7,360.6C637.7,362.5 636.8,364.6 636.0,366.3C635.3,368.0 635.1,369.3 634.3,370.8C633.4,372.2 632.0,373.7 630.7,375.2C629.4,376.7 627.7,378.3 626.2,379.7C624.8,381.0 623.5,382.8 621.8,383.4C620.1,384.0 618.0,383.4 616.1,383.4C614.2,383.4 612.3,383.4 610.4,383.4C608.5,383.4 606.6,383.4 604.7,383.4C602.8,383.4 600.9,383.4 599.0,383.4C597.1,383.4 594.5,383.9 593.3,383.4C592.0,382.9 592.4,381.9 591.5,380.6C590.6,379.2 589.3,377.0 587.9,375.2C586.6,373.4 584.8,371.9 583.5,369.9C582.2,367.8 580.7,365.1 579.9,362.7C579.2,360.4 579.0,357.8 579.0,355.6C579.0,353.4 579.6,351.3 579.9,349.4C580.2,347.5 580.2,345.7 580.8,344.0C581.4,342.4 582.3,340.9 583.5,339.6C584.7,338.3 586.3,337.1 587.9,336.0C589.6,335.0 591.4,334.1 593.3,333.4C595.2,332.6 597.6,332.2 599.5,331.6C601.5,331.0 602.8,330.1 604.9,329.8C606.9,329.5 609.9,329.8 612.0,329.8C614.1,329.8 615.6,330.5 617.3,329.8C619.1,329.1 620.6,326.2 622.7,325.3Z" fill="#dcffc8"/>
<path d="M593.3,352.1C594.5,350.4 599.2,349.8 601.3,349.4C603.4,349.0 604.5,349.7 606.1,349.8C607.6,349.9 609.2,350.1 610.8,350.2C612.4,350.4 613.6,350.7 615.6,350.6C617.5,350.6 620.9,349.6 622.7,349.9C624.5,350.2 624.5,351.4 626.2,352.4C628.0,353.4 631.3,354.7 633.4,356.0C635.4,357.3 638.0,358.5 638.4,360.3C638.7,362.0 636.4,364.6 635.7,366.3C634.9,368.1 634.8,369.3 633.9,370.8C633.0,372.2 631.7,373.5 630.3,374.9C629.0,376.3 627.2,378.1 625.9,379.1C624.6,380.2 624.4,381.2 622.7,381.1C621.0,381.0 617.9,379.5 615.6,378.8C613.2,378.1 610.2,377.9 608.4,377.0C606.7,376.1 606.1,374.9 604.9,373.4C603.7,371.9 602.5,369.6 601.3,368.1C600.1,366.6 598.9,366.0 597.7,364.5C596.6,363.0 594.9,361.3 594.2,359.2C593.4,357.1 592.1,353.7 593.3,352.1Z" fill="#ffe6be"/>
<path d="M812.7,93.7C812.7,92.6 813.8,91.8 814.7,91.3C815.6,90.8 817.2,90.4 818.3,90.5C819.3,90.6 820.6,91.1 821.0,91.9C821.4,92.7 821.1,94.5 820.6,95.5C820.1,96.5 819.3,97.5 818.3,97.9C817.3,98.3 815.6,98.6 814.7,97.9C813.8,97.2 812.7,94.8 812.7,93.7Z" fill="#dcffc8"/>
<path d="M796.2,103.9C796.5,102.6 797.6,101.4 798.6,100.9C799.6,100.5 801.1,100.5 802.2,101.2C803.3,101.9 804.3,103.8 805.1,105.1C805.9,106.4 806.8,107.8 806.9,109.2C807.0,110.6 806.5,112.5 805.7,113.4C804.9,114.3 803.3,114.8 802.2,114.6C801.1,114.4 800.1,113.2 799.2,112.2C798.3,111.2 797.3,110.0 796.8,108.6C796.3,107.2 795.9,105.2 796.2,103.9Z" fill="#dcffc8"/>
<path d="M795.0,115.8C795.6,115.0 797.5,115.2 798.6,115.5C799.7,115.8 801.2,116.8 801.6,117.6C802.0,118.4 801.7,119.9 801.0,120.6C800.3,121.2 798.4,121.5 797.4,121.5C796.4,121.5 795.4,121.5 795.0,120.6C794.6,119.6 794.4,116.6 795.0,115.8Z" fill="#dcffc8"/>
<ellipse cx="843.3" cy="108.4" rx="1.8" ry="1.8" fill="#dcffc8" transform="rotate(0 843.3 108.4)"/>
<ellipse cx="789.2" cy="163.3" rx="2.2" ry="2.2" fill="#dcffc8" transform="rotate(0 789.2 163.3)"/>
<ellipse cx="818.5" cy="155.5" rx="1.3" ry="1.3" fill="#dcffc8" transform="rotate(0 818.5 155.5)"/>
<ellipse cx="837.5" cy="224.0" rx="2.6" ry="2.6" fill="#dcffc8" transform="rotate(0 837.5 224.0)"/>
<path d="M655.4,236.8C655.9,234.8 656.9,232.5 658.4,230.8C659.8,229.1 662.1,227.7 664.3,226.6C666.5,225.5 669.2,225.3 671.5,224.2C673.8,223.2 675.8,221.4 678.0,220.3C680.2,219.2 682.5,218.4 684.6,217.4C686.7,216.5 688.4,215.6 690.6,214.7C692.7,213.7 695.1,212.7 697.7,211.7C700.3,210.7 703.3,209.6 706.1,208.7C708.9,207.8 711.8,206.6 714.4,206.3C717.0,206.0 719.4,206.5 721.6,206.9C723.8,207.3 725.6,208.8 727.5,208.7C729.5,208.7 731.3,207.0 733.5,206.7C735.7,206.4 738.3,206.3 740.7,206.7C743.0,207.1 745.6,208.0 747.8,209.1C750.0,210.1 751.8,211.3 753.8,212.9C755.8,214.5 758.1,216.9 759.7,218.9C761.4,220.8 762.6,223.0 763.9,224.8C765.2,226.6 766.4,228.0 767.5,229.6C768.6,231.2 770.2,232.6 770.5,234.4C770.8,236.2 769.9,238.1 769.3,240.3C768.7,242.5 767.9,245.3 766.9,247.5C765.9,249.7 764.9,252.0 763.3,253.5C761.7,254.9 759.5,255.8 757.4,256.1C755.2,256.4 752.4,255.9 750.2,255.2C748.0,254.6 745.8,252.1 744.2,252.0C742.6,251.9 742.1,253.8 740.7,254.6C739.3,255.5 737.5,256.7 735.9,257.0C734.3,257.3 732.7,256.8 731.1,256.4C729.5,256.0 727.7,255.3 726.3,254.6C725.0,253.9 723.8,251.9 722.8,252.3C721.8,252.7 720.7,255.4 720.4,257.0C720.1,258.6 721.4,260.2 721.0,261.8C720.6,263.4 719.5,265.5 718.0,266.6C716.5,267.7 713.8,268.4 712.0,268.4C710.2,268.4 708.6,266.1 707.3,266.6C706.0,267.1 705.5,270.4 704.3,271.3C703.1,272.3 701.6,272.5 700.1,272.5C698.6,272.5 696.7,271.1 695.3,271.3C693.9,271.5 693.3,273.2 691.8,273.7C690.2,274.2 687.6,274.5 685.8,274.3C684.0,274.1 682.4,272.6 681.0,272.5C679.6,272.4 679.0,273.9 677.4,273.7C675.8,273.5 673.3,272.3 671.5,271.3C669.7,270.4 668.1,269.4 666.7,267.8C665.3,266.2 664.5,263.8 663.1,261.8C661.7,259.8 659.6,258.0 658.4,255.8C657.1,253.7 655.9,250.9 655.4,248.7C654.9,246.5 655.4,244.7 655.4,242.7C655.4,240.7 654.9,238.7 655.4,236.8Z" fill="#96ff96"/>
<path d="M769.9,234.4C770.5,233.4 772.5,233.3 774.1,233.2C775.7,233.1 778.5,232.2 779.4,233.8C780.3,235.4 780.3,241.3 779.4,242.7C778.5,244.1 775.6,242.7 774.1,242.1C772.6,241.5 771.2,240.4 770.5,239.1C769.8,237.8 769.3,235.4 769.9,234.4Z" fill="#96ff96"/>
<ellipse cx="697.7" cy="250.1" rx="2.4" ry="3.6" fill="#dcffc8" transform="rotate(0 697.7 250.1)"/>
<path d="M746.7,182.4C746.8,181.4 748.2,180.1 749.3,179.4C750.4,178.7 751.9,178.2 753.3,178.3C754.6,178.4 756.2,179.0 757.4,179.8C758.6,180.6 759.3,182.0 760.4,183.1C761.5,184.2 762.9,185.4 763.7,186.5C764.5,187.6 765.1,188.7 765.2,189.8C765.3,190.9 765.1,192.3 764.4,193.1C763.7,193.9 762.3,194.5 761.1,194.6C759.9,194.7 757.9,194.6 757.0,193.9C756.1,193.2 756.1,191.4 755.6,190.2C755.1,189.0 754.5,187.7 753.7,186.9C753.0,186.1 752.0,185.7 751.1,185.4C750.2,185.2 749.2,185.9 748.5,185.4C747.8,184.9 746.6,183.4 746.7,182.4Z" fill="#96ff96"/>
<path d="M744.4,192.0C744.4,191.3 745.2,190.6 745.9,190.2C746.6,189.8 747.8,189.6 748.5,189.8C749.2,190.0 750.1,190.6 750.4,191.3C750.6,192.1 750.4,193.6 750.0,194.3C749.6,195.0 748.5,195.6 747.8,195.7C747.1,195.8 746.2,195.2 745.6,194.6C745.0,194.0 744.4,192.7 744.4,192.0Z" fill="#96ff96"/>
<path d="M748.1,181.7C748.2,181.0 749.5,180.2 750.4,179.8C751.3,179.4 752.3,179.2 753.3,179.4C754.3,179.6 755.4,180.2 756.3,180.9C757.2,181.6 757.6,182.6 758.5,183.5C759.4,184.4 760.6,185.5 761.5,186.5C762.4,187.5 763.5,188.5 763.7,189.4C764.0,190.3 763.5,191.4 763.0,192.0C762.5,192.6 761.1,193.2 760.4,193.1C759.6,193.0 759.1,192.2 758.5,191.3C757.9,190.5 757.6,189.0 757.0,188.0C756.4,187.0 755.5,186.1 754.8,185.4C754.1,184.7 753.4,184.2 752.6,183.9C751.8,183.7 750.8,184.3 750.0,183.9C749.2,183.5 748.0,182.4 748.1,181.7Z" fill="#64ffff"/>
<ellipse cx="753.7" cy="182.0" rx="1.2" ry="1.2" fill="#00c8ff" transform="rotate(0 753.7 182.0)"/>
<ellipse cx="757.4" cy="185.1" rx="1.2" ry="1.2" fill="#00c8ff" transform="rotate(0 757.4 185.1)"/>
<path d="M770.4,237.1C770.8,236.3 772.6,235.0 774.0,234.7C775.4,234.4 777.4,234.7 778.8,235.1C780.2,235.5 781.6,236.4 782.3,237.1C783.0,237.8 783.6,238.8 783.2,239.5C782.8,240.2 781.3,241.2 780.0,241.5C778.7,241.8 776.6,241.6 775.2,241.3C773.8,241.0 772.4,240.2 771.6,239.5C770.8,238.8 770.0,237.9 770.4,237.1Z" fill="#96ff96"/>
<path d="M798.5,238.9C798.8,238.2 800.2,237.2 801.4,236.8C802.6,236.5 804.4,236.5 805.6,236.8C806.8,237.2 808.4,238.1 808.6,238.9C808.8,239.7 807.8,240.9 806.8,241.5C805.8,242.1 803.8,242.3 802.6,242.2C801.4,242.1 800.3,241.6 799.6,241.1C798.9,240.6 798.2,239.6 798.5,238.9Z" fill="#96ff96"/>
<path d="M800.2,239.1C800.3,238.5 801.7,237.9 802.6,237.7C803.5,237.5 804.9,237.7 805.6,238.0C806.3,238.3 807.1,239.0 807.0,239.5C806.9,240.0 805.8,240.8 805.0,241.1C804.2,241.4 802.8,241.4 802.0,241.1C801.2,240.8 800.1,239.7 800.2,239.1Z" fill="#64ffff"/>
<ellipse cx="837.8" cy="224.0" rx="2.2" ry="2.2" fill="#96ff96" transform="rotate(0 837.8 224.0)"/>
<ellipse cx="808.0" cy="226.7" rx="1.2" ry="1.2" fill="#96ff96" transform="rotate(0 808.0 226.7)"/>
<path d="M583.1,349.9C583.6,349.2 585.6,349.0 586.7,349.4C587.8,349.8 589.1,350.9 589.7,352.1C590.4,353.3 590.9,355.0 590.6,356.5C590.3,358.0 588.8,360.7 587.9,361.0C587.0,361.3 586.0,359.5 585.3,358.3C584.6,357.1 583.9,355.2 583.5,353.8C583.1,352.4 582.6,350.6 583.1,349.9Z" fill="#96ff96"/>
<path d="M588.8,377.0C588.5,374.8 590.1,372.4 591.5,370.8C592.9,369.2 594.8,367.6 596.9,367.2C599.0,366.8 601.9,367.4 604.0,368.1C606.1,368.8 607.7,370.3 609.3,371.6C610.9,372.9 612.2,374.8 613.8,376.1C615.4,377.5 617.8,378.4 619.1,379.7C620.4,381.0 622.3,383.3 621.8,384.0C621.3,384.7 618.0,384.0 616.1,384.0C614.2,384.0 612.3,384.0 610.4,384.0C608.5,384.0 606.6,384.0 604.7,384.0C602.8,384.0 600.9,384.0 599.0,384.0C597.1,384.0 595.0,385.2 593.3,384.0C591.6,382.8 589.1,379.2 588.8,377.0Z" fill="#96ff96"/>
<path d="M654.8,240.3C655.1,238.7 655.4,237.6 656.6,236.8C657.8,235.9 660.0,235.5 661.9,235.0C663.8,234.5 666.0,233.8 667.9,233.8C669.8,233.8 671.9,234.4 673.3,235.0C674.7,235.6 675.4,236.5 676.2,237.3C677.0,238.2 677.9,239.3 678.0,240.3C678.1,241.3 677.7,242.6 676.8,243.3C675.9,244.0 674.2,244.1 672.7,244.5C671.2,244.9 669.5,245.2 667.9,245.7C666.3,246.2 664.1,246.6 663.1,247.5C662.1,248.4 662.2,250.0 661.9,251.1C661.6,252.2 661.9,253.4 661.3,254.0C660.7,254.7 659.3,255.3 658.4,255.2C657.4,255.1 656.0,254.9 655.4,253.5C654.8,252.0 654.9,248.5 654.8,246.3C654.7,244.1 654.5,241.9 654.8,240.3Z" fill="#64ffff"/>
<path d="M663.1,261.9C663.1,259.8 663.3,255.8 664.3,253.6C665.3,251.4 666.9,249.6 669.1,248.8C671.3,248.0 675.2,248.2 677.4,248.8C679.7,249.4 681.8,250.6 682.8,252.4C683.8,254.2 683.1,257.3 683.4,259.5C683.7,261.7 684.6,263.5 684.6,265.5C684.6,267.5 684.2,270.3 683.4,271.5C682.6,272.7 681.0,273.1 679.8,272.7C678.6,272.3 677.4,269.8 676.2,269.1C675.1,268.4 674.1,268.7 672.7,268.5C671.3,268.3 669.3,268.3 667.9,267.9C666.5,267.5 665.1,267.1 664.3,266.1C663.5,265.1 663.1,264.0 663.1,261.9Z" fill="#64ffff"/>
<path d="M676.8,228.4C677.1,227.0 678.0,224.4 679.2,223.0C680.4,221.7 682.3,221.0 684.0,220.3C685.7,219.6 688.1,219.6 689.4,218.9C690.7,218.1 690.6,216.8 691.8,215.9C692.9,214.9 694.5,213.6 696.5,213.1C698.5,212.6 701.7,213.2 703.7,212.9C705.7,212.6 706.7,211.8 708.5,211.1C710.2,210.4 712.4,209.2 714.4,208.7C716.4,208.3 718.4,208.1 720.4,208.4C722.4,208.6 725.1,209.5 726.3,210.3C727.6,211.0 727.9,211.9 728.1,212.9C728.3,213.9 727.4,215.2 727.5,216.2C727.6,217.2 727.9,218.1 728.7,218.9C729.5,219.6 730.9,220.2 732.3,220.6C733.7,221.1 735.7,221.3 737.1,221.8C738.5,222.3 740.9,222.9 740.7,223.6C740.5,224.4 737.5,225.6 735.9,226.3C734.3,226.9 732.7,227.1 731.1,227.4C729.5,227.8 727.9,228.1 726.3,228.4C724.8,228.7 723.2,229.1 721.6,229.4C720.0,229.7 718.4,230.0 716.8,230.2C715.2,230.4 713.1,230.0 712.0,230.8C710.9,231.6 710.9,233.7 710.2,235.0C709.5,236.3 708.8,237.5 707.9,238.5C707.0,239.5 706.2,240.5 704.9,240.9C703.6,241.3 701.6,241.3 700.1,240.9C698.6,240.5 697.1,239.4 695.9,238.5C694.7,237.6 694.2,236.2 692.9,235.6C691.7,235.0 689.7,234.9 688.2,235.0C686.7,235.1 685.4,236.3 684.0,236.2C682.6,236.1 680.9,235.2 679.8,234.4C678.7,233.6 677.9,232.4 677.4,231.4C676.9,230.4 676.5,229.8 676.8,228.4Z" fill="#64ffff"/>
<path d="M733.5,210.5C734.1,209.5 735.6,208.0 737.1,207.5C738.6,207.0 740.8,207.2 742.5,207.5C744.1,207.8 745.6,208.4 747.2,209.3C748.8,210.2 750.4,211.7 752.0,212.9C753.6,214.1 755.4,215.2 756.8,216.5C758.2,217.8 759.3,219.3 760.3,220.6C761.4,222.0 762.4,223.3 763.3,224.8C764.2,226.3 765.4,227.8 765.7,229.6C766.0,231.4 765.0,233.8 765.1,235.6C765.3,237.3 766.6,238.5 766.7,240.3C766.7,242.1 766.1,244.3 765.5,246.3C764.8,248.3 764.1,251.1 762.7,252.5C761.4,253.9 759.3,254.6 757.4,254.9C755.5,255.2 753.1,254.9 751.4,254.3C749.6,253.7 748.3,252.3 746.9,251.3C745.5,250.3 744.2,249.0 743.0,248.1C741.9,247.2 740.5,246.7 739.7,245.7C738.9,244.7 738.1,243.3 738.3,242.1C738.4,240.9 739.6,239.5 740.7,238.5C741.8,237.6 743.7,237.4 744.8,236.5C745.9,235.6 746.4,234.3 747.2,233.2C748.0,232.0 748.7,230.7 749.6,229.6C750.5,228.4 752.7,227.2 752.6,226.3C752.5,225.3 750.2,224.4 749.0,223.6C747.8,222.9 746.6,222.3 745.4,221.8C744.2,221.3 743.0,221.1 741.9,220.6C740.7,220.2 739.4,219.7 738.3,218.9C737.2,218.1 736.1,216.8 735.3,215.9C734.5,215.0 733.8,214.4 733.5,213.5C733.2,212.6 732.9,211.5 733.5,210.5Z" fill="#64ffff"/>
<path d="M704.3,254.2C704.5,252.8 705.3,250.1 706.7,248.8C708.1,247.5 710.5,246.6 712.6,246.7C714.7,246.8 717.9,247.8 719.2,249.4C720.5,250.9 720.4,254.3 720.4,256.0C720.3,257.6 719.1,258.2 719.0,259.5C718.9,260.8 720.1,262.2 719.8,263.7C719.4,265.2 718.5,267.5 716.8,268.5C715.1,269.5 711.8,270.0 709.6,269.7C707.5,269.4 704.9,268.3 703.9,266.7C702.9,265.1 703.5,261.7 703.7,260.1C703.9,258.5 705.0,258.1 705.1,257.2C705.2,256.2 704.0,255.6 704.3,254.2Z" fill="#64ffff"/>
<ellipse cx="727.8" cy="250.1" rx="5.0" ry="5.0" fill="#64ffff" transform="rotate(0 727.8 250.1)"/>
<ellipse cx="738.9" cy="248.8" rx="2.1" ry="2.1" fill="#64ffff" transform="rotate(0 738.9 248.8)"/>
<ellipse cx="674.5" cy="271.5" rx="2.9" ry="2.9" fill="#64ffff" transform="rotate(0 674.5 271.5)"/>
<ellipse cx="658.4" cy="250.6" rx="3.6" ry="3.6" fill="#64ffff" transform="rotate(0 658.4 250.6)"/>
<path d="M751.3,224.6C751.9,223.6 754.0,222.4 755.5,222.2C757.0,222.0 758.9,222.8 760.3,223.4C761.7,224.0 763.0,224.6 763.9,225.8C764.8,227.0 765.6,229.2 765.6,230.6C765.6,232.0 764.8,233.0 763.9,234.1C763.0,235.2 761.5,236.8 760.3,237.1C759.1,237.4 757.7,236.8 756.7,235.9C755.7,235.0 755.1,233.1 754.3,231.8C753.5,230.5 752.4,229.4 751.9,228.2C751.4,227.0 750.7,225.6 751.3,224.6Z" fill="#64ffff"/>
<path d="M756.1,229.4C756.3,228.4 758.1,227.1 759.1,227.0C760.1,226.9 761.7,227.9 762.1,228.8C762.5,229.7 762.2,231.6 761.5,232.3C760.8,233.0 758.8,233.4 757.9,232.9C757.0,232.4 755.9,230.4 756.1,229.4Z" fill="#00c8ff"/>
<path d="M624.8,347.6C625.1,346.8 626.6,345.5 628.0,345.3C629.4,345.1 631.9,345.7 633.4,346.4C634.9,347.1 635.8,348.3 636.9,349.4C638.0,350.5 639.8,351.9 640.1,352.9C640.4,353.9 639.5,355.5 638.7,355.6C637.9,355.8 636.4,354.5 635.1,353.8C633.8,353.1 632.2,351.8 630.7,351.2C629.2,350.6 627.2,350.9 626.2,350.3C625.2,349.7 624.5,348.4 624.8,347.6Z" fill="#64ffff"/>
<path d="M627.1,347.6C627.7,347.2 631.5,346.9 632.5,347.1C633.5,347.3 634.0,348.5 633.4,348.9C632.8,349.3 629.9,349.6 628.9,349.4C627.9,349.2 626.5,348.0 627.1,347.6Z" fill="#0064ff"/>
<path d="M591.5,380.6C591.6,378.8 593.2,375.0 594.2,373.4C595.2,371.8 596.2,371.1 597.7,370.8C599.2,370.5 601.5,370.9 603.1,371.6C604.7,372.3 606.6,373.7 607.5,375.2C608.4,376.7 607.6,380.0 608.4,380.6C609.1,381.2 610.7,378.7 612.0,378.8C613.3,378.9 614.9,380.5 616.4,381.4C617.9,382.3 621.1,383.6 620.9,384.0C620.7,384.4 617.2,384.0 615.4,384.0C613.5,384.0 611.7,384.0 609.9,384.0C608.0,384.0 606.2,384.0 604.3,384.0C602.5,384.0 600.7,384.0 598.8,384.0C597.0,384.0 594.5,384.6 593.3,384.0C592.1,383.4 591.4,382.4 591.5,380.6Z" fill="#64ffff"/>
<ellipse cx="585.6" cy="372.5" rx="1.6" ry="1.6" fill="#0064ff" transform="rotate(0 585.6 372.5)"/>
<path d="M655.8,240.7C656.1,239.2 656.3,238.3 657.4,237.4C658.5,236.6 660.5,236.3 662.2,235.8C663.9,235.4 665.9,234.8 667.6,234.8C669.3,234.8 671.2,235.3 672.4,235.8C673.7,236.4 674.4,237.2 675.1,238.0C675.8,238.8 676.6,239.8 676.7,240.7C676.8,241.6 676.5,242.7 675.7,243.4C674.9,244.0 673.2,244.1 671.9,244.4C670.6,244.8 669.0,245.1 667.6,245.5C666.2,245.9 664.2,246.3 663.3,247.1C662.4,247.9 662.5,249.3 662.2,250.3C662.0,251.3 662.2,252.4 661.7,253.0C661.2,253.6 659.9,254.2 659.0,254.1C658.1,254.0 656.9,253.8 656.3,252.5C655.8,251.1 655.9,248.0 655.8,246.0C655.7,244.1 655.5,242.1 655.8,240.7Z" fill="#00c8ff"/>
<path d="M664.3,261.9C664.3,260.1 664.4,256.4 665.3,254.4C666.2,252.4 667.7,250.8 669.6,250.1C671.6,249.4 675.1,249.6 677.1,250.1C679.2,250.7 681.1,251.7 682.0,253.3C682.9,255.0 682.2,257.8 682.5,259.8C682.8,261.8 683.6,263.4 683.6,265.2C683.6,266.9 683.2,269.4 682.5,270.5C681.8,271.6 680.4,272.0 679.3,271.6C678.2,271.2 677.1,269.0 676.1,268.4C675.0,267.7 674.1,268.0 672.9,267.8C671.6,267.7 669.8,267.7 668.6,267.3C667.3,266.9 666.1,266.6 665.3,265.7C664.6,264.8 664.3,263.8 664.3,261.9Z" fill="#00c8ff"/>
<path d="M704.9,254.5C705.1,253.2 705.8,250.7 707.1,249.6C708.4,248.4 710.6,247.5 712.6,247.6C714.5,247.7 717.4,248.7 718.6,250.1C719.8,251.5 719.7,254.6 719.7,256.2C719.7,257.7 718.5,258.3 718.4,259.4C718.3,260.6 719.5,261.9 719.1,263.3C718.8,264.7 718.0,266.8 716.4,267.7C714.8,268.6 711.8,269.0 709.8,268.8C707.8,268.5 705.5,267.5 704.5,266.0C703.6,264.6 704.1,261.5 704.3,260.0C704.5,258.5 705.6,258.2 705.6,257.2C705.7,256.3 704.6,255.8 704.9,254.5Z" fill="#00c8ff"/>
<path d="M678.0,228.2C678.3,226.9 679.0,224.6 680.1,223.4C681.2,222.2 682.9,221.6 684.6,221.0C686.2,220.4 688.6,220.3 690.0,219.6C691.3,218.8 691.5,217.4 692.7,216.5C693.9,215.6 695.3,214.5 697.1,214.1C698.9,213.6 701.7,214.2 703.7,213.8C705.7,213.5 707.2,212.8 709.0,212.1C710.9,211.3 713.1,210.0 715.0,209.6C716.9,209.1 718.7,209.1 720.4,209.3C722.1,209.6 724.3,210.4 725.4,211.1C726.5,211.8 726.8,212.6 726.9,213.5C727.1,214.4 726.1,215.5 726.1,216.5C726.1,217.5 726.9,218.3 726.9,219.5C727.0,220.6 727.2,222.3 726.3,223.6C725.5,224.9 723.2,226.3 721.6,227.2C720.0,228.1 718.4,228.6 716.8,229.0C715.2,229.4 713.2,228.8 712.0,229.8C710.8,230.8 710.4,233.6 709.6,235.0C708.9,236.3 708.2,237.1 707.3,237.9C706.4,238.8 705.5,239.7 704.3,240.1C703.1,240.5 701.4,240.5 700.1,240.1C698.8,239.7 697.6,238.8 696.5,237.9C695.4,237.1 694.9,235.6 693.5,235.0C692.1,234.3 689.8,234.1 688.2,234.1C686.6,234.2 685.3,235.3 684.0,235.2C682.7,235.1 681.4,234.1 680.4,233.4C679.5,232.7 678.8,231.7 678.4,230.8C678.0,229.9 677.8,229.4 678.0,228.2Z" fill="#00c8ff"/>
<path d="M734.1,210.7C734.4,209.6 735.9,208.8 737.3,208.4C738.7,208.0 740.9,208.1 742.5,208.4C744.0,208.7 745.5,209.3 746.9,210.2C748.3,211.0 749.8,212.2 750.8,213.5C751.8,214.7 752.7,216.5 752.6,217.7C752.5,218.8 751.4,219.7 750.2,220.3C749.0,220.8 746.9,221.1 745.4,221.0C743.9,220.9 742.5,220.4 741.3,219.8C740.0,219.3 739.0,218.4 738.0,217.7C737.0,216.9 735.9,216.4 735.3,215.3C734.6,214.1 733.8,211.9 734.1,210.7Z" fill="#00c8ff"/>
<path d="M740.7,240.3C741.5,239.1 743.6,238.2 745.4,237.9C747.2,237.6 749.2,238.3 751.4,238.5C753.6,238.7 756.3,238.4 758.6,239.1C760.8,239.8 763.6,241.3 764.8,242.7C766.0,244.1 765.9,245.7 765.7,247.5C765.6,249.2 765.3,251.9 763.9,253.2C762.5,254.5 759.5,255.0 757.4,255.2C755.3,255.5 753.1,255.3 751.4,254.6C749.7,253.9 748.5,252.3 747.2,251.1C745.9,249.9 744.7,248.5 743.6,247.5C742.6,246.5 741.2,246.3 740.7,245.1C740.2,243.9 739.9,241.5 740.7,240.3Z" fill="#00c8ff"/>
<ellipse cx="727.8" cy="250.1" rx="4.4" ry="4.4" fill="#00c8ff" transform="rotate(0 727.8 250.1)"/>
<ellipse cx="674.5" cy="271.5" rx="2.5" ry="2.5" fill="#00c8ff" transform="rotate(0 674.5 271.5)"/>
<ellipse cx="658.4" cy="250.6" rx="3.0" ry="3.0" fill="#00c8ff" transform="rotate(0 658.4 250.6)"/>
<path d="M755.0,222.4C755.9,221.5 758.4,221.2 759.7,221.8C761.1,222.4 762.4,224.5 763.3,226.0C764.2,227.5 765.0,229.3 765.1,230.8C765.2,232.3 764.8,234.2 763.9,235.0C763.0,235.8 761.0,236.1 759.7,235.6C758.5,235.1 757.1,233.4 756.2,232.0C755.3,230.6 754.6,228.8 754.4,227.2C754.2,225.6 754.1,223.3 755.0,222.4Z" fill="#00c8ff"/>
<path d="M655.0,241.5C655.0,240.3 655.9,238.6 657.2,237.7C658.4,236.8 660.6,236.6 662.5,236.2C664.4,235.8 666.8,235.2 668.5,235.3C670.2,235.4 671.9,236.0 672.9,236.8C673.9,237.5 674.5,238.8 674.5,239.7C674.4,240.7 673.8,241.8 672.7,242.5C671.6,243.1 669.7,243.2 667.9,243.7C666.1,244.1 663.7,244.9 661.9,245.1C660.1,245.3 658.3,245.7 657.2,245.1C656.0,244.5 655.0,242.8 655.0,241.5Z" fill="#0064ff"/>
<path d="M664.9,260.7C665.0,258.9 665.2,255.3 666.1,253.6C667.0,251.9 668.5,251.1 670.3,250.6C672.1,250.1 675.0,250.1 676.8,250.6C678.7,251.1 680.6,252.3 681.3,253.6C682.0,254.9 681.6,257.1 681.0,258.3C680.5,259.6 678.9,260.2 678.0,261.3C677.1,262.4 676.6,264.0 675.6,264.9C674.7,265.8 673.4,266.5 672.1,266.7C670.8,266.9 669.0,266.5 667.9,266.1C666.8,265.7 666.0,265.2 665.5,264.3C665.0,263.4 664.8,262.5 664.9,260.7Z" fill="#0064ff"/>
<path d="M678.0,227.8C678.2,226.6 679.2,224.2 680.4,223.0C681.6,221.9 683.5,221.3 685.2,221.0C686.9,220.7 689.2,220.9 690.6,221.5C692.0,222.1 693.1,223.4 693.5,224.6C693.9,225.7 693.7,227.4 692.9,228.4C692.1,229.4 690.4,230.3 688.8,230.8C687.2,231.3 685.0,231.5 683.4,231.4C681.8,231.3 680.1,230.8 679.2,230.2C678.3,229.6 677.8,229.0 678.0,227.8Z" fill="#0064ff"/>
<path d="M691.2,217.7C691.5,216.9 692.8,215.4 694.1,214.7C695.4,214.0 697.1,213.6 698.9,213.5C700.7,213.4 703.1,214.2 704.9,214.1C706.7,214.0 708.0,213.5 709.6,212.9C711.3,212.3 713.2,210.8 715.0,210.3C716.8,209.8 718.7,209.7 720.4,209.9C722.1,210.2 724.2,210.9 725.2,211.7C726.1,212.5 726.5,213.8 726.3,214.7C726.1,215.6 724.3,216.1 724.0,217.1C723.7,218.1 724.8,219.5 724.6,220.6C724.4,221.8 723.9,223.4 722.8,224.2C721.7,225.0 719.6,225.3 718.0,225.4C716.4,225.5 714.6,225.4 713.2,224.8C711.8,224.2 710.8,222.5 709.6,221.8C708.5,221.1 707.5,220.7 706.1,220.6C704.7,220.6 703.0,221.5 701.3,221.5C699.6,221.5 697.4,221.0 695.9,220.6C694.4,220.3 693.1,220.0 692.3,219.5C691.6,219.0 690.9,218.5 691.2,217.7Z" fill="#0064ff"/>
<path d="M692.9,230.8C693.4,229.8 695.1,229.1 696.5,229.0C697.9,228.9 699.7,229.7 701.3,230.2C702.9,230.7 704.6,231.4 706.1,232.0C707.6,232.6 709.6,232.9 710.2,233.8C710.8,234.7 710.3,236.4 709.6,237.3C708.9,238.3 707.5,239.3 706.1,239.7C704.7,240.2 702.8,240.4 701.3,240.1C699.8,239.8 698.4,239.0 697.1,238.2C695.9,237.3 694.6,236.2 693.9,235.0C693.2,233.7 692.5,231.8 692.9,230.8Z" fill="#0064ff"/>
<path d="M734.1,211.1C734.5,210.2 735.8,209.2 737.1,208.7C738.4,208.3 740.3,208.2 741.9,208.4C743.4,208.6 745.3,209.2 746.6,209.9C747.9,210.7 748.8,211.8 749.6,212.9C750.4,214.0 751.4,215.4 751.4,216.5C751.4,217.6 750.6,218.8 749.6,219.5C748.6,220.2 746.8,220.6 745.4,220.6C744.0,220.6 742.6,220.2 741.3,219.5C740.0,218.8 738.7,217.4 737.7,216.5C736.6,215.6 735.5,215.0 734.9,214.1C734.3,213.2 733.7,212.0 734.1,211.1Z" fill="#0064ff"/>
<path d="M739.5,241.6C740.0,240.6 741.5,239.3 743.0,238.7C744.6,238.1 747.2,238.0 749.0,238.1C750.8,238.2 752.0,239.0 753.8,239.3C755.6,239.6 758.0,239.3 759.7,239.9C761.5,240.5 763.5,241.3 764.5,242.8C765.5,244.3 765.8,247.0 765.7,248.8C765.6,250.6 765.3,252.4 763.9,253.6C762.5,254.7 759.5,255.4 757.4,255.7C755.3,256.0 752.9,256.0 751.4,255.4C749.9,254.7 749.2,253.1 748.4,251.8C747.6,250.5 747.5,248.5 746.6,247.6C745.7,246.7 744.1,246.9 743.0,246.4C742.0,245.9 740.7,245.4 740.1,244.6C739.5,243.8 739.0,242.6 739.5,241.6Z" fill="#0064ff"/>
<path d="M706.1,254.8C706.2,253.5 706.8,251.1 707.9,250.0C708.9,248.9 711.0,248.1 712.6,248.2C714.2,248.3 716.5,249.3 717.4,250.6C718.3,251.9 718.1,254.6 718.0,256.0C717.9,257.3 716.8,257.7 716.8,258.9C716.8,260.1 718.1,261.8 717.8,263.1C717.5,264.4 716.4,265.9 715.0,266.7C713.7,267.4 711.2,267.9 709.6,267.6C708.1,267.4 706.1,266.2 705.5,264.9C704.8,263.7 705.6,261.4 705.8,260.1C706.1,258.9 707.0,258.3 707.0,257.4C707.1,256.5 705.9,256.0 706.1,254.8Z" fill="#0064ff"/>
<ellipse cx="727.8" cy="250.1" rx="3.9" ry="3.9" fill="#0064ff" transform="rotate(0 727.8 250.1)"/>
<ellipse cx="674.5" cy="271.5" rx="2.1" ry="2.1" fill="#0064ff" transform="rotate(0 674.5 271.5)"/>
<ellipse cx="658.4" cy="250.6" rx="2.5" ry="2.5" fill="#0064ff" transform="rotate(0 658.4 250.6)"/>
<path d="M595.6,380.6C595.6,379.0 595.6,375.7 596.3,374.3C596.9,372.9 598.2,372.2 599.5,372.2C600.8,372.2 602.8,373.4 604.0,374.3C605.2,375.2 606.1,376.3 606.6,377.9C607.1,379.5 607.9,383.0 607.0,384.0C606.1,385.0 603.3,384.0 601.5,384.0C599.7,384.0 597.0,384.6 596.0,384.0C595.0,383.4 595.6,382.2 595.6,380.6Z" fill="#0064ff"/>
<ellipse cx="613.8" cy="382.3" rx="2.8" ry="2.8" fill="#0064ff" transform="rotate(0 613.8 382.3)"/>
<path d="M656.0,241.4C656.0,240.3 656.8,238.8 657.9,238.0C659.1,237.2 661.1,236.9 662.8,236.6C664.5,236.2 666.6,235.7 668.1,235.8C669.7,235.9 671.2,236.5 672.1,237.1C673.0,237.8 673.5,238.9 673.5,239.8C673.5,240.7 672.9,241.7 671.9,242.3C670.9,242.9 669.2,242.9 667.6,243.3C666.0,243.7 663.8,244.4 662.2,244.6C660.6,244.8 659.0,245.2 657.9,244.6C656.9,244.1 656.0,242.5 656.0,241.4Z" fill="#9664ff"/>
<path d="M665.7,260.6C665.8,259.0 666.0,255.7 666.8,254.1C667.6,252.6 668.9,251.9 670.5,251.4C672.1,251.0 674.8,251.0 676.4,251.4C678.1,251.9 679.8,253.0 680.4,254.1C681.0,255.3 680.7,257.3 680.2,258.4C679.7,259.6 678.3,260.1 677.5,261.1C676.7,262.1 676.2,263.5 675.4,264.3C674.5,265.1 673.3,265.8 672.1,265.9C671.0,266.1 669.4,265.8 668.4,265.4C667.4,265.0 666.7,264.6 666.2,263.8C665.8,263.0 665.6,262.2 665.7,260.6Z" fill="#9664ff"/>
<path d="M679.0,227.7C679.1,226.6 680.0,224.4 681.1,223.5C682.1,222.5 683.8,221.9 685.3,221.7C686.7,221.4 688.8,221.6 690.0,222.1C691.2,222.6 692.3,223.8 692.6,224.8C693.0,225.8 692.8,227.3 692.1,228.2C691.4,229.1 689.8,229.8 688.4,230.3C687.0,230.7 685.1,230.9 683.7,230.8C682.3,230.7 680.8,230.3 680.0,229.8C679.2,229.2 678.8,228.7 679.0,227.7Z" fill="#9664ff"/>
<path d="M706.6,255.1C706.7,254.0 707.2,251.8 708.2,250.8C709.2,249.8 711.1,249.1 712.5,249.2C714.0,249.3 716.0,250.2 716.8,251.4C717.6,252.5 717.4,254.9 717.4,256.2C717.3,257.4 716.3,257.8 716.3,258.9C716.2,259.9 717.4,261.5 717.1,262.6C716.9,263.8 715.9,265.2 714.7,265.8C713.5,266.5 711.3,267.0 709.8,266.7C708.4,266.4 706.7,265.4 706.1,264.2C705.5,263.1 706.2,261.1 706.4,259.9C706.6,258.8 707.4,258.3 707.5,257.5C707.5,256.7 706.5,256.2 706.6,255.1Z" fill="#9664ff"/>
<path d="M708.5,218.9C708.6,217.8 710.6,216.1 712.0,215.0C713.4,214.0 715.2,213.2 716.8,212.7C718.4,212.1 720.2,211.8 721.6,211.9C722.9,212.1 724.6,212.8 724.9,213.5C725.3,214.2 724.4,215.4 723.7,216.2C723.1,217.1 721.2,217.7 721.0,218.6C720.7,219.6 722.3,220.9 722.2,221.8C722.0,222.8 721.3,223.9 720.1,224.2C719.0,224.5 716.9,224.1 715.4,223.6C713.9,223.2 712.2,222.3 711.1,221.5C709.9,220.7 708.3,219.9 708.5,218.9Z" fill="#9664ff"/>
<path d="M695.9,232.9C696.3,232.1 698.7,231.7 700.1,231.7C701.5,231.8 703.1,232.5 704.3,233.2C705.5,233.8 707.1,234.8 707.3,235.6C707.5,236.4 706.5,237.4 705.5,237.9C704.5,238.4 702.6,238.7 701.3,238.5C700.0,238.3 698.6,237.7 697.7,236.8C696.8,235.8 695.5,233.8 695.9,232.9Z" fill="#9664ff"/>
<path d="M735.9,211.5C736.0,210.7 737.5,209.6 738.5,209.3C739.5,209.0 741.1,209.2 742.1,209.6C743.0,210.0 743.7,210.8 744.2,211.7C744.8,212.6 745.5,213.9 745.4,214.7C745.3,215.5 744.4,216.4 743.6,216.5C742.8,216.6 741.7,215.7 740.7,215.3C739.7,214.8 738.5,214.5 737.7,213.8C736.9,213.2 735.8,212.2 735.9,211.5Z" fill="#9664ff"/>
<ellipse cx="727.8" cy="250.1" rx="3.3" ry="3.3" fill="#9664ff" transform="rotate(0 727.8 250.1)"/>
<ellipse cx="674.5" cy="271.5" rx="1.8" ry="1.8" fill="#9664ff" transform="rotate(0 674.5 271.5)"/>
<ellipse cx="746.0" cy="242.7" rx="2.4" ry="2.4" fill="#9664ff" transform="rotate(0 746.0 242.7)"/>
<path d="M692.0,217.4C692.0,216.6 693.6,215.3 694.9,214.8C696.3,214.2 698.4,214.0 700.2,214.0C701.9,214.1 704.1,214.4 705.4,215.1C706.6,215.7 707.7,216.9 707.6,217.7C707.5,218.6 706.0,219.5 704.6,220.0C703.3,220.4 701.0,220.5 699.4,220.4C697.8,220.4 696.2,220.2 694.9,219.7C693.7,219.2 692.0,218.3 692.0,217.4Z" fill="#9664ff"/>
<path d="M749.0,245.4C749.4,243.7 750.4,242.7 751.8,241.9C753.2,241.1 755.6,240.4 757.4,240.5C759.3,240.6 761.8,241.4 763.1,242.6C764.4,243.8 765.1,245.9 765.2,247.5C765.3,249.2 764.8,251.3 763.8,252.5C762.7,253.6 760.6,254.1 758.9,254.6C757.1,255.0 754.7,255.6 753.2,255.3C751.7,254.9 750.4,254.1 749.7,252.5C749.0,250.8 748.6,247.2 749.0,245.4Z" fill="#9664ff"/>
<path d="M655.7,240.9C656.0,239.9 656.9,238.7 658.4,237.9C659.8,237.2 662.3,236.7 664.3,236.5C666.3,236.3 668.9,236.3 670.3,236.8C671.7,237.2 672.6,238.3 672.7,239.1C672.8,239.9 672.1,240.9 670.9,241.5C669.7,242.1 667.2,242.3 665.5,242.7C663.8,243.1 662.2,243.7 660.7,243.9C659.2,244.1 657.4,244.4 656.6,243.9C655.7,243.4 655.4,241.9 655.7,240.9Z" fill="#dc64ff"/>
<path d="M666.7,259.5C666.7,258.0 667.1,255.4 667.9,254.2C668.7,252.9 670.1,252.4 671.5,252.1C672.9,251.9 674.9,252.2 676.2,252.6C677.6,253.1 679.2,253.9 679.6,254.8C680.0,255.6 679.3,257.0 678.6,257.7C678.0,258.5 676.5,258.7 675.6,259.5C674.8,260.3 674.2,261.6 673.3,262.5C672.4,263.4 671.2,264.8 670.3,264.9C669.3,265.0 668.3,264.0 667.7,263.1C667.1,262.2 666.7,261.0 666.7,259.5Z" fill="#dc64ff"/>
<path d="M679.6,227.2C679.7,226.4 680.3,224.7 681.3,223.9C682.2,223.1 683.7,222.6 685.2,222.4C686.6,222.3 688.8,222.5 690.0,223.0C691.1,223.5 691.8,224.6 692.0,225.4C692.2,226.3 691.9,227.5 691.2,228.2C690.4,228.9 688.9,229.3 687.6,229.6C686.3,229.9 684.6,229.9 683.4,229.8C682.2,229.7 681.1,229.4 680.4,229.0C679.8,228.6 679.4,228.1 679.6,227.2Z" fill="#dc64ff"/>
<path d="M693.5,217.4C693.5,216.8 694.8,215.7 695.9,215.3C697.0,214.8 698.7,214.6 700.1,214.7C701.5,214.7 703.3,215.0 704.3,215.5C705.3,216.0 706.2,217.0 706.1,217.7C706.0,218.3 704.8,219.1 703.7,219.5C702.6,219.8 700.8,219.9 699.5,219.8C698.2,219.8 696.9,219.6 695.9,219.2C694.9,218.8 693.5,218.1 693.5,217.4Z" fill="#dc64ff"/>
<path d="M715.0,214.7C715.2,214.0 717.3,213.0 718.6,212.7C719.9,212.3 721.9,212.4 722.8,212.7C723.7,212.9 724.2,213.8 724.0,214.3C723.8,214.9 722.7,215.5 721.6,215.9C720.5,216.2 718.5,216.7 717.4,216.5C716.3,216.3 714.8,215.3 715.0,214.7Z" fill="#dc64ff"/>
<path d="M736.5,211.1C736.6,210.5 738.0,209.8 738.9,209.6C739.8,209.4 741.2,209.6 741.9,209.9C742.6,210.3 743.1,211.2 743.0,211.7C742.9,212.2 742.1,212.9 741.3,213.1C740.5,213.3 739.1,213.2 738.3,212.9C737.5,212.6 736.4,211.7 736.5,211.1Z" fill="#dc64ff"/>
<path d="M750.2,245.8C750.5,244.3 751.4,243.5 752.6,242.8C753.8,242.1 755.8,241.5 757.4,241.6C759.0,241.7 761.0,242.4 762.1,243.4C763.2,244.4 763.8,246.2 763.9,247.6C764.0,249.0 763.6,250.8 762.7,251.8C761.8,252.8 760.0,253.2 758.6,253.6C757.1,254.0 755.1,254.5 753.8,254.2C752.5,253.9 751.4,253.2 750.8,251.8C750.2,250.4 749.9,247.3 750.2,245.8Z" fill="#dc64ff"/>
<path d="M708.5,254.8C708.6,253.8 708.9,252.2 709.6,251.4C710.3,250.7 711.7,250.1 712.6,250.2C713.6,250.4 714.9,251.2 715.4,252.1C715.9,253.1 715.8,254.8 715.6,256.0C715.5,257.1 714.5,257.9 714.4,258.9C714.4,259.9 715.5,260.9 715.4,261.9C715.3,262.9 714.7,264.3 713.8,264.9C713.0,265.5 711.3,265.8 710.2,265.5C709.2,265.2 707.9,264.1 707.5,263.1C707.1,262.1 707.6,260.5 707.9,259.5C708.1,258.5 708.9,257.9 709.0,257.2C709.1,256.4 708.4,255.7 708.5,254.8Z" fill="#dc64ff"/>
<ellipse cx="727.8" cy="250.1" rx="2.7" ry="2.7" fill="#dc64ff" transform="rotate(0 727.8 250.1)"/>
<ellipse cx="674.5" cy="271.5" rx="1.4" ry="1.4" fill="#dc64ff" transform="rotate(0 674.5 271.5)"/>
<ellipse cx="746.4" cy="242.7" rx="1.7" ry="1.7" fill="#dc64ff" transform="rotate(0 746.4 242.7)"/>
<path d="M598.6,381.4C598.6,380.2 598.9,378.0 599.5,377.0C600.1,376.0 601.2,375.1 602.2,375.2C603.2,375.2 604.6,376.3 605.2,377.3C605.8,378.3 606.0,380.3 605.8,381.4C605.6,382.5 605.0,383.6 604.0,384.0C603.0,384.4 600.4,384.4 599.5,384.0C598.6,383.6 598.6,382.6 598.6,381.4Z" fill="#dc64ff"/>
<ellipse cx="613.8" cy="382.5" rx="1.7" ry="1.7" fill="#dc64ff" transform="rotate(0 613.8 382.5)"/>
<path d="M660.1,239.7C660.3,239.1 662.8,238.1 664.3,237.9C665.8,237.7 668.5,238.0 669.1,238.5C669.7,239.0 668.9,240.4 667.9,240.9C666.9,241.5 664.4,242.0 663.1,241.8C661.8,241.6 659.9,240.4 660.1,239.7Z" fill="#ff00ff"/>
<ellipse cx="664.9" cy="239.7" rx="0.7" ry="0.7" fill="#d29b46" transform="rotate(0 664.9 239.7)"/>
<path d="M667.9,257.2C668.0,256.1 668.8,254.3 669.7,253.6C670.6,252.9 672.3,252.8 673.3,253.0C674.3,253.2 675.5,254.1 675.6,254.8C675.7,255.5 674.6,256.4 673.9,257.2C673.2,257.9 672.3,259.0 671.5,259.5C670.7,260.0 669.7,260.5 669.1,260.1C668.5,259.7 667.8,258.2 667.9,257.2Z" fill="#ff00ff"/>
<path d="M681.6,226.6C681.7,226.1 682.6,225.1 683.4,224.8C684.2,224.5 685.7,224.5 686.4,224.8C687.1,225.1 687.7,226.1 687.6,226.6C687.5,227.2 686.6,227.9 685.8,228.2C685.0,228.4 683.5,228.4 682.8,228.2C682.1,227.9 681.5,227.2 681.6,226.6Z" fill="#ff00ff"/>
<ellipse cx="699.5" cy="217.2" rx="2.6" ry="1.3" fill="#ff00ff" transform="rotate(0 699.5 217.2)"/>
<path d="M709.6,254.3C709.9,253.4 711.2,252.0 712.0,251.9C712.8,251.8 714.1,252.8 714.4,253.7C714.8,254.5 714.4,256.1 714.2,257.0C714.0,258.0 713.3,258.5 713.2,259.4C713.2,260.3 714.1,261.6 713.8,262.4C713.5,263.2 712.3,264.2 711.4,264.2C710.6,264.2 709.1,263.2 708.7,262.4C708.3,261.6 708.8,260.3 709.0,259.4C709.3,258.5 710.1,257.9 710.2,257.0C710.3,256.2 709.3,255.1 709.6,254.3Z" fill="#ff00ff"/>
<path d="M755.6,244.6C756.1,244.0 758.3,243.7 759.2,244.0C760.0,244.3 761.0,245.7 760.9,246.4C760.8,247.1 759.4,248.0 758.6,248.2C757.8,248.4 756.7,248.2 756.2,247.6C755.7,247.0 755.1,245.2 755.6,244.6Z" fill="#ff00ff"/>
</g>
<line x1="618.9" y1="31.5" x2="618.9" y2="415" stroke="#000" stroke-opacity="0.31" stroke-width="1"/>
<line x1="682.7" y1="31.5" x2="682.7" y2="415" stroke="#000" stroke-opacity="0.31" stroke-width="1"/>
<line x1="746.4" y1="31.5" x2="746.4" y2="415" stroke="#000" stroke-opacity="0.31" stroke-width="1"/>
<line x1="810.2" y1="31.5" x2="810.2" y2="415" stroke="#000" stroke-opacity="0.31" stroke-width="1"/>
<line x1="874.0" y1="31.5" x2="874.0" y2="415" stroke="#000" stroke-opacity="0.31" stroke-width="1"/>
<line x1="555.1" y1="349.6" x2="938.1" y2="349.6" stroke="#000" stroke-opacity="0.31" stroke-width="1"/>
<line x1="555.1" y1="285.8" x2="938.1" y2="285.8" stroke="#000" stroke-opacity="0.31" stroke-width="1"/>
<line x1="555.1" y1="222.1" x2="938.1" y2="222.1" stroke="#000" stroke-opacity="0.31" stroke-width="1"/>
<line x1="555.1" y1="158.3" x2="938.1" y2="158.3" stroke="#000" stroke-opacity="0.31" stroke-width="1"/>
<line x1="555.1" y1="94.6" x2="938.1" y2="94.6" stroke="#000" stroke-opacity="0.31" stroke-width="1"/>
<path d="M614.9,181.7L617.5,182.2L619.6,183.3L622.3,185.9L625.5,185.4L626.5,183.8L628.7,183.8L631.3,185.4L635.0,185.9L637.2,185.4L638.2,187.5L640.9,187.5L642.5,189.6L640.3,190.7L640.9,192.8L641.9,194.9L640.9,196.5L643.5,197.6L641.9,198.7L639.3,197.8L636.6,197.1L634.5,198.1L632.9,200.3L635.0,201.8L636.6,204.0L637.2,206.1L638.7,207.7L640.9,208.7L642.5,207.4L641.4,209.8L639.8,211.9L640.1,213.7L638.2,214.6L637.2,216.7L636.6,218.8L635.6,221.0L637.2,222.5L637.7,224.7L636.1,226.3L634.5,227.9L632.9,229.4L635.0,230.0L637.2,228.9L638.2,230.5L639.8,229.4L641.4,228.2L643.5,227.3L645.6,226.1L647.8,225.2L649.9,224.1L652.0,223.1L654.1,222.5L656.3,222.0L658.4,222.2L660.5,221.8L662.6,221.2L663.7,222.5L665.3,223.6L666.9,222.5L666.3,220.7L667.9,219.9M583.5,285.5L581.7,287.3L579.0,288.5L577.3,290.9L579.0,292.6L577.8,295.0L575.5,296.7L576.7,298.9L574.6,301.0L572.8,303.3L573.7,305.6L571.4,307.8L569.6,310.4M676.0,247.1L677.7,248.6L679.2,250.3L680.4,252.2L681.6,254.2L682.4,256.3L683.4,258.4L684.0,260.8" fill="none" stroke="#000" stroke-width="2.1" stroke-linejoin="round" stroke-linecap="round"/>
<path d="M686.8,71.1L690.4,68.8L694.8,66.6L701.0,65.7L707.3,65.2L712.6,62.2L717.1,57.7L722.4,55.0L728.7,53.3L734.9,51.5L741.1,50.2L747.0,48.8M696.6,59.5L702.8,59.9L708.2,59.5L713.5,59.1L716.2,58.1M708.2,91.6L710.8,89.8L714.4,89.4L717.4,90.7L718.0,93.3L716.7,96.9L714.4,99.6L711.7,100.1L709.6,98.3L708.2,95.1ZM677.9,140.0L677.9,137.9L679.7,135.2L682.3,132.5L685.9,129.8L689.5,128.1L692.1,127.2L691.3,125.0L693.0,124.0L695.7,124.5L697.5,123.3L700.2,120.9L702.8,119.2L704.6,116.5L707.3,115.8L706.4,118.3L705.5,120.1L708.2,119.2L709.1,116.5L711.7,116.1L712.6,120.1L715.3,121.5L718.9,122.2L721.5,123.6L724.2,122.7L728.7,121.5L733.1,120.1L737.6,118.3L742.0,116.1L747.0,113.8M747.0,48.8L751.5,46.7L756.8,44.4L760.4,41.7L762.7,38.1L764.8,36.0L768.4,34.9L769.8,32.8L767.5,31.9L763.9,32.8L762.1,34.2L762.7,38.1M747.0,113.8L750.6,109.4L754.1,104.9L759.5,100.5L764.8,96.0L770.2,91.6L775.5,86.2L780.8,80.9L785.3,75.5L789.7,70.2L794.2,64.8L798.7,59.5L804.0,54.2L809.3,50.6L812.9,47.0L813.8,42.6L815.6,38.1L816.1,34.6L816.5,31.0M836.9,31.0L836.1,36.3L835.2,41.7L833.9,46.1L835.7,50.6L836.9,55.0L837.8,60.4L836.1,64.8L835.7,69.3L834.3,73.7L833.9,78.2L835.2,81.8L836.6,82.7L837.8,79.1L839.6,76.4L842.3,73.7L845.8,72.3L849.4,73.4L852.1,75.5L853.9,80.5L855.3,77.7L854.8,72.9L853.5,70.2L851.2,71.1L849.9,68.4L848.5,65.7L845.8,63.1L844.1,59.5L843.2,55.9L844.1,51.5L845.8,47.9L847.6,44.4L850.3,41.7L853.9,39.9L858.3,39.0L862.8,39.5L866.3,41.7L869.0,44.4L870.3,47.4L869.9,44.4L867.8,40.8L865.4,37.2L863.7,34.2L862.4,31.0M930.8,86.2L933.1,84.1L935.8,82.3L938.5,80.9L939.4,81.8L936.7,84.1L934.0,85.9L931.9,87.3ZM555.0,157.5L558.6,154.2L562.1,150.7L565.7,148.0L570.1,146.8L574.6,146.4L578.2,145.7L579.9,148.0L582.6,148.9L583.5,151.6L581.7,155.1L579.0,157.8L576.0,159.9L573.7,162.3L571.9,164.0L572.8,165.8L575.5,166.4L578.2,165.8L576.4,167.6L572.8,169.4L570.1,171.2L568.9,172.9L570.1,174.2L572.8,173.5L575.5,172.1L577.3,170.3L576.0,169.4L579.0,167.6L582.6,165.8L587.1,164.0L592.4,162.3L597.7,161.0L603.1,159.9L608.4,159.2L612.0,160.5L615.6,161.4L619.1,162.8L623.6,162.8L625.9,163.2L623.6,164.9L622.3,168.5L621.3,172.1L622.7,174.2L625.4,174.7L623.6,175.6L620.0,176.5L618.2,178.3L616.4,181.3L614.7,182.4M668.1,221.0L670.8,219.3L672.6,216.6L674.3,213.9L675.8,210.4L676.5,206.8L676.1,202.3L675.2,197.9L673.4,193.4L670.8,189.0L668.1,184.5L665.4,180.1L662.8,176.5L660.1,173.8L656.5,171.2L653.0,169.4L650.3,168.1L649.0,166.7L650.3,164.0L652.1,161.4L654.7,159.2L658.3,157.5L662.8,155.7L667.2,153.4L671.7,150.7L675.2,148.0L677.9,146.2L679.3,143.6L679.7,140.0M555.0,188.1L559.5,186.7L563.9,186.0L568.4,187.2L571.9,189.0L575.5,190.2L579.9,189.9L583.5,190.8L587.1,191.3L588.8,192.5L587.1,194.9L584.4,197.0L580.8,197.9L577.3,198.8L573.7,200.6L570.1,202.0L566.6,203.2L563.9,205.0L561.2,206.3L558.6,207.7L555.0,208.6M555.0,229.1L557.7,232.6L559.5,237.1L561.2,241.5L563.0,245.1L564.8,249.0L565.7,254.0M633.4,242.9L636.0,241.2L639.6,240.3L643.2,240.6L643.7,242.4L641.4,243.8L637.8,244.5L634.3,244.2ZM564.8,249.0L567.5,251.7L570.1,254.3L572.8,257.0L576.4,258.8L578.5,261.5L579.0,264.1L577.3,265.9L574.6,265.0L571.9,264.1L572.8,266.8L576.0,268.2L578.2,270.4L577.8,273.9L575.5,276.6L571.9,278.4L568.4,279.6L564.8,280.7L562.1,281.9L563.9,283.2L567.5,283.7L571.9,284.3L576.4,284.6L580.8,284.3L583.5,285.5L581.7,287.3L579.0,288.5L577.3,290.9L579.0,292.6L577.8,295.0L575.5,296.7L576.7,298.9L574.6,301.0L572.8,303.3L573.7,305.6L571.4,307.8L569.6,310.4L567.5,311.7L564.8,311.3L563.0,313.5L561.2,316.3L559.5,318.8L557.7,321.7L556.4,324.7L555.0,327.4M555.0,260.6L559.5,259.7L563.9,261.1L566.0,264.1L564.8,267.7L562.1,270.4L559.5,273.0L556.8,273.9L555.0,273.0M555.0,281.1L558.6,280.7L562.1,281.9M688.9,279.6L690.7,280.5L690.9,282.3L689.3,283.6L687.5,282.7L687.2,280.9ZM556.2,373.4L557.4,368.6L559.8,363.9L562.8,359.1L565.7,354.3L568.7,350.1L571.7,347.4L574.7,346.0L577.7,347.4L580.1,348.9L579.5,351.9L578.9,355.5L577.7,359.1L576.5,363.3L575.3,367.4L573.8,371.6L572.3,375.2L570.5,378.2L568.7,381.2L567.5,384.1L566.9,387.7L565.7,389.1L564.5,387.7L563.9,384.7L562.2,382.9L559.8,381.2L558.0,378.8L556.8,376.4ZM834.4,87.8L836.8,89.5L839.7,91.9L842.7,94.9L845.7,97.9L849.3,100.3L852.9,102.4L856.4,104.5L860.0,105.3L863.6,106.5L867.2,107.7L870.8,107.7L873.7,106.2L876.1,104.5L878.3,102.9L877.3,105.6L876.1,108.6L876.7,111.6L878.5,114.0L880.9,115.5L883.9,114.8L882.1,116.4L879.1,117.2L876.1,117.9L873.1,118.8L869.6,120.0L866.0,120.6L862.4,121.8L859.4,123.5L857.0,125.3L854.6,127.7L852.9,130.7L851.7,133.4L849.3,132.5L846.3,131.1L842.7,129.5L839.1,127.7L835.6,125.9L832.0,124.7L829.0,125.1L826.0,126.5L823.6,128.3L821.8,127.7L819.5,126.3L817.1,125.6L814.7,126.5L813.5,128.3L814.7,130.1L817.1,131.3L819.5,132.5L821.8,133.7L824.2,134.9L823.0,136.1L820.6,135.5L818.3,136.7L815.9,138.5L813.5,139.6L811.1,139.0L810.3,136.7L809.3,133.7L808.7,130.7L807.5,127.7L808.1,125.3L809.9,123.5L812.3,122.3L814.1,120.6L814.7,118.2L815.3,115.8L817.7,115.5L820.6,116.4L823.6,117.0L826.0,116.4L827.2,114.6L827.0,111.6L828.2,109.2L830.2,106.8L830.8,103.9L832.0,100.9L832.6,97.9L832.0,94.9L830.8,91.9L830.5,89.5L832.0,88.4ZM809.3,153.0L810.5,150.4L812.3,148.6L814.1,146.8L814.7,144.4L815.9,142.6L818.3,142.0L818.9,144.4L819.5,146.8L821.2,147.4L823.0,146.2L823.6,143.8L823.0,141.4L821.8,139.6L823.6,139.0L825.4,140.2L827.2,140.8L828.4,142.6L827.8,145.6L829.0,148.6L830.8,151.6L832.0,153.0L832.2,152.5L834.0,155.5L835.2,159.1L836.1,162.7L836.3,165.6L835.2,168.6L833.4,171.3L831.6,173.4L830.4,175.8L829.4,178.8L828.0,179.4L826.2,178.8L823.8,180.0L822.0,181.8L821.4,184.1L822.3,187.1L823.2,190.1L823.3,192.4L822.3,195.4L821.1,198.4L819.3,201.9L818.1,204.9L817.5,207.9L818.7,209.7L820.2,210.9L821.1,212.4L819.3,213.3L817.5,213.9L815.8,216.2L814.0,218.0L812.2,218.6L810.4,219.8L809.2,221.6L807.8,222.8L806.8,221.3L805.8,219.2L805.4,217.2L806.6,215.3L808.2,213.9L810.1,214.2L811.2,216.2L810.4,218.9L809.2,221.3L807.8,222.8L806.6,221.3L805.4,217.7L803.2,218.4L801.4,219.8L799.6,222.2L797.9,224.6L796.1,225.8L795.1,224.6L794.9,222.2L793.4,221.3L791.3,222.0L789.5,223.4L788.3,225.2L787.1,227.0L784.1,226.4L781.2,225.8L778.2,225.2L775.2,225.5L772.8,225.2L771.3,224.0L770.8,222.2L769.2,221.6L768.0,223.2L767.2,225.2L768.0,227.0L769.8,228.2L770.8,230.0L769.2,231.2L766.8,231.8L764.5,232.7L762.7,234.1L760.9,235.9L759.1,237.7L757.3,239.5L754.9,241.1L752.6,240.1L750.8,238.5L749.0,236.8L747.8,234.4L748.4,232.0L749.6,230.2L751.4,229.0L752.6,227.2L752.0,225.4L749.6,225.8L746.6,226.3L744.2,225.8L741.3,225.4L738.3,225.8L735.9,227.2L733.5,228.4L731.1,227.8L727.5,228.4L724.0,229.0L720.4,229.6L716.8,230.2L714.4,230.8L713.2,232.6L712.0,233.8L710.8,232.0L709.0,231.4L706.1,232.2L703.1,232.9L700.1,232.6L697.7,233.2L695.9,233.8L694.1,232.0L697.1,230.2L700.1,228.4L703.1,226.3L706.1,224.2L709.0,222.2L712.0,220.1L715.0,218.3L718.0,216.5L721.0,215.3L723.4,215.3L726.3,215.5L729.9,215.0L733.5,214.7L737.1,214.1L740.7,213.8L744.2,213.5L747.8,212.9L749.3,214.1L750.8,215.3L753.2,214.7L755.6,213.5L757.3,215.1L759.1,213.3L758.5,210.9L759.1,208.5L760.9,206.7L760.6,206.2L763.0,204.4L765.4,202.0L767.2,199.6L768.6,197.3L767.8,194.9L768.4,192.7L770.1,191.5L772.5,190.7L774.9,189.9L775.5,191.1L773.7,192.5L771.3,193.7L770.7,195.5L771.9,197.9L774.3,199.0L776.7,197.9L779.7,196.3L782.7,194.9L785.6,193.1L788.6,191.3L791.0,189.5L793.4,187.1L795.8,185.3L798.2,184.1L800.6,182.3L802.3,180.0L804.1,177.0L805.9,174.0L807.7,171.0L809.5,168.0L810.7,165.1L811.1,162.1L810.7,159.1L808.9,159.7L806.5,159.1L807.1,157.9L809.1,156.7L809.5,153.7ZM709.0,242.9L710.8,241.7L712.6,239.9L714.4,238.1L716.8,236.3L719.8,234.5L722.8,233.1L726.3,231.9L729.9,231.0L733.5,230.0L735.9,229.8L738.9,231.0L741.3,232.2L742.8,233.9L743.0,235.7L741.6,237.5L740.1,239.1L738.9,240.7L737.7,242.7L736.1,244.1L734.1,244.7L732.3,243.5L729.9,242.3L727.5,241.5L725.4,242.3L723.7,243.8L722.5,245.5L721.3,247.4L720.1,249.1L719.0,250.3L717.4,248.9L715.6,247.7L714.4,245.9L713.8,243.5L712.6,241.7L710.8,242.7ZM674.5,244.1L676.8,242.7L679.8,241.1L683.4,239.3L687.0,237.5L690.6,236.0L693.5,235.1L695.9,236.3L697.7,237.5L700.1,239.1L702.2,240.5L703.7,242.3L705.1,244.7L706.1,247.1L706.3,249.5L705.1,251.8L703.9,254.2L703.1,256.6L702.2,259.0L701.5,261.4L701.1,263.8L700.1,265.6L698.3,266.8L696.5,267.9L695.1,269.7L693.5,271.5L691.8,273.0L690.6,272.1L691.2,269.7L691.8,267.3L691.2,265.0L690.0,265.6L689.4,267.7L688.8,270.1L687.0,270.6L685.2,269.1L684.6,266.8L684.4,263.8L684.0,260.8L683.4,258.4L682.4,256.3L681.6,254.2L680.4,252.2L679.2,250.3L677.7,248.6L676.0,247.1L674.8,245.5ZM682.2,244.1L684.0,245.9L685.8,248.3L687.0,250.6L687.9,253.0L687.0,255.4L685.2,256.3L684.0,254.2L684.6,251.8L683.6,249.5L682.2,247.7L680.8,245.9ZM677.7,248.6L679.2,247.7L680.4,248.9L681.6,250.6L682.8,252.7L683.4,254.8M758.0,220.6L759.2,218.3L760.9,216.5L762.1,217.1L761.5,218.9L759.7,220.6L758.6,221.8ZM741.9,227.8L743.6,226.6L744.8,227.8L743.6,230.2L742.1,230.8ZM787.2,185.9L788.0,183.5L789.6,180.6L791.3,179.6L791.6,181.8L790.4,184.4L788.9,186.5L787.4,186.8ZM879.1,109.8L881.5,107.7L883.9,105.6L886.3,103.6L888.6,101.5L890.4,100.5L893.4,101.2L891.6,102.7L889.2,103.9L886.9,105.6L884.5,107.7L882.1,109.8L880.3,111.0ZM897.8,100.9L900.0,99.1L902.4,97.3L904.7,95.5L907.1,93.7L909.5,91.9L911.3,89.5L912.5,90.7L914.3,90.1L916.7,88.9L919.7,87.8L923.2,86.7L924.1,87.4L923.0,88.9L920.3,90.1L917.3,91.0L914.3,91.9L911.9,93.4L909.5,94.9L907.1,96.5L904.7,97.9L902.4,99.3L900.0,100.9L898.5,101.7Z" fill="none" stroke="#000" stroke-width="1.25" stroke-linejoin="round"/>
<path d="M606.7,90.1L609.3,90.7L611.1,91.9L609.3,92.3L607.5,91.2ZM616.1,116.8L617.3,115.8L617.7,118.3L616.4,118.3ZM640.0,111.1L642.3,110.6L643.5,112.4L642.3,113.3L640.5,112.6ZM666.7,109.9L668.1,107.2L669.9,106.9L669.9,108.7L668.6,110.3ZM824.5,91.2L826.6,90.8L827.1,92.6L825.4,93.3ZM802.2,130.4L804.0,129.3L804.9,130.7L803.1,131.8ZM894.5,108.5L896.6,107.9L898.4,109.0L896.6,110.1L894.8,109.7ZM617.3,151.6L620.0,150.3L622.7,149.8L621.8,151.0L619.1,152.1ZM570.7,163.2L572.5,162.8L572.8,164.6L571.0,164.9ZM671.7,307.8L674.3,306.0L677.9,304.6L678.8,306.0L676.1,308.7L673.4,309.9ZM668.1,313.5L669.9,312.8L669.9,315.3L668.5,315.8ZM693.9,280.7L694.8,277.5L696.2,275.4L697.0,276.6L695.7,279.6L694.6,281.6ZM601.3,357.8L604.0,356.5L606.7,357.0L609.3,355.3L610.6,355.6L608.4,358.3L605.8,359.2L602.7,359.5ZM621.3,350.6L623.6,351.2L624.8,353.3L622.7,353.8ZM652.6,335.1L653.8,332.1L656.5,329.3L659.2,326.8L661.5,326.2L660.4,328.9L657.9,331.6L655.3,334.2L653.3,336.4ZM672.1,233.2L672.9,229.6L673.9,226.6L675.3,225.4L675.6,227.2L674.8,230.2L673.6,232.9ZM725.5,206.1L725.1,207.0L724.2,207.4L723.3,207.0L722.9,206.1L723.3,205.2L724.2,204.8L725.1,205.2ZM723.8,215.3L723.5,216.0L722.8,216.3L722.1,216.0L721.8,215.3L722.1,214.6L722.8,214.3L723.5,214.6ZM815.3,208.6L815.0,209.2L814.4,209.5L813.8,209.2L813.5,208.6L813.8,208.0L814.4,207.7L815.0,208.0ZM667.6,251.2L667.2,252.3L666.1,252.7L665.0,252.3L664.6,251.2L665.0,250.1L666.1,249.7L667.2,250.1ZM671.9,247.1L671.6,247.8L670.9,248.1L670.2,247.8L669.9,247.1L670.2,246.4L670.9,246.1L671.6,246.4ZM679.5,237.3L679.2,238.1L678.4,238.4L677.6,238.1L677.3,237.3L677.6,236.5L678.4,236.2L679.2,236.5Z" fill="#000" stroke="#000" stroke-width="0.9" stroke-linejoin="round"/>
</g>
<rect x="555.5" y="31.5" width="383" height="383" fill="none" stroke="#000" stroke-width="1"/>
<text x="607.9" y="424.9" font-size="9.8" textLength="22.3" lengthAdjust="spacingAndGlyphs" text-anchor="start" >125°E</text>
<text x="671.7" y="424.9" font-size="9.8" textLength="22.3" lengthAdjust="spacingAndGlyphs" text-anchor="start" >130°E</text>
<text x="735.4" y="424.9" font-size="9.8" textLength="22.3" lengthAdjust="spacingAndGlyphs" text-anchor="start" >135°E</text>
<text x="799.2" y="424.9" font-size="9.8" textLength="22.3" lengthAdjust="spacingAndGlyphs" text-anchor="start" >140°E</text>
<text x="863.0" y="424.9" font-size="9.8" textLength="22.3" lengthAdjust="spacingAndGlyphs" text-anchor="start" >145°E</text>
<text x="531.0" y="351.9" font-size="9.8" textLength="18.6" lengthAdjust="spacingAndGlyphs" text-anchor="start" >25°N</text>
<text x="531.0" y="288.1" font-size="9.8" textLength="18.6" lengthAdjust="spacingAndGlyphs" text-anchor="start" >30°N</text>
<text x="531.0" y="224.4" font-size="9.8" textLength="18.6" lengthAdjust="spacingAndGlyphs" text-anchor="start" >35°N</text>
<text x="531.0" y="160.6" font-size="9.8" textLength="18.6" lengthAdjust="spacingAndGlyphs" text-anchor="start" >40°N</text>
<text x="531.0" y="96.9" font-size="9.8" textLength="18.6" lengthAdjust="spacingAndGlyphs" text-anchor="start" >45°N</text>
<text x="601.30" y="25.8" font-size="12.36" textLength="39.56" lengthAdjust="spacingAndGlyphs" >Hourly</text><text x="644.70" y="25.8" font-size="12.36" textLength="89.93" lengthAdjust="spacingAndGlyphs" >Radar-AMeDAS</text><text x="738.47" y="25.8" font-size="12.36" textLength="48.86" lengthAdjust="spacingAndGlyphs" >analysis</text><text x="791.16" y="25.8" font-size="12.36" textLength="16.59" lengthAdjust="spacingAndGlyphs" >for</text><text x="811.59" y="25.8" font-size="12.36" textLength="61.42" lengthAdjust="spacingAndGlyphs" >20251003</text><text x="876.84" y="25.8" font-size="12.36" textLength="15.36" lengthAdjust="spacingAndGlyphs" >17</text>
<text x="561.60" y="406.8" font-size="10.30" textLength="43.35" lengthAdjust="spacingAndGlyphs" >Provided</text><text x="608.12" y="406.8" font-size="10.30" textLength="12.25" lengthAdjust="spacingAndGlyphs" >by</text><text x="623.54" y="406.8" font-size="10.30" textLength="40.86" lengthAdjust="spacingAndGlyphs" >JWA/JMA</text>
<rect x="810.5" y="271.4" width="104.7" height="103.7" fill="#fff" stroke="#000" stroke-width="1"/>
<line x1="810.5" y1="375.1" x2="915.2" y2="271.4" stroke="#000" stroke-width="1"/>
<path d="M810.5,375.1v3M810.5,375.1h-3M814.7,375.1v1.6M810.5,371.0h-1.6M818.9,375.1v1.6M810.5,366.8h-1.6M823.1,375.1v1.6M810.5,362.7h-1.6M827.3,375.1v1.6M810.5,358.5h-1.6M831.4,375.1v3M810.5,354.4h-3M835.6,375.1v1.6M810.5,350.2h-1.6M839.8,375.1v1.6M810.5,346.1h-1.6M844.0,375.1v1.6M810.5,341.9h-1.6M848.2,375.1v1.6M810.5,337.8h-1.6M852.4,375.1v3M810.5,333.6h-3M856.6,375.1v1.6M810.5,329.5h-1.6M860.8,375.1v1.6M810.5,325.3h-1.6M864.9,375.1v1.6M810.5,321.2h-1.6M869.1,375.1v1.6M810.5,317.0h-1.6M873.3,375.1v3M810.5,312.9h-3M877.5,375.1v1.6M810.5,308.7h-1.6M881.7,375.1v1.6M810.5,304.6h-1.6M885.9,375.1v1.6M810.5,300.4h-1.6M890.1,375.1v1.6M810.5,296.3h-1.6M894.3,375.1v3M810.5,292.1h-3M898.4,375.1v1.6M810.5,288.0h-1.6M902.6,375.1v1.6M810.5,283.8h-1.6M906.8,375.1v1.6M810.5,279.7h-1.6M911.0,375.1v1.6M810.5,275.5h-1.6M915.2,375.1v3M810.5,271.4h-3" stroke="#000" stroke-width="0.7" fill="none"/>
<text x="808.4" y="386.4" font-size="8.5" textLength="4.2" lengthAdjust="spacingAndGlyphs" text-anchor="start" >0</text>
<text x="802.8" y="378.2" font-size="8.5" textLength="4.2" lengthAdjust="spacingAndGlyphs" text-anchor="start" >0</text>
<text x="827.1" y="386.4" font-size="8.5" textLength="8.6" lengthAdjust="spacingAndGlyphs" text-anchor="start" >10</text>
<text x="798.4" y="357.5" font-size="8.5" textLength="8.6" lengthAdjust="spacingAndGlyphs" text-anchor="start" >10</text>
<text x="848.1" y="386.4" font-size="8.5" textLength="8.6" lengthAdjust="spacingAndGlyphs" text-anchor="start" >20</text>
<text x="798.4" y="336.7" font-size="8.5" textLength="8.6" lengthAdjust="spacingAndGlyphs" text-anchor="start" >20</text>
<text x="869.0" y="386.4" font-size="8.5" textLength="8.6" lengthAdjust="spacingAndGlyphs" text-anchor="start" >30</text>
<text x="798.4" y="316.0" font-size="8.5" textLength="8.6" lengthAdjust="spacingAndGlyphs" text-anchor="start" >30</text>
<text x="890.0" y="386.4" font-size="8.5" textLength="8.6" lengthAdjust="spacingAndGlyphs" text-anchor="start" >40</text>
<text x="798.4" y="295.2" font-size="8.5" textLength="8.6" lengthAdjust="spacingAndGlyphs" text-anchor="start" >40</text>
<text x="910.9" y="386.4" font-size="8.5" textLength="8.6" lengthAdjust="spacingAndGlyphs" text-anchor="start" >50</text>
<text x="798.4" y="274.5" font-size="8.5" textLength="8.6" lengthAdjust="spacingAndGlyphs" text-anchor="start" >50</text>
<text x="838.2" y="398.8" font-size="10" textLength="46.3" lengthAdjust="spacingAndGlyphs" text-anchor="start" >ANALYSIS</text>
<text transform="translate(790.5,366.5) rotate(-90)" font-size="10.3" textLength="85.3" lengthAdjust="spacingAndGlyphs">GSMAP_NRT_1HR</text>
<path d="M856.7,354.4h4M858.7,352.4v4M869.2,354.4h4M871.2,352.4v4M849.3,362.2h4M851.3,360.2v4M835.7,367.2h4M837.7,365.2v4M841.6,370.3h4M843.6,368.3v4M830.5,369.3h4M832.5,367.3v4M832.6,373.2h4M834.6,371.2v4M825.3,363.7h4M827.3,361.7v4M824.2,365.6h4M826.2,363.6v4M818.1,358.5h4M820.1,356.5v4M814.8,360.6h4M816.8,358.6v4M812.7,361.6h4M814.7,359.6v4M811.0,362.0h4M813.0,360.0v4M815.6,360.2h4M817.6,358.2v4M828.4,373.0h4M830.4,371.0v4M826.3,372.0h4M828.3,370.0v4M824.8,370.3h4M826.8,368.3v4M822.7,368.5h4M824.7,366.5v4M821.1,366.4h4M823.1,364.4v4M819.4,364.7h4M821.4,362.7v4" stroke="#000" stroke-width="0.8" fill="none"/>
<path d="M810.5,375.1 L810.5,365.6 L813.6,365.1 L817.8,366.4 L822.0,368.9 L826.2,371.8 L830.4,374.3 L831.4,375.1 Z" fill="#000"/>
<rect x="971.6" y="377.0" width="22.0" height="36.8" fill="#ffe6be"/>
<rect x="971.6" y="340.5" width="22.0" height="36.8" fill="#dcffc8"/>
<rect x="971.6" y="304.0" width="22.0" height="36.8" fill="#96ff96"/>
<rect x="971.6" y="267.5" width="22.0" height="36.8" fill="#64ffff"/>
<rect x="971.6" y="231.0" width="22.0" height="36.8" fill="#00c8ff"/>
<rect x="971.6" y="194.5" width="22.0" height="36.8" fill="#0064ff"/>
<rect x="971.6" y="158.0" width="22.0" height="36.8" fill="#9664ff"/>
<rect x="971.6" y="121.5" width="22.0" height="36.8" fill="#dc64ff"/>
<rect x="971.6" y="85.0" width="22.0" height="36.8" fill="#ff00ff"/>
<rect x="971.6" y="48.5" width="22.0" height="36.8" fill="#d29b46"/>
<path d="M971.6,48.5 L982.6,30.3 L993.6,48.5 Z" fill="#000"/>
<path d="M971.6,413.5 V48.5 L982.6,30.3 L993.6,48.5 V413.5 Z" fill="none" stroke="#000" stroke-width="0.8"/>
<line x1="994.0" y1="414.4" x2="998.6" y2="414.4" stroke="#000" stroke-width="1"/>
<text x="1001.6" y="418.6" font-size="12" textLength="7.0" lengthAdjust="spacingAndGlyphs" text-anchor="start" >0</text>
<line x1="994.0" y1="377.9" x2="998.6" y2="377.9" stroke="#000" stroke-width="1"/>
<text x="1001.6" y="382.1" font-size="12" textLength="25.0" lengthAdjust="spacingAndGlyphs" text-anchor="start" >0.01</text>
<line x1="994.0" y1="341.4" x2="998.6" y2="341.4" stroke="#000" stroke-width="1"/>
<text x="1001.6" y="345.6" font-size="12" textLength="18.0" lengthAdjust="spacingAndGlyphs" text-anchor="start" >0.5</text>
<line x1="994.0" y1="304.9" x2="998.6" y2="304.9" stroke="#000" stroke-width="1"/>
<text x="1001.6" y="309.1" font-size="12" textLength="7.0" lengthAdjust="spacingAndGlyphs" text-anchor="start" >1</text>
<line x1="994.0" y1="268.4" x2="998.6" y2="268.4" stroke="#000" stroke-width="1"/>
<text x="1001.6" y="272.6" font-size="12" textLength="7.0" lengthAdjust="spacingAndGlyphs" text-anchor="start" >2</text>
<line x1="994.0" y1="231.9" x2="998.6" y2="231.9" stroke="#000" stroke-width="1"/>
<text x="1001.6" y="236.1" font-size="12" textLength="7.0" lengthAdjust="spacingAndGlyphs" text-anchor="start" >3</text>
<line x1="994.0" y1="195.4" x2="998.6" y2="195.4" stroke="#000" stroke-width="1"/>
<text x="1001.6" y="199.6" font-size="12" textLength="7.0" lengthAdjust="spacingAndGlyphs" text-anchor="start" >4</text>
<line x1="994.0" y1="158.9" x2="998.6" y2="158.9" stroke="#000" stroke-width="1"/>
<text x="1001.6" y="163.1" font-size="12" textLength="7.0" lengthAdjust="spacingAndGlyphs" text-anchor="start" >5</text>
<line x1="994.0" y1="122.4" x2="998.6" y2="122.4" stroke="#000" stroke-width="1"/>
<text x="1001.6" y="126.6" font-size="12" textLength="13.5" lengthAdjust="spacingAndGlyphs" text-anchor="start" >10</text>
<line x1="994.0" y1="85.9" x2="998.6" y2="85.9" stroke="#000" stroke-width="1"/>
<text x="1001.6" y="90.1" font-size="12" textLength="13.5" lengthAdjust="spacingAndGlyphs" text-anchor="start" >25</text>
<line x1="994.0" y1="49.4" x2="998.6" y2="49.4" stroke="#000" stroke-width="1"/>
<text x="1001.6" y="53.6" font-size="12" textLength="13.5" lengthAdjust="spacingAndGlyphs" text-anchor="start" >50</text>
<rect x="74.3" y="452.2" width="104.2" height="18.0" fill="#ffe6be" stroke="#000" stroke-width="0.6"/>
<rect x="178.5" y="452.2" width="15.6" height="18.0" fill="#dcffc8" stroke="#000" stroke-width="0.6"/>
<rect x="194.1" y="452.2" width="3.3" height="18.0" fill="#96ff96" stroke="#000" stroke-width="0.6"/>
<rect x="197.4" y="452.2" width="3.7" height="18.0" fill="#64ffff" stroke="#000" stroke-width="0.6"/>
<rect x="201.1" y="452.2" width="3.3" height="18.0" fill="#00c8ff" stroke="#000" stroke-width="0.6"/>
<rect x="204.4" y="452.2" width="1.9" height="18.0" fill="#0064ff" stroke="#000" stroke-width="0.6"/>
<rect x="206.3" y="452.2" width="0.7" height="18.0" fill="#9664ff" stroke="#000" stroke-width="0.6"/>
<rect x="207.0" y="452.2" width="0.4" height="18.0" fill="#dc64ff" stroke="#000" stroke-width="0.6"/>
<rect x="207.4" y="452.2" width="0.4" height="18.0" fill="#ff00ff" stroke="#000" stroke-width="0.6"/>
<rect x="207.8" y="452.2" width="0.2" height="18.0" fill="#d29b46" stroke="#000" stroke-width="0.6"/>
<rect x="74.3" y="479.3" width="82.2" height="18.1" fill="#ffe6be" stroke="#000" stroke-width="0.6"/>
<rect x="156.5" y="479.3" width="31.8" height="18.1" fill="#dcffc8" stroke="#000" stroke-width="0.6"/>
<rect x="188.3" y="479.3" width="6.9" height="18.1" fill="#96ff96" stroke="#000" stroke-width="0.6"/>
<rect x="195.2" y="479.3" width="3.8" height="18.1" fill="#64ffff" stroke="#000" stroke-width="0.6"/>
<rect x="199.0" y="479.3" width="3.2" height="18.1" fill="#00c8ff" stroke="#000" stroke-width="0.6"/>
<rect x="202.2" y="479.3" width="2.2" height="18.1" fill="#0064ff" stroke="#000" stroke-width="0.6"/>
<rect x="204.4" y="479.3" width="1.2" height="18.1" fill="#9664ff" stroke="#000" stroke-width="0.6"/>
<rect x="205.6" y="479.3" width="1.0" height="18.1" fill="#dc64ff" stroke="#000" stroke-width="0.6"/>
<rect x="206.6" y="479.3" width="0.9" height="18.1" fill="#ff00ff" stroke="#000" stroke-width="0.6"/>
<rect x="207.5" y="479.3" width="0.5" height="18.1" fill="#d29b46" stroke="#000" stroke-width="0.6"/>
<path d="M178.5,470.2L156.5,479.3M194.1,470.2L188.3,479.3M197.4,470.2L195.2,479.3M201.1,470.2L199.0,479.3M204.4,470.2L202.2,479.3M206.3,470.2L204.4,479.3M207.0,470.2L205.6,479.3M207.4,470.2L206.6,479.3M207.8,470.2L207.5,479.3" stroke="#000" stroke-width="0.5" fill="none"/>
<line x1="74.3" y1="452.2" x2="74.3" y2="497.4" stroke="#000" stroke-width="0.8"/>
<text x="68.70" y="446.7" font-size="10.30" textLength="32.49" lengthAdjust="spacingAndGlyphs" >Hourly</text><text x="104.34" y="446.7" font-size="10.30" textLength="38.07" lengthAdjust="spacingAndGlyphs" >fraction</text><text x="145.57" y="446.7" font-size="10.30" textLength="12.16" lengthAdjust="spacingAndGlyphs" >by</text><text x="160.87" y="446.7" font-size="10.30" textLength="51.03" lengthAdjust="spacingAndGlyphs" >occurence</text>
<text x="47.8" y="465.6" font-size="10" textLength="14.1" lengthAdjust="spacingAndGlyphs" text-anchor="start" >Est</text>
<text x="48.3" y="493.0" font-size="10" textLength="17.6" lengthAdjust="spacingAndGlyphs" text-anchor="start" >Obs</text>
<text x="58.5" y="509.6" font-size="10" textLength="14.8" lengthAdjust="spacingAndGlyphs" text-anchor="start" >0%</text>
<text x="102.40" y="509.6" font-size="10.30" textLength="25.49" lengthAdjust="spacingAndGlyphs" >Areal</text><text x="131.03" y="509.6" font-size="10.30" textLength="37.97" lengthAdjust="spacingAndGlyphs" >fraction</text>
<text x="195.2" y="509.6" font-size="10" textLength="26.8" lengthAdjust="spacingAndGlyphs" text-anchor="start" >100%</text>
<rect x="74.3" y="533.1" width="5.9" height="18.0" fill="#dcffc8" stroke="#000" stroke-width="0.6"/>
<rect x="80.2" y="533.1" width="6.1" height="18.0" fill="#96ff96" stroke="#000" stroke-width="0.6"/>
<rect x="86.3" y="533.1" width="16.1" height="18.0" fill="#64ffff" stroke="#000" stroke-width="0.6"/>
<rect x="102.4" y="533.1" width="15.7" height="18.0" fill="#00c8ff" stroke="#000" stroke-width="0.6"/>
<rect x="118.1" y="533.1" width="16.3" height="18.0" fill="#0064ff" stroke="#000" stroke-width="0.6"/>
<rect x="134.4" y="533.1" width="6.2" height="18.0" fill="#9664ff" stroke="#000" stroke-width="0.6"/>
<rect x="140.6" y="533.1" width="5.7" height="18.0" fill="#dc64ff" stroke="#000" stroke-width="0.6"/>
<rect x="146.3" y="533.1" width="2.2" height="18.0" fill="#ff00ff" stroke="#000" stroke-width="0.6"/>
<rect x="74.3" y="560.2" width="16.1" height="18.1" fill="#dcffc8" stroke="#000" stroke-width="0.6"/>
<rect x="90.4" y="560.2" width="12.9" height="18.1" fill="#96ff96" stroke="#000" stroke-width="0.6"/>
<rect x="103.3" y="560.2" width="17.3" height="18.1" fill="#64ffff" stroke="#000" stroke-width="0.6"/>
<rect x="120.6" y="560.2" width="13.7" height="18.1" fill="#00c8ff" stroke="#000" stroke-width="0.6"/>
<rect x="134.3" y="560.2" width="17.4" height="18.1" fill="#0064ff" stroke="#000" stroke-width="0.6"/>
<rect x="151.7" y="560.2" width="12.6" height="18.1" fill="#9664ff" stroke="#000" stroke-width="0.6"/>
<rect x="164.3" y="560.2" width="28.3" height="18.1" fill="#dc64ff" stroke="#000" stroke-width="0.6"/>
<rect x="192.6" y="560.2" width="10.9" height="18.1" fill="#ff00ff" stroke="#000" stroke-width="0.6"/>
<rect x="203.5" y="560.2" width="4.5" height="18.1" fill="#d29b46" stroke="#000" stroke-width="0.6"/>
<path d="M80.2,551.1L90.4,560.2M86.3,551.1L103.3,560.2M102.4,551.1L120.6,560.2M118.1,551.1L134.3,560.2M134.4,551.1L151.7,560.2M140.6,551.1L164.3,560.2M146.3,551.1L192.6,560.2M148.5,551.1L203.5,560.2M148.5,551.1L208.0,560.2" stroke="#000" stroke-width="0.5" fill="none"/>
<line x1="74.3" y1="533.1" x2="74.3" y2="578.3" stroke="#000" stroke-width="0.8"/>
<text x="72.60" y="527.6" font-size="10.30" textLength="32.50" lengthAdjust="spacingAndGlyphs" >Hourly</text><text x="108.25" y="527.6" font-size="10.30" textLength="38.08" lengthAdjust="spacingAndGlyphs" >fraction</text><text x="149.48" y="527.6" font-size="10.30" textLength="9.56" lengthAdjust="spacingAndGlyphs" >of</text><text x="162.19" y="527.6" font-size="10.30" textLength="22.67" lengthAdjust="spacingAndGlyphs" >total</text><text x="188.01" y="527.6" font-size="10.30" textLength="19.19" lengthAdjust="spacingAndGlyphs" >rain</text>
<text x="47.8" y="546.5" font-size="10" textLength="14.1" lengthAdjust="spacingAndGlyphs" text-anchor="start" >Est</text>
<text x="48.3" y="573.9" font-size="10" textLength="17.6" lengthAdjust="spacingAndGlyphs" text-anchor="start" >Obs</text>
<text x="58.50" y="589.6" font-size="10.30" textLength="37.03" lengthAdjust="spacingAndGlyphs" >Rainfall</text><text x="98.69" y="589.6" font-size="10.30" textLength="67.33" lengthAdjust="spacingAndGlyphs" >accumulation</text><text x="169.19" y="589.6" font-size="10.30" textLength="12.22" lengthAdjust="spacingAndGlyphs" >by</text><text x="184.57" y="589.6" font-size="10.30" textLength="38.43" lengthAdjust="spacingAndGlyphs" >amount</text>
<path d="M277.6,478.4H401.4V573.5H277.6ZM339.3,478.4V573.5M277.6,526.4H401.4" fill="none" stroke="#000" stroke-width="1"/>
<text x="296.2" y="455.1" font-size="10" textLength="85.1" lengthAdjust="spacingAndGlyphs" text-anchor="start" >GSMAP_NRT_1HR</text>
<text x="293.7" y="469.8" font-size="10" textLength="29.0" lengthAdjust="spacingAndGlyphs" text-anchor="start" >&lt;0.01</text>
<text x="355.8" y="469.8" font-size="10" textLength="28.2" lengthAdjust="spacingAndGlyphs" text-anchor="start" >≥0.01</text>
<text x="296.4" y="506.1" font-size="10" textLength="23.6" lengthAdjust="spacingAndGlyphs" text-anchor="start" >2689</text>
<text x="361.7" y="506.1" font-size="10" textLength="16.9" lengthAdjust="spacingAndGlyphs" text-anchor="start" >100</text>
<text x="299.4" y="553.4" font-size="10" textLength="17.1" lengthAdjust="spacingAndGlyphs" text-anchor="start" >145</text>
<text x="361.7" y="553.4" font-size="10" textLength="16.9" lengthAdjust="spacingAndGlyphs" text-anchor="start" >123</text>
<text x="246.7" y="506.1" font-size="10" textLength="28.2" lengthAdjust="spacingAndGlyphs" text-anchor="start" >&lt;0.01</text>
<text x="246.2" y="553.4" font-size="10" textLength="27.9" lengthAdjust="spacingAndGlyphs" text-anchor="start" >≥0.01</text>
<text transform="translate(245.9,543.6) rotate(-90)" font-size="10.3" textLength="46.1" lengthAdjust="spacingAndGlyphs">ANALYSIS</text>
<text x="460.40" y="453.4" font-size="10.30" textLength="49.53" lengthAdjust="spacingAndGlyphs" >Validation</text><text x="513.12" y="453.4" font-size="10.30" textLength="44.71" lengthAdjust="spacingAndGlyphs" >statistics</text><text x="561.02" y="453.4" font-size="10.30" textLength="13.79" lengthAdjust="spacingAndGlyphs" >for</text><text x="578.00" y="453.4" font-size="10.30" textLength="51.05" lengthAdjust="spacingAndGlyphs" >20251003</text><text x="632.24" y="453.4" font-size="10.30" textLength="12.76" lengthAdjust="spacingAndGlyphs" >17</text><text x="651.38" y="453.4" font-size="10.30" textLength="40.29" lengthAdjust="spacingAndGlyphs" >n=3057</text><text x="694.85" y="453.4" font-size="10.30" textLength="27.36" lengthAdjust="spacingAndGlyphs" >Valid.</text><text x="725.40" y="453.4" font-size="10.30" textLength="55.40" lengthAdjust="spacingAndGlyphs" >grid=0.25°</text><text x="783.98" y="453.4" font-size="10.30" textLength="69.72" lengthAdjust="spacingAndGlyphs" >Units=mm/hr.</text>
<line x1="457.3" y1="457.5" x2="996.9" y2="457.5" stroke="#000" stroke-width="1" stroke-dasharray="3.7,1.67"/>
<line x1="457.3" y1="480.5" x2="758.2" y2="480.5" stroke="#000" stroke-width="1" stroke-dasharray="3.7,1.67"/>
<text x="609.1" y="474.7" font-size="10" textLength="46.5" lengthAdjust="spacingAndGlyphs" text-anchor="start" >ANALYSIS</text>
<text x="671.0" y="474.7" font-size="10" textLength="85.0" lengthAdjust="spacingAndGlyphs" text-anchor="start" >GSMAP_NRT_1HR</text>
<text x="460.40" y="498.7" font-size="10.30" textLength="23.37" lengthAdjust="spacingAndGlyphs" >Num</text><text x="486.92" y="498.7" font-size="10.30" textLength="9.56" lengthAdjust="spacingAndGlyphs" >of</text><text x="499.63" y="498.7" font-size="10.30" textLength="49.88" lengthAdjust="spacingAndGlyphs" >gridpoints</text><text x="552.67" y="498.7" font-size="10.30" textLength="34.53" lengthAdjust="spacingAndGlyphs" >raining</text>
<text x="630.1" y="498.7" font-size="10" textLength="18.1" lengthAdjust="spacingAndGlyphs" text-anchor="start" >268</text>
<text x="711.0" y="498.7" font-size="10" textLength="18.1" lengthAdjust="spacingAndGlyphs" text-anchor="start" >223</text>
<text x="460.40" y="518.9" font-size="10.30" textLength="40.74" lengthAdjust="spacingAndGlyphs" >Average</text><text x="504.30" y="518.9" font-size="10.30" textLength="19.20" lengthAdjust="spacingAndGlyphs" >rain</text>
<text x="633.7" y="518.9" font-size="10" textLength="14.8" lengthAdjust="spacingAndGlyphs" text-anchor="start" >0.4</text>
<text x="713.7" y="518.9" font-size="10" textLength="14.8" lengthAdjust="spacingAndGlyphs" text-anchor="start" >0.2</text>
<text x="460.40" y="538.7" font-size="10.30" textLength="55.94" lengthAdjust="spacingAndGlyphs" >Conditional</text><text x="519.48" y="538.7" font-size="10.30" textLength="19.12" lengthAdjust="spacingAndGlyphs" >rain</text>
<text x="633.7" y="538.7" font-size="10" textLength="14.8" lengthAdjust="spacingAndGlyphs" text-anchor="start" >4.5</text>
<text x="714.6" y="538.7" font-size="10" textLength="15.4" lengthAdjust="spacingAndGlyphs" text-anchor="start" >3.0</text>
<text x="633.7" y="558.4" font-size="10" textLength="14.8" lengthAdjust="spacingAndGlyphs" text-anchor="start" >0.8</text>
<text x="714.6" y="558.4" font-size="10" textLength="14.9" lengthAdjust="spacingAndGlyphs" text-anchor="start" >0.4</text>
<text x="460.40" y="577.5" font-size="10.30" textLength="48.38" lengthAdjust="spacingAndGlyphs" >Maximum</text><text x="511.90" y="577.5" font-size="10.30" textLength="19.00" lengthAdjust="spacingAndGlyphs" >rain</text>
<text x="626.9" y="577.5" font-size="10" textLength="21.3" lengthAdjust="spacingAndGlyphs" text-anchor="start" >29.3</text>
<text x="708.1" y="577.5" font-size="10" textLength="21.0" lengthAdjust="spacingAndGlyphs" text-anchor="start" >10.2</text>
<text x="461.3" y="558.6" font-size="10" textLength="133" lengthAdjust="spacingAndGlyphs">Rain volume (mm km<tspan font-size="7" dy="-3.5">2</tspan><tspan dy="3.5">10</tspan><tspan font-size="7" dy="-3.5">6</tspan><tspan dy="3.5">)</tspan></text>
<text x="784.40" y="471.7" font-size="10.30" textLength="27.04" lengthAdjust="spacingAndGlyphs" >Mean</text><text x="814.59" y="471.7" font-size="10.30" textLength="17.55" lengthAdjust="spacingAndGlyphs" >abs</text><text x="835.30" y="471.7" font-size="10.30" textLength="24.03" lengthAdjust="spacingAndGlyphs" >error</text><text x="862.48" y="471.7" font-size="10.30" textLength="8.32" lengthAdjust="spacingAndGlyphs" >=</text><text x="883.42" y="471.7" font-size="10.30" textLength="15.78" lengthAdjust="spacingAndGlyphs" >0.3</text>
<text x="784.40" y="488.6" font-size="10.30" textLength="21.66" lengthAdjust="spacingAndGlyphs" >RMS</text><text x="809.20" y="488.6" font-size="10.30" textLength="23.91" lengthAdjust="spacingAndGlyphs" >error</text><text x="836.25" y="488.6" font-size="10.30" textLength="8.28" lengthAdjust="spacingAndGlyphs" >=</text><text x="857.09" y="488.6" font-size="10.30" textLength="15.71" lengthAdjust="spacingAndGlyphs" >1.1</text>
<text x="784.40" y="505.6" font-size="10.30" textLength="54.71" lengthAdjust="spacingAndGlyphs" >Correlation</text><text x="842.26" y="505.6" font-size="10.30" textLength="24.46" lengthAdjust="spacingAndGlyphs" >coeff</text><text x="869.88" y="505.6" font-size="10.30" textLength="8.31" lengthAdjust="spacingAndGlyphs" >=</text><text x="884.50" y="505.6" font-size="10.30" textLength="28.40" lengthAdjust="spacingAndGlyphs" >0.564</text>
<text x="784.40" y="522.5" font-size="10.30" textLength="51.47" lengthAdjust="spacingAndGlyphs" >Frequency</text><text x="839.04" y="522.5" font-size="10.30" textLength="20.39" lengthAdjust="spacingAndGlyphs" >bias</text><text x="862.59" y="522.5" font-size="10.30" textLength="8.35" lengthAdjust="spacingAndGlyphs" >=</text><text x="877.28" y="522.5" font-size="10.30" textLength="28.52" lengthAdjust="spacingAndGlyphs" >0.832</text>
<text x="784.40" y="539.5" font-size="10.30" textLength="52.50" lengthAdjust="spacingAndGlyphs" >Probability</text><text x="840.05" y="539.5" font-size="10.30" textLength="9.57" lengthAdjust="spacingAndGlyphs" >of</text><text x="852.78" y="539.5" font-size="10.30" textLength="46.90" lengthAdjust="spacingAndGlyphs" >detection</text><text x="902.84" y="539.5" font-size="10.30" textLength="8.32" lengthAdjust="spacingAndGlyphs" >=</text><text x="917.47" y="539.5" font-size="10.30" textLength="28.43" lengthAdjust="spacingAndGlyphs" >0.459</text>
<text x="784.40" y="556.4" font-size="10.30" textLength="25.09" lengthAdjust="spacingAndGlyphs" >False</text><text x="812.67" y="556.4" font-size="10.30" textLength="28.70" lengthAdjust="spacingAndGlyphs" >alarm</text><text x="844.54" y="556.4" font-size="10.30" textLength="23.04" lengthAdjust="spacingAndGlyphs" >ratio</text><text x="870.76" y="556.4" font-size="10.30" textLength="8.37" lengthAdjust="spacingAndGlyphs" >=</text><text x="885.49" y="556.4" font-size="10.30" textLength="28.61" lengthAdjust="spacingAndGlyphs" >0.448</text>
<text x="784.40" y="573.3" font-size="10.30" textLength="42.71" lengthAdjust="spacingAndGlyphs" >Hanssen</text><text x="830.27" y="573.3" font-size="10.30" textLength="7.76" lengthAdjust="spacingAndGlyphs" >&amp;</text><text x="841.20" y="573.3" font-size="10.30" textLength="36.84" lengthAdjust="spacingAndGlyphs" >Kuipers</text><text x="881.21" y="573.3" font-size="10.30" textLength="26.75" lengthAdjust="spacingAndGlyphs" >score</text><text x="911.12" y="573.3" font-size="10.30" textLength="8.34" lengthAdjust="spacingAndGlyphs" >=</text><text x="925.80" y="573.3" font-size="10.30" textLength="28.50" lengthAdjust="spacingAndGlyphs" >0.423</text>
<text x="784.40" y="590.3" font-size="10.30" textLength="46.86" lengthAdjust="spacingAndGlyphs" >Equitable</text><text x="834.42" y="590.3" font-size="10.30" textLength="30.19" lengthAdjust="spacingAndGlyphs" >threat</text><text x="867.78" y="590.3" font-size="10.30" textLength="26.73" lengthAdjust="spacingAndGlyphs" >score</text><text x="897.67" y="590.3" font-size="10.30" textLength="8.33" lengthAdjust="spacingAndGlyphs" >=</text><text x="912.32" y="590.3" font-size="10.30" textLength="28.48" lengthAdjust="spacingAndGlyphs" >0.297</text>
</svg></body></html>
